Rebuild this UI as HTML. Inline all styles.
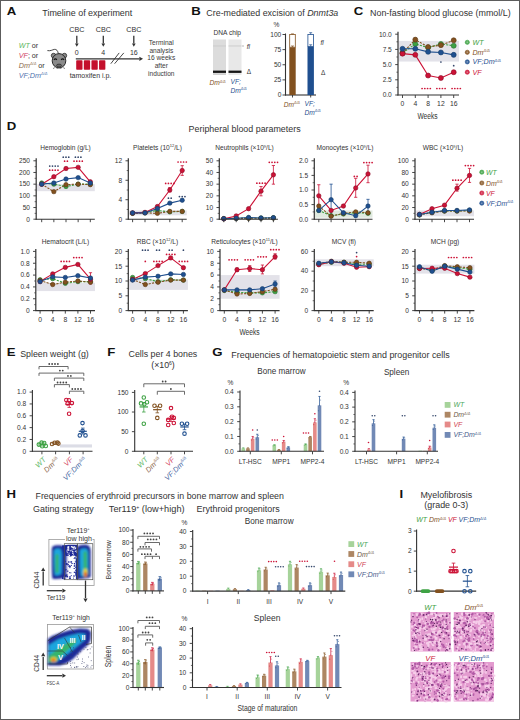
<!DOCTYPE html>
<html><head><meta charset="utf-8"><style>
html,body{margin:0;padding:0;background:#fff;width:520px;height:720px;overflow:hidden;}
svg{display:block;}
</style></head><body>
<svg width="520" height="720" viewBox="0 0 520 720" font-family='"Liberation Sans", sans-serif'>
<rect x="0" y="0" width="520" height="720" fill="#ffffff"/>
<text transform="translate(6.80 14.80) scale(1.2 1)" x="0" y="0" font-size="11" font-weight="bold" fill="#111">A</text>
<text x="42.30" y="15.60" font-size="8.9" fill="#333333" textLength="90" lengthAdjust="spacingAndGlyphs">Timeline of experiment</text>
<text x="18.70" y="48.20" font-size="7.2" fill="#333333"><tspan fill="#5cb660" font-style="italic">WT</tspan> or</text>
<text x="18.70" y="58.20" font-size="7.2" fill="#333333"><tspan fill="#cf3d62" font-style="italic">VF</tspan>; or</text>
<text x="18.70" y="68.20" font-size="7.2" fill="#333333"><tspan fill="#8d6b4a" font-style="italic">Dm<tspan font-size="4" dy="-2.8">Δ/Δ</tspan></tspan><tspan dy="2.8"> or</tspan></text>
<text x="18.70" y="77.80" font-size="7.2" fill="#333333"><tspan fill="#4e72ad" font-style="italic">VF;Dm<tspan font-size="4" dy="-2.8">Δ/Δ</tspan></tspan></text>
<path d="M58.3,53.5 C57.8,50.8 56.5,49.0 54.3,49.4 C52.3,49.8 50.5,51.2 47.4,50.6" fill="none" stroke="#333" stroke-width="0.9"/>
<circle cx="53.6" cy="55.6" r="2.3" fill="#8a8a8a" stroke="#2a2a2a" stroke-width="0.8"/>
<circle cx="64.4" cy="55.6" r="2.3" fill="#8a8a8a" stroke="#2a2a2a" stroke-width="0.8"/>
<ellipse cx="59" cy="60.8" rx="6.8" ry="7.2" fill="#8a8a8a" stroke="#2a2a2a" stroke-width="1.0"/>
<path d="M53.9,59.8 q1.5,-1.8 3.0,0" fill="none" stroke="#111" stroke-width="1.1"/>
<path d="M61.1,59.8 q1.5,-1.8 3.0,0" fill="none" stroke="#111" stroke-width="1.1"/>
<ellipse cx="59" cy="65.6" rx="2.6" ry="1.5" fill="#666" stroke="#222" stroke-width="0.7"/>
<path d="M54.8,67.6 l-1.8,1.0 M63.2,67.6 l1.8,1.0 M57.5,67.8 l-0.6,1.2 M60.5,67.8 l0.6,1.2" stroke="#333" stroke-width="0.6"/>
<text x="76.80" y="31.60" font-size="7.2" fill="#333" text-anchor="middle">CBC</text>
<line x1="76.80" y1="35.80" x2="76.80" y2="43.50" stroke="#333333" stroke-width="1.3"/>
<polygon points="74.96,43.58 78.64,43.58 76.8,46.8" fill="#333333"/>
<text x="76.80" y="55.00" font-size="7.0" fill="#333" text-anchor="middle">0</text>
<text x="103.30" y="31.60" font-size="7.2" fill="#333" text-anchor="middle">CBC</text>
<line x1="103.30" y1="35.80" x2="103.30" y2="43.50" stroke="#333333" stroke-width="1.3"/>
<polygon points="101.46,43.58 105.14,43.58 103.3,46.8" fill="#333333"/>
<text x="103.30" y="55.00" font-size="7.0" fill="#333" text-anchor="middle">4</text>
<text x="133.80" y="31.60" font-size="7.2" fill="#333" text-anchor="middle">CBC</text>
<line x1="133.80" y1="35.80" x2="133.80" y2="43.50" stroke="#333333" stroke-width="1.3"/>
<polygon points="131.96,43.58 135.64000000000001,43.58 133.8,46.8" fill="#333333"/>
<text x="133.80" y="55.00" font-size="7.0" fill="#333" text-anchor="middle">16</text>
<line x1="75.80" y1="58.80" x2="139.50" y2="58.80" stroke="#333333" stroke-width="1.3"/>
<polygon points="139.36,56.72 139.36,60.879999999999995 143.0,58.8" fill="#333333"/>
<line x1="110.80" y1="63.70" x2="119.20" y2="52.90" stroke="#333333" stroke-width="0.9"/>
<line x1="114.60" y1="63.70" x2="123.80" y2="52.90" stroke="#333333" stroke-width="0.9"/>
<rect x="76.20" y="60.2" width="6.3" height="9.6" rx="0.8" fill="#c4102c"/>
<rect x="83.82" y="60.2" width="6.3" height="9.6" rx="0.8" fill="#c4102c"/>
<rect x="91.44" y="60.2" width="6.3" height="9.6" rx="0.8" fill="#c4102c"/>
<rect x="99.06" y="60.2" width="6.3" height="9.6" rx="0.8" fill="#c4102c"/>
<text x="90.50" y="78.00" font-size="7.0" fill="#333333" text-anchor="middle">tamoxifen i.p.</text>
<text x="161.30" y="44.80" font-size="6.6" fill="#3a3a3a" text-anchor="middle">Terminal</text>
<text x="161.30" y="52.60" font-size="6.6" fill="#3a3a3a" text-anchor="middle">analysis</text>
<text x="161.30" y="60.40" font-size="6.6" fill="#3a3a3a" text-anchor="middle">16 weeks</text>
<text x="161.30" y="68.10" font-size="6.6" fill="#3a3a3a" text-anchor="middle">after</text>
<text x="161.30" y="75.90" font-size="6.6" fill="#3a3a3a" text-anchor="middle">induction</text>
<text transform="translate(191.20 14.70) scale(1.2 1)" x="0" y="0" font-size="11" font-weight="bold" fill="#111">B</text>
<text x="206.30" y="15.60" font-size="8.9" fill="#333333" textLength="132" lengthAdjust="spacingAndGlyphs">Cre-mediated excision of <tspan font-style="italic">Dnmt3a</tspan></text>
<text x="227.30" y="34.60" font-size="6.6" fill="#333333" text-anchor="middle">DNA chip</text>
<defs><linearGradient id="lane" x1="0" y1="0" x2="0" y2="1"><stop offset="0" stop-color="#e2e2e2"/><stop offset="1" stop-color="#dcdcdc"/></linearGradient></defs>
<rect x="213.00" y="39.50" width="13.00" height="35.50" fill="#dcdcdc"/>
<rect x="228.50" y="39.50" width="13.00" height="35.50" fill="#e8e8e8"/>
<rect x="213.00" y="45.30" width="13.00" height="1.30" fill="#cfcfcf"/>
<rect x="228.50" y="45.30" width="13.00" height="1.30" fill="#d3d3d3"/>
<rect x="213.00" y="70.60" width="13.00" height="2.30" fill="#151515"/>
<rect x="228.50" y="70.60" width="13.00" height="2.30" fill="#151515"/>
<rect x="213.00" y="73.50" width="13.00" height="1.50" fill="#d0d0d0"/>
<line x1="242.00" y1="46.00" x2="244.00" y2="46.00" stroke="#888" stroke-width="0.6"/>
<text x="246.80" y="48.50" font-size="6.5" fill="#333" font-style="italic">fl</text>
<text x="246.80" y="74.20" font-size="6.5" fill="#333">Δ</text>
<text x="209.50" y="85.30" font-size="6.6" fill="#82511f" font-style="italic">Dm<tspan font-size="3.6" dy="-2.5">Δ/Δ</tspan></text>
<text x="230.50" y="84.30" font-size="6.6" fill="#1f4f8f" font-style="italic">VF;</text>
<text x="230.50" y="92.50" font-size="6.6" fill="#1f4f8f" font-style="italic">Dm<tspan font-size="3.6" dy="-2.5">Δ/Δ</tspan></text>
<line x1="285.50" y1="33.50" x2="285.50" y2="95.50" stroke="#333333" stroke-width="1.1"/>
<line x1="285.00" y1="95.00" x2="316.00" y2="95.00" stroke="#333333" stroke-width="1.1"/>
<line x1="282.50" y1="95.00" x2="285.50" y2="95.00" stroke="#333333" stroke-width="0.9"/>
<text x="281.30" y="97.40" font-size="6.6" fill="#333333" text-anchor="end">0</text>
<line x1="282.50" y1="79.88" x2="285.50" y2="79.88" stroke="#333333" stroke-width="0.9"/>
<text x="281.30" y="82.28" font-size="6.6" fill="#333333" text-anchor="end">25</text>
<line x1="282.50" y1="64.75" x2="285.50" y2="64.75" stroke="#333333" stroke-width="0.9"/>
<text x="281.30" y="67.15" font-size="6.6" fill="#333333" text-anchor="end">50</text>
<line x1="282.50" y1="49.62" x2="285.50" y2="49.62" stroke="#333333" stroke-width="0.9"/>
<text x="281.30" y="52.02" font-size="6.6" fill="#333333" text-anchor="end">75</text>
<line x1="282.50" y1="34.50" x2="285.50" y2="34.50" stroke="#333333" stroke-width="0.9"/>
<text x="281.30" y="36.90" font-size="6.6" fill="#333333" text-anchor="end">100</text>
<text x="276.50" y="27.30" font-size="6.6" fill="#333333" text-anchor="middle">%</text>
<rect x="289.30" y="47.20" width="6.40" height="47.80" fill="#82511f"/>
<rect x="289.70" y="34.50" width="5.60" height="12.71" fill="white" stroke="#82511f" stroke-width="0.8"/>
<line x1="292.50" y1="47.20" x2="292.50" y2="46.00" stroke="#82511f" stroke-width="0.7"/>
<line x1="291.00" y1="46.00" x2="294.00" y2="46.00" stroke="#82511f" stroke-width="0.7"/>
<line x1="292.50" y1="34.50" x2="292.50" y2="33.90" stroke="#82511f" stroke-width="0.7"/>
<line x1="291.00" y1="33.90" x2="294.00" y2="33.90" stroke="#82511f" stroke-width="0.7"/>
<line x1="292.50" y1="95.00" x2="292.50" y2="97.50" stroke="#333333" stroke-width="0.9"/>
<rect x="307.50" y="46.60" width="6.40" height="48.40" fill="#1f4f8f"/>
<rect x="307.90" y="34.50" width="5.60" height="12.10" fill="white" stroke="#1f4f8f" stroke-width="0.8"/>
<line x1="310.70" y1="46.60" x2="310.70" y2="44.79" stroke="#1f4f8f" stroke-width="0.7"/>
<line x1="309.20" y1="44.79" x2="312.20" y2="44.79" stroke="#1f4f8f" stroke-width="0.7"/>
<line x1="310.70" y1="34.50" x2="310.70" y2="32.69" stroke="#1f4f8f" stroke-width="0.7"/>
<line x1="309.20" y1="32.69" x2="312.20" y2="32.69" stroke="#1f4f8f" stroke-width="0.7"/>
<line x1="310.70" y1="95.00" x2="310.70" y2="97.50" stroke="#333333" stroke-width="0.9"/>
<text x="320.50" y="44.80" font-size="6.5" fill="#333" font-style="italic">fl</text>
<text x="321.00" y="74.50" font-size="6.5" fill="#333">Δ</text>
<text x="283.80" y="106.80" font-size="6.6" fill="#82511f" font-style="italic">Dm<tspan font-size="3.6" dy="-2.5">Δ/Δ</tspan></text>
<text x="304.50" y="106.00" font-size="6.6" fill="#1f4f8f" font-style="italic">VF;</text>
<text x="304.50" y="114.50" font-size="6.6" fill="#1f4f8f" font-style="italic">Dm<tspan font-size="3.6" dy="-2.5">Δ/Δ</tspan></text>
<text transform="translate(353.80 14.90) scale(1.2 1)" x="0" y="0" font-size="11" font-weight="bold" fill="#111">C</text>
<text x="370.00" y="15.60" font-size="8.9" fill="#333333" textLength="140.7" lengthAdjust="spacingAndGlyphs">Non-fasting blood glucose (mmol/L)</text>
<rect x="398.50" y="40.89" width="60.50" height="20.67" fill="#e3e2e9"/>
<polyline points="402.50,53.05 415.30,43.93 428.10,47.58 440.90,43.93 453.70,45.75" fill="none" stroke="#3ea244" stroke-width="1.1" stroke-dasharray="2.2,1.2"/>
<polyline points="402.50,53.05 415.30,39.67 428.10,46.97 440.90,45.14 453.70,40.28" fill="none" stroke="#82511f" stroke-width="1.1" stroke-dasharray="2.2,1.2"/>
<polyline points="402.50,53.66 415.30,54.87 428.10,75.54 440.90,77.98 453.70,72.20" fill="none" stroke="#cc1236" stroke-width="1.1"/>
<polyline points="402.50,48.79 415.30,48.79 428.10,51.83 440.90,52.44 453.70,54.87" fill="none" stroke="#1f4f8f" stroke-width="1.1"/>
<line x1="453.70" y1="73.72" x2="453.70" y2="70.68" stroke="#cc1236" stroke-width="0.8"/>
<line x1="452.10" y1="73.72" x2="455.30" y2="73.72" stroke="#cc1236" stroke-width="0.8"/>
<line x1="452.10" y1="70.68" x2="455.30" y2="70.68" stroke="#cc1236" stroke-width="0.8"/>
<line x1="453.70" y1="56.70" x2="453.70" y2="53.05" stroke="#1f4f8f" stroke-width="0.8"/>
<line x1="452.10" y1="56.70" x2="455.30" y2="56.70" stroke="#1f4f8f" stroke-width="0.8"/>
<line x1="452.10" y1="53.05" x2="455.30" y2="53.05" stroke="#1f4f8f" stroke-width="0.8"/>
<line x1="415.30" y1="41.50" x2="415.30" y2="37.85" stroke="#82511f" stroke-width="0.8"/>
<line x1="413.70" y1="41.50" x2="416.90" y2="41.50" stroke="#82511f" stroke-width="0.8"/>
<line x1="413.70" y1="37.85" x2="416.90" y2="37.85" stroke="#82511f" stroke-width="0.8"/>
<circle cx="402.50" cy="53.05" r="2.5" fill="#3ea244" stroke="#2a6e30" stroke-width="0.6"/>
<circle cx="415.30" cy="43.93" r="2.5" fill="#3ea244" stroke="#2a6e30" stroke-width="0.6"/>
<circle cx="428.10" cy="47.58" r="2.5" fill="#3ea244" stroke="#2a6e30" stroke-width="0.6"/>
<circle cx="440.90" cy="43.93" r="2.5" fill="#3ea244" stroke="#2a6e30" stroke-width="0.6"/>
<circle cx="453.70" cy="45.75" r="2.5" fill="#3ea244" stroke="#2a6e30" stroke-width="0.6"/>
<circle cx="402.50" cy="53.05" r="2.5" fill="#82511f" stroke="#5a3814" stroke-width="0.6"/>
<circle cx="415.30" cy="39.67" r="2.5" fill="#82511f" stroke="#5a3814" stroke-width="0.6"/>
<circle cx="428.10" cy="46.97" r="2.5" fill="#82511f" stroke="#5a3814" stroke-width="0.6"/>
<circle cx="440.90" cy="45.14" r="2.5" fill="#82511f" stroke="#5a3814" stroke-width="0.6"/>
<circle cx="453.70" cy="40.28" r="2.5" fill="#82511f" stroke="#5a3814" stroke-width="0.6"/>
<circle cx="402.50" cy="53.66" r="2.5" fill="#cc1236" stroke="#8a0c26" stroke-width="0.6"/>
<circle cx="415.30" cy="54.87" r="2.5" fill="#cc1236" stroke="#8a0c26" stroke-width="0.6"/>
<circle cx="428.10" cy="75.54" r="2.5" fill="#cc1236" stroke="#8a0c26" stroke-width="0.6"/>
<circle cx="440.90" cy="77.98" r="2.5" fill="#cc1236" stroke="#8a0c26" stroke-width="0.6"/>
<circle cx="453.70" cy="72.20" r="2.5" fill="#cc1236" stroke="#8a0c26" stroke-width="0.6"/>
<circle cx="402.50" cy="48.79" r="2.5" fill="#1f4f8f" stroke="#173e6a" stroke-width="0.6"/>
<circle cx="415.30" cy="48.79" r="2.5" fill="#1f4f8f" stroke="#173e6a" stroke-width="0.6"/>
<circle cx="428.10" cy="51.83" r="2.5" fill="#1f4f8f" stroke="#173e6a" stroke-width="0.6"/>
<circle cx="440.90" cy="52.44" r="2.5" fill="#1f4f8f" stroke="#173e6a" stroke-width="0.6"/>
<circle cx="453.70" cy="54.87" r="2.5" fill="#1f4f8f" stroke="#173e6a" stroke-width="0.6"/>
<line x1="398.00" y1="31.70" x2="398.00" y2="95.50" stroke="#333333" stroke-width="1.2"/>
<line x1="397.50" y1="95.00" x2="459.00" y2="95.00" stroke="#333333" stroke-width="1.1"/>
<line x1="395.20" y1="95.00" x2="398.00" y2="95.00" stroke="#333333" stroke-width="0.9"/>
<text x="391.80" y="97.30" font-size="6.6" fill="#333333" text-anchor="end">0.0</text>
<line x1="395.20" y1="79.80" x2="398.00" y2="79.80" stroke="#333333" stroke-width="0.9"/>
<text x="391.80" y="82.10" font-size="6.6" fill="#333333" text-anchor="end">2.5</text>
<line x1="395.20" y1="64.60" x2="398.00" y2="64.60" stroke="#333333" stroke-width="0.9"/>
<text x="391.80" y="66.90" font-size="6.6" fill="#333333" text-anchor="end">5.0</text>
<line x1="395.20" y1="49.40" x2="398.00" y2="49.40" stroke="#333333" stroke-width="0.9"/>
<text x="391.80" y="51.70" font-size="6.6" fill="#333333" text-anchor="end">7.5</text>
<line x1="395.20" y1="34.20" x2="398.00" y2="34.20" stroke="#333333" stroke-width="0.9"/>
<text x="391.80" y="36.50" font-size="6.6" fill="#333333" text-anchor="end">10.0</text>
<line x1="396.40" y1="87.40" x2="398.00" y2="87.40" stroke="#333333" stroke-width="0.7"/>
<line x1="396.40" y1="72.20" x2="398.00" y2="72.20" stroke="#333333" stroke-width="0.7"/>
<line x1="396.40" y1="57.00" x2="398.00" y2="57.00" stroke="#333333" stroke-width="0.7"/>
<line x1="396.40" y1="41.80" x2="398.00" y2="41.80" stroke="#333333" stroke-width="0.7"/>
<line x1="402.50" y1="95.00" x2="402.50" y2="98.00" stroke="#333333" stroke-width="0.9"/>
<text x="402.50" y="106.20" font-size="6.8" fill="#333333" text-anchor="middle">0</text>
<line x1="415.30" y1="95.00" x2="415.30" y2="98.00" stroke="#333333" stroke-width="0.9"/>
<text x="415.30" y="106.20" font-size="6.8" fill="#333333" text-anchor="middle">4</text>
<line x1="428.10" y1="95.00" x2="428.10" y2="98.00" stroke="#333333" stroke-width="0.9"/>
<text x="428.10" y="106.20" font-size="6.8" fill="#333333" text-anchor="middle">8</text>
<line x1="440.90" y1="95.00" x2="440.90" y2="98.00" stroke="#333333" stroke-width="0.9"/>
<text x="440.90" y="106.20" font-size="6.8" fill="#333333" text-anchor="middle">12</text>
<line x1="453.70" y1="95.00" x2="453.70" y2="98.00" stroke="#333333" stroke-width="0.9"/>
<text x="453.70" y="106.20" font-size="6.8" fill="#333333" text-anchor="middle">16</text>
<circle cx="422.07" cy="88.50" r="0.87" fill="#cc1236"/><circle cx="424.82" cy="88.50" r="0.87" fill="#cc1236"/><circle cx="427.57" cy="88.50" r="0.87" fill="#cc1236"/><circle cx="430.32" cy="88.50" r="0.87" fill="#cc1236"/>
<circle cx="436.88" cy="88.50" r="0.87" fill="#cc1236"/><circle cx="439.62" cy="88.50" r="0.87" fill="#cc1236"/><circle cx="442.38" cy="88.50" r="0.87" fill="#cc1236"/><circle cx="445.12" cy="88.50" r="0.87" fill="#cc1236"/>
<circle cx="452.07" cy="88.50" r="0.87" fill="#cc1236"/><circle cx="454.82" cy="88.50" r="0.87" fill="#cc1236"/><circle cx="457.57" cy="88.50" r="0.87" fill="#cc1236"/><circle cx="460.32" cy="88.50" r="0.87" fill="#cc1236"/>
<circle cx="440.90" cy="62.00" r="0.87" fill="#34476b"/>
<circle cx="453.70" cy="65.70" r="0.87" fill="#34476b"/>
<text x="427.50" y="118.60" font-size="8.4" fill="#333333" text-anchor="middle" textLength="20.2" lengthAdjust="spacingAndGlyphs">Weeks</text>
<circle cx="467.30" cy="42.30" r="2.1" fill="#3ea244" stroke="#3ea244" stroke-width="0.6" fill-opacity="0.85"/>
<circle cx="467.30" cy="42.30" r="0.8" fill="white" stroke="none" stroke-width="0" fill-opacity="0.35"/>
<text x="472.50" y="44.80" font-size="7.1" fill="#3ea244" font-style="italic">WT</text>
<circle cx="467.30" cy="52.30" r="2.1" fill="#82511f" stroke="#82511f" stroke-width="0.6" fill-opacity="0.85"/>
<circle cx="467.30" cy="52.30" r="0.8" fill="white" stroke="none" stroke-width="0" fill-opacity="0.35"/>
<text x="472.50" y="54.80" font-size="7.1" fill="#82511f" font-style="italic">Dm<tspan font-size="3.9" dy="-2.7">Δ/Δ</tspan></text>
<circle cx="467.30" cy="61.90" r="2.1" fill="#1f4f8f" stroke="#1f4f8f" stroke-width="0.6" fill-opacity="0.85"/>
<circle cx="467.30" cy="61.90" r="0.8" fill="white" stroke="none" stroke-width="0" fill-opacity="0.35"/>
<text x="472.50" y="64.40" font-size="7.1" fill="#1f4f8f" font-style="italic">VF;Dm<tspan font-size="3.9" dy="-2.7">Δ/Δ</tspan></text>
<circle cx="467.30" cy="72.20" r="2.1" fill="#cc1236" stroke="#cc1236" stroke-width="0.6" fill-opacity="0.85"/>
<circle cx="467.30" cy="72.20" r="0.8" fill="white" stroke="none" stroke-width="0" fill-opacity="0.35"/>
<text x="472.50" y="74.70" font-size="7.1" fill="#cc1236" font-style="italic">VF</text>
<text transform="translate(6.80 129.80) scale(1.2 1)" x="0" y="0" font-size="11" font-weight="bold" fill="#111">D</text>
<text x="188.60" y="131.60" font-size="8.9" fill="#333333" textLength="112" lengthAdjust="spacingAndGlyphs">Peripheral blood parameters</text>
<text x="65.50" y="150.30" font-size="6.6" fill="#333333" text-anchor="middle">Hemoglobin (g/L)</text>
<rect x="36.70" y="184.16" width="58.10" height="7.01" fill="#e3e2e9"/>
<polyline points="41.70,182.99 53.85,184.16 66.00,186.50 78.15,184.16 90.30,184.16" fill="none" stroke="#3ea244" stroke-width="1.1" stroke-dasharray="2.2,1.2"/>
<polyline points="41.70,184.16 53.85,191.64 66.00,184.63 78.15,184.16 90.30,184.63" fill="none" stroke="#82511f" stroke-width="1.1" stroke-dasharray="2.2,1.2"/>
<polyline points="41.70,184.16 53.85,176.68 66.00,168.51 78.15,167.34 90.30,181.82" fill="none" stroke="#cc1236" stroke-width="1.1"/>
<polyline points="41.70,184.16 53.85,182.99 66.00,179.02 78.15,177.62 90.30,182.99" fill="none" stroke="#1f4f8f" stroke-width="1.1"/>
<circle cx="41.70" cy="182.99" r="2.2" fill="#3ea244" stroke="#2a6e30" stroke-width="0.6"/>
<circle cx="53.85" cy="184.16" r="2.2" fill="#3ea244" stroke="#2a6e30" stroke-width="0.6"/>
<circle cx="66.00" cy="186.50" r="2.2" fill="#3ea244" stroke="#2a6e30" stroke-width="0.6"/>
<circle cx="78.15" cy="184.16" r="2.2" fill="#3ea244" stroke="#2a6e30" stroke-width="0.6"/>
<circle cx="90.30" cy="184.16" r="2.2" fill="#3ea244" stroke="#2a6e30" stroke-width="0.6"/>
<circle cx="41.70" cy="184.16" r="2.2" fill="#82511f" stroke="#5a3814" stroke-width="0.6"/>
<circle cx="53.85" cy="191.64" r="2.2" fill="#82511f" stroke="#5a3814" stroke-width="0.6"/>
<circle cx="66.00" cy="184.63" r="2.2" fill="#82511f" stroke="#5a3814" stroke-width="0.6"/>
<circle cx="78.15" cy="184.16" r="2.2" fill="#82511f" stroke="#5a3814" stroke-width="0.6"/>
<circle cx="90.30" cy="184.63" r="2.2" fill="#82511f" stroke="#5a3814" stroke-width="0.6"/>
<circle cx="41.70" cy="184.16" r="2.2" fill="#cc1236" stroke="#8a0c26" stroke-width="0.6"/>
<circle cx="53.85" cy="176.68" r="2.2" fill="#cc1236" stroke="#8a0c26" stroke-width="0.6"/>
<circle cx="66.00" cy="168.51" r="2.2" fill="#cc1236" stroke="#8a0c26" stroke-width="0.6"/>
<circle cx="78.15" cy="167.34" r="2.2" fill="#cc1236" stroke="#8a0c26" stroke-width="0.6"/>
<circle cx="90.30" cy="181.82" r="2.2" fill="#cc1236" stroke="#8a0c26" stroke-width="0.6"/>
<circle cx="41.70" cy="184.16" r="2.2" fill="#1f4f8f" stroke="#173e6a" stroke-width="0.6"/>
<circle cx="53.85" cy="182.99" r="2.2" fill="#1f4f8f" stroke="#173e6a" stroke-width="0.6"/>
<circle cx="66.00" cy="179.02" r="2.2" fill="#1f4f8f" stroke="#173e6a" stroke-width="0.6"/>
<circle cx="78.15" cy="177.62" r="2.2" fill="#1f4f8f" stroke="#173e6a" stroke-width="0.6"/>
<circle cx="90.30" cy="182.99" r="2.2" fill="#1f4f8f" stroke="#173e6a" stroke-width="0.6"/>
<line x1="36.20" y1="158.30" x2="36.20" y2="219.70" stroke="#333333" stroke-width="1.2"/>
<line x1="35.70" y1="219.20" x2="94.80" y2="219.20" stroke="#333333" stroke-width="1.1"/>
<line x1="33.40" y1="219.20" x2="36.20" y2="219.20" stroke="#333333" stroke-width="0.9"/>
<text x="30.00" y="221.50" font-size="6.6" fill="#333333" text-anchor="end">0</text>
<line x1="33.40" y1="207.52" x2="36.20" y2="207.52" stroke="#333333" stroke-width="0.9"/>
<text x="30.00" y="209.82" font-size="6.6" fill="#333333" text-anchor="end">50</text>
<line x1="33.40" y1="195.84" x2="36.20" y2="195.84" stroke="#333333" stroke-width="0.9"/>
<text x="30.00" y="198.14" font-size="6.6" fill="#333333" text-anchor="end">100</text>
<line x1="33.40" y1="184.16" x2="36.20" y2="184.16" stroke="#333333" stroke-width="0.9"/>
<text x="30.00" y="186.46" font-size="6.6" fill="#333333" text-anchor="end">150</text>
<line x1="33.40" y1="172.48" x2="36.20" y2="172.48" stroke="#333333" stroke-width="0.9"/>
<text x="30.00" y="174.78" font-size="6.6" fill="#333333" text-anchor="end">200</text>
<line x1="33.40" y1="160.80" x2="36.20" y2="160.80" stroke="#333333" stroke-width="0.9"/>
<text x="30.00" y="163.10" font-size="6.6" fill="#333333" text-anchor="end">250</text>
<line x1="34.60" y1="213.36" x2="36.20" y2="213.36" stroke="#333333" stroke-width="0.7"/>
<line x1="34.60" y1="201.68" x2="36.20" y2="201.68" stroke="#333333" stroke-width="0.7"/>
<line x1="34.60" y1="190.00" x2="36.20" y2="190.00" stroke="#333333" stroke-width="0.7"/>
<line x1="34.60" y1="178.32" x2="36.20" y2="178.32" stroke="#333333" stroke-width="0.7"/>
<line x1="34.60" y1="166.64" x2="36.20" y2="166.64" stroke="#333333" stroke-width="0.7"/>
<line x1="41.70" y1="219.20" x2="41.70" y2="222.20" stroke="#333333" stroke-width="0.9"/>
<line x1="53.85" y1="219.20" x2="53.85" y2="222.20" stroke="#333333" stroke-width="0.9"/>
<line x1="66.00" y1="219.20" x2="66.00" y2="222.20" stroke="#333333" stroke-width="0.9"/>
<line x1="78.15" y1="219.20" x2="78.15" y2="222.20" stroke="#333333" stroke-width="0.9"/>
<line x1="90.30" y1="219.20" x2="90.30" y2="222.20" stroke="#333333" stroke-width="0.9"/>
<circle cx="49.73" cy="166.10" r="0.87" fill="#34476b"/><circle cx="52.48" cy="166.10" r="0.87" fill="#34476b"/><circle cx="55.23" cy="166.10" r="0.87" fill="#34476b"/><circle cx="57.98" cy="166.10" r="0.87" fill="#34476b"/>
<circle cx="49.73" cy="170.20" r="0.87" fill="#cc1236"/><circle cx="52.48" cy="170.20" r="0.87" fill="#cc1236"/><circle cx="55.23" cy="170.20" r="0.87" fill="#cc1236"/><circle cx="57.98" cy="170.20" r="0.87" fill="#cc1236"/>
<circle cx="63.25" cy="157.20" r="0.87" fill="#34476b"/><circle cx="66.00" cy="157.20" r="0.87" fill="#34476b"/><circle cx="68.75" cy="157.20" r="0.87" fill="#34476b"/>
<circle cx="64.62" cy="161.20" r="0.87" fill="#cc1236"/><circle cx="67.38" cy="161.20" r="0.87" fill="#cc1236"/>
<circle cx="75.40" cy="157.20" r="0.87" fill="#34476b"/><circle cx="78.15" cy="157.20" r="0.87" fill="#34476b"/><circle cx="80.90" cy="157.20" r="0.87" fill="#34476b"/>
<circle cx="74.03" cy="161.20" r="0.87" fill="#cc1236"/><circle cx="76.78" cy="161.20" r="0.87" fill="#cc1236"/><circle cx="79.53" cy="161.20" r="0.87" fill="#cc1236"/><circle cx="82.28" cy="161.20" r="0.87" fill="#cc1236"/>
<text x="157.50" y="150.00" font-size="6.6" fill="#333333" text-anchor="middle">Platelets (10<tspan font-size="4" dy="-2.6">12</tspan><tspan dy="2.6">/L)</tspan></text>
<rect x="128.80" y="210.44" width="57.90" height="4.87" fill="#e3e2e9"/>
<polyline points="132.60,213.36 145.00,212.87 157.40,210.44 169.80,211.90 182.20,211.41" fill="none" stroke="#3ea244" stroke-width="1.1" stroke-dasharray="2.2,1.2"/>
<polyline points="132.60,213.36 145.00,212.87 157.40,213.36 169.80,211.41 182.20,211.41" fill="none" stroke="#82511f" stroke-width="1.1" stroke-dasharray="2.2,1.2"/>
<polyline points="132.60,212.87 145.00,212.39 157.40,206.55 169.80,190.00 182.20,170.53" fill="none" stroke="#cc1236" stroke-width="1.1"/>
<polyline points="132.60,212.87 145.00,212.87 157.40,208.49 169.80,203.14 182.20,200.22" fill="none" stroke="#1f4f8f" stroke-width="1.1"/>
<line x1="169.80" y1="191.95" x2="169.80" y2="187.57" stroke="#cc1236" stroke-width="0.8"/>
<line x1="168.20" y1="191.95" x2="171.40" y2="191.95" stroke="#cc1236" stroke-width="0.8"/>
<line x1="168.20" y1="187.57" x2="171.40" y2="187.57" stroke="#cc1236" stroke-width="0.8"/>
<line x1="182.20" y1="175.40" x2="182.20" y2="165.67" stroke="#cc1236" stroke-width="0.8"/>
<line x1="180.60" y1="175.40" x2="183.80" y2="175.40" stroke="#cc1236" stroke-width="0.8"/>
<line x1="180.60" y1="165.67" x2="183.80" y2="165.67" stroke="#cc1236" stroke-width="0.8"/>
<circle cx="132.60" cy="213.36" r="2.2" fill="#3ea244" stroke="#2a6e30" stroke-width="0.6"/>
<circle cx="145.00" cy="212.87" r="2.2" fill="#3ea244" stroke="#2a6e30" stroke-width="0.6"/>
<circle cx="157.40" cy="210.44" r="2.2" fill="#3ea244" stroke="#2a6e30" stroke-width="0.6"/>
<circle cx="169.80" cy="211.90" r="2.2" fill="#3ea244" stroke="#2a6e30" stroke-width="0.6"/>
<circle cx="182.20" cy="211.41" r="2.2" fill="#3ea244" stroke="#2a6e30" stroke-width="0.6"/>
<circle cx="132.60" cy="213.36" r="2.2" fill="#82511f" stroke="#5a3814" stroke-width="0.6"/>
<circle cx="145.00" cy="212.87" r="2.2" fill="#82511f" stroke="#5a3814" stroke-width="0.6"/>
<circle cx="157.40" cy="213.36" r="2.2" fill="#82511f" stroke="#5a3814" stroke-width="0.6"/>
<circle cx="169.80" cy="211.41" r="2.2" fill="#82511f" stroke="#5a3814" stroke-width="0.6"/>
<circle cx="182.20" cy="211.41" r="2.2" fill="#82511f" stroke="#5a3814" stroke-width="0.6"/>
<circle cx="132.60" cy="212.87" r="2.2" fill="#cc1236" stroke="#8a0c26" stroke-width="0.6"/>
<circle cx="145.00" cy="212.39" r="2.2" fill="#cc1236" stroke="#8a0c26" stroke-width="0.6"/>
<circle cx="157.40" cy="206.55" r="2.2" fill="#cc1236" stroke="#8a0c26" stroke-width="0.6"/>
<circle cx="169.80" cy="190.00" r="2.2" fill="#cc1236" stroke="#8a0c26" stroke-width="0.6"/>
<circle cx="182.20" cy="170.53" r="2.2" fill="#cc1236" stroke="#8a0c26" stroke-width="0.6"/>
<circle cx="132.60" cy="212.87" r="2.2" fill="#1f4f8f" stroke="#173e6a" stroke-width="0.6"/>
<circle cx="145.00" cy="212.87" r="2.2" fill="#1f4f8f" stroke="#173e6a" stroke-width="0.6"/>
<circle cx="157.40" cy="208.49" r="2.2" fill="#1f4f8f" stroke="#173e6a" stroke-width="0.6"/>
<circle cx="169.80" cy="203.14" r="2.2" fill="#1f4f8f" stroke="#173e6a" stroke-width="0.6"/>
<circle cx="182.20" cy="200.22" r="2.2" fill="#1f4f8f" stroke="#173e6a" stroke-width="0.6"/>
<line x1="128.30" y1="158.30" x2="128.30" y2="219.70" stroke="#333333" stroke-width="1.2"/>
<line x1="127.80" y1="219.20" x2="186.70" y2="219.20" stroke="#333333" stroke-width="1.1"/>
<line x1="125.50" y1="219.20" x2="128.30" y2="219.20" stroke="#333333" stroke-width="0.9"/>
<text x="122.10" y="221.50" font-size="6.6" fill="#333333" text-anchor="end">0</text>
<line x1="125.50" y1="199.73" x2="128.30" y2="199.73" stroke="#333333" stroke-width="0.9"/>
<text x="122.10" y="202.03" font-size="6.6" fill="#333333" text-anchor="end">4</text>
<line x1="125.50" y1="180.27" x2="128.30" y2="180.27" stroke="#333333" stroke-width="0.9"/>
<text x="122.10" y="182.57" font-size="6.6" fill="#333333" text-anchor="end">8</text>
<line x1="125.50" y1="160.80" x2="128.30" y2="160.80" stroke="#333333" stroke-width="0.9"/>
<text x="122.10" y="163.10" font-size="6.6" fill="#333333" text-anchor="end">12</text>
<line x1="126.70" y1="209.47" x2="128.30" y2="209.47" stroke="#333333" stroke-width="0.7"/>
<line x1="126.70" y1="190.00" x2="128.30" y2="190.00" stroke="#333333" stroke-width="0.7"/>
<line x1="126.70" y1="170.53" x2="128.30" y2="170.53" stroke="#333333" stroke-width="0.7"/>
<line x1="132.60" y1="219.20" x2="132.60" y2="222.20" stroke="#333333" stroke-width="0.9"/>
<line x1="145.00" y1="219.20" x2="145.00" y2="222.20" stroke="#333333" stroke-width="0.9"/>
<line x1="157.40" y1="219.20" x2="157.40" y2="222.20" stroke="#333333" stroke-width="0.9"/>
<line x1="169.80" y1="219.20" x2="169.80" y2="222.20" stroke="#333333" stroke-width="0.9"/>
<line x1="182.20" y1="219.20" x2="182.20" y2="222.20" stroke="#333333" stroke-width="0.9"/>
<circle cx="165.68" cy="183.40" r="0.87" fill="#cc1236"/><circle cx="168.43" cy="183.40" r="0.87" fill="#cc1236"/><circle cx="171.18" cy="183.40" r="0.87" fill="#cc1236"/><circle cx="173.93" cy="183.40" r="0.87" fill="#cc1236"/>
<circle cx="178.08" cy="162.00" r="0.87" fill="#cc1236"/><circle cx="180.83" cy="162.00" r="0.87" fill="#cc1236"/><circle cx="183.58" cy="162.00" r="0.87" fill="#cc1236"/><circle cx="186.33" cy="162.00" r="0.87" fill="#cc1236"/>
<circle cx="168.43" cy="198.20" r="0.87" fill="#34476b"/><circle cx="171.18" cy="198.20" r="0.87" fill="#34476b"/>
<circle cx="179.45" cy="196.60" r="0.87" fill="#34476b"/><circle cx="182.20" cy="196.60" r="0.87" fill="#34476b"/><circle cx="184.95" cy="196.60" r="0.87" fill="#34476b"/>
<text x="244.50" y="150.30" font-size="6.6" fill="#333333" text-anchor="middle">Neutrophils (×10<tspan font-size="4" dy="-2.6">9</tspan><tspan dy="2.6">/L)</tspan></text>
<polyline points="223.80,218.62 236.20,218.27 248.60,218.03 261.00,218.03 273.40,217.80" fill="none" stroke="#3ea244" stroke-width="1.1" stroke-dasharray="2.2,1.2"/>
<polyline points="223.80,218.62 236.20,218.50 248.60,218.27 261.00,218.27 273.40,218.03" fill="none" stroke="#82511f" stroke-width="1.1" stroke-dasharray="2.2,1.2"/>
<polyline points="223.80,218.85 236.20,215.93 248.60,208.69 261.00,191.17 273.40,174.82" fill="none" stroke="#cc1236" stroke-width="1.1"/>
<polyline points="223.80,218.62 236.20,218.27 248.60,217.45 261.00,218.03 273.40,217.68" fill="none" stroke="#1f4f8f" stroke-width="1.1"/>
<line x1="261.00" y1="195.84" x2="261.00" y2="186.50" stroke="#cc1236" stroke-width="0.8"/>
<line x1="259.40" y1="195.84" x2="262.60" y2="195.84" stroke="#cc1236" stroke-width="0.8"/>
<line x1="259.40" y1="186.50" x2="262.60" y2="186.50" stroke="#cc1236" stroke-width="0.8"/>
<line x1="273.40" y1="184.16" x2="273.40" y2="165.47" stroke="#cc1236" stroke-width="0.8"/>
<line x1="271.80" y1="184.16" x2="275.00" y2="184.16" stroke="#cc1236" stroke-width="0.8"/>
<line x1="271.80" y1="165.47" x2="275.00" y2="165.47" stroke="#cc1236" stroke-width="0.8"/>
<circle cx="223.80" cy="218.62" r="2.2" fill="#3ea244" stroke="#2a6e30" stroke-width="0.6"/>
<circle cx="236.20" cy="218.27" r="2.2" fill="#3ea244" stroke="#2a6e30" stroke-width="0.6"/>
<circle cx="248.60" cy="218.03" r="2.2" fill="#3ea244" stroke="#2a6e30" stroke-width="0.6"/>
<circle cx="261.00" cy="218.03" r="2.2" fill="#3ea244" stroke="#2a6e30" stroke-width="0.6"/>
<circle cx="273.40" cy="217.80" r="2.2" fill="#3ea244" stroke="#2a6e30" stroke-width="0.6"/>
<circle cx="223.80" cy="218.62" r="2.2" fill="#82511f" stroke="#5a3814" stroke-width="0.6"/>
<circle cx="236.20" cy="218.50" r="2.2" fill="#82511f" stroke="#5a3814" stroke-width="0.6"/>
<circle cx="248.60" cy="218.27" r="2.2" fill="#82511f" stroke="#5a3814" stroke-width="0.6"/>
<circle cx="261.00" cy="218.27" r="2.2" fill="#82511f" stroke="#5a3814" stroke-width="0.6"/>
<circle cx="273.40" cy="218.03" r="2.2" fill="#82511f" stroke="#5a3814" stroke-width="0.6"/>
<circle cx="223.80" cy="218.85" r="2.2" fill="#cc1236" stroke="#8a0c26" stroke-width="0.6"/>
<circle cx="236.20" cy="215.93" r="2.2" fill="#cc1236" stroke="#8a0c26" stroke-width="0.6"/>
<circle cx="248.60" cy="208.69" r="2.2" fill="#cc1236" stroke="#8a0c26" stroke-width="0.6"/>
<circle cx="261.00" cy="191.17" r="2.2" fill="#cc1236" stroke="#8a0c26" stroke-width="0.6"/>
<circle cx="273.40" cy="174.82" r="2.2" fill="#cc1236" stroke="#8a0c26" stroke-width="0.6"/>
<circle cx="223.80" cy="218.62" r="2.2" fill="#1f4f8f" stroke="#173e6a" stroke-width="0.6"/>
<circle cx="236.20" cy="218.27" r="2.2" fill="#1f4f8f" stroke="#173e6a" stroke-width="0.6"/>
<circle cx="248.60" cy="217.45" r="2.2" fill="#1f4f8f" stroke="#173e6a" stroke-width="0.6"/>
<circle cx="261.00" cy="218.03" r="2.2" fill="#1f4f8f" stroke="#173e6a" stroke-width="0.6"/>
<circle cx="273.40" cy="217.68" r="2.2" fill="#1f4f8f" stroke="#173e6a" stroke-width="0.6"/>
<line x1="219.30" y1="158.30" x2="219.30" y2="219.70" stroke="#333333" stroke-width="1.2"/>
<line x1="218.80" y1="219.20" x2="277.90" y2="219.20" stroke="#333333" stroke-width="1.1"/>
<line x1="216.50" y1="219.20" x2="219.30" y2="219.20" stroke="#333333" stroke-width="0.9"/>
<text x="213.10" y="221.50" font-size="6.6" fill="#333333" text-anchor="end">0</text>
<line x1="216.50" y1="207.52" x2="219.30" y2="207.52" stroke="#333333" stroke-width="0.9"/>
<text x="213.10" y="209.82" font-size="6.6" fill="#333333" text-anchor="end">10</text>
<line x1="216.50" y1="195.84" x2="219.30" y2="195.84" stroke="#333333" stroke-width="0.9"/>
<text x="213.10" y="198.14" font-size="6.6" fill="#333333" text-anchor="end">20</text>
<line x1="216.50" y1="184.16" x2="219.30" y2="184.16" stroke="#333333" stroke-width="0.9"/>
<text x="213.10" y="186.46" font-size="6.6" fill="#333333" text-anchor="end">30</text>
<line x1="216.50" y1="172.48" x2="219.30" y2="172.48" stroke="#333333" stroke-width="0.9"/>
<text x="213.10" y="174.78" font-size="6.6" fill="#333333" text-anchor="end">40</text>
<line x1="216.50" y1="160.80" x2="219.30" y2="160.80" stroke="#333333" stroke-width="0.9"/>
<text x="213.10" y="163.10" font-size="6.6" fill="#333333" text-anchor="end">50</text>
<line x1="217.70" y1="213.36" x2="219.30" y2="213.36" stroke="#333333" stroke-width="0.7"/>
<line x1="217.70" y1="201.68" x2="219.30" y2="201.68" stroke="#333333" stroke-width="0.7"/>
<line x1="217.70" y1="190.00" x2="219.30" y2="190.00" stroke="#333333" stroke-width="0.7"/>
<line x1="217.70" y1="178.32" x2="219.30" y2="178.32" stroke="#333333" stroke-width="0.7"/>
<line x1="217.70" y1="166.64" x2="219.30" y2="166.64" stroke="#333333" stroke-width="0.7"/>
<line x1="223.80" y1="219.20" x2="223.80" y2="222.20" stroke="#333333" stroke-width="0.9"/>
<line x1="236.20" y1="219.20" x2="236.20" y2="222.20" stroke="#333333" stroke-width="0.9"/>
<line x1="248.60" y1="219.20" x2="248.60" y2="222.20" stroke="#333333" stroke-width="0.9"/>
<line x1="261.00" y1="219.20" x2="261.00" y2="222.20" stroke="#333333" stroke-width="0.9"/>
<line x1="273.40" y1="219.20" x2="273.40" y2="222.20" stroke="#333333" stroke-width="0.9"/>
<circle cx="256.88" cy="183.20" r="0.87" fill="#cc1236"/><circle cx="259.62" cy="183.20" r="0.87" fill="#cc1236"/><circle cx="262.38" cy="183.20" r="0.87" fill="#cc1236"/><circle cx="265.12" cy="183.20" r="0.87" fill="#cc1236"/>
<circle cx="269.28" cy="162.30" r="0.87" fill="#cc1236"/><circle cx="272.03" cy="162.30" r="0.87" fill="#cc1236"/><circle cx="274.78" cy="162.30" r="0.87" fill="#cc1236"/><circle cx="277.53" cy="162.30" r="0.87" fill="#cc1236"/>
<text x="345.00" y="150.30" font-size="6.6" fill="#333333" text-anchor="middle">Monocytes (×10<tspan font-size="4" dy="-2.6">9</tspan><tspan dy="2.6">/L)</tspan></text>
<rect x="314.80" y="210.44" width="57.70" height="7.30" fill="#e0eae0"/>
<polyline points="318.80,210.44 331.10,215.70 343.40,213.94 355.70,212.78 368.00,213.36" fill="none" stroke="#3ea244" stroke-width="1.1" stroke-dasharray="2.2,1.2"/>
<polyline points="318.80,206.06 331.10,216.28 343.40,213.36 355.70,211.90 368.00,212.78" fill="none" stroke="#82511f" stroke-width="1.1" stroke-dasharray="2.2,1.2"/>
<polyline points="318.80,195.84 331.10,210.44 343.40,206.06 355.70,187.96 368.00,173.94" fill="none" stroke="#cc1236" stroke-width="1.1"/>
<polyline points="318.80,210.44 331.10,199.64 343.40,212.78 355.70,215.70 368.00,206.06" fill="none" stroke="#1f4f8f" stroke-width="1.1"/>
<line x1="318.80" y1="206.06" x2="318.80" y2="184.74" stroke="#cc1236" stroke-width="0.8"/>
<line x1="317.20" y1="206.06" x2="320.40" y2="206.06" stroke="#cc1236" stroke-width="0.8"/>
<line x1="317.20" y1="184.74" x2="320.40" y2="184.74" stroke="#cc1236" stroke-width="0.8"/>
<line x1="331.10" y1="214.82" x2="331.10" y2="184.16" stroke="#1f4f8f" stroke-width="0.8"/>
<line x1="329.50" y1="214.82" x2="332.70" y2="214.82" stroke="#1f4f8f" stroke-width="0.8"/>
<line x1="329.50" y1="184.16" x2="332.70" y2="184.16" stroke="#1f4f8f" stroke-width="0.8"/>
<line x1="355.70" y1="197.30" x2="355.70" y2="178.32" stroke="#cc1236" stroke-width="0.8"/>
<line x1="354.10" y1="197.30" x2="357.30" y2="197.30" stroke="#cc1236" stroke-width="0.8"/>
<line x1="354.10" y1="178.32" x2="357.30" y2="178.32" stroke="#cc1236" stroke-width="0.8"/>
<line x1="368.00" y1="182.70" x2="368.00" y2="165.18" stroke="#cc1236" stroke-width="0.8"/>
<line x1="366.40" y1="182.70" x2="369.60" y2="182.70" stroke="#cc1236" stroke-width="0.8"/>
<line x1="366.40" y1="165.18" x2="369.60" y2="165.18" stroke="#cc1236" stroke-width="0.8"/>
<line x1="368.00" y1="211.90" x2="368.00" y2="199.34" stroke="#1f4f8f" stroke-width="0.8"/>
<line x1="366.40" y1="211.90" x2="369.60" y2="211.90" stroke="#1f4f8f" stroke-width="0.8"/>
<line x1="366.40" y1="199.34" x2="369.60" y2="199.34" stroke="#1f4f8f" stroke-width="0.8"/>
<circle cx="318.80" cy="210.44" r="2.2" fill="#3ea244" stroke="#2a6e30" stroke-width="0.6"/>
<circle cx="331.10" cy="215.70" r="2.2" fill="#3ea244" stroke="#2a6e30" stroke-width="0.6"/>
<circle cx="343.40" cy="213.94" r="2.2" fill="#3ea244" stroke="#2a6e30" stroke-width="0.6"/>
<circle cx="355.70" cy="212.78" r="2.2" fill="#3ea244" stroke="#2a6e30" stroke-width="0.6"/>
<circle cx="368.00" cy="213.36" r="2.2" fill="#3ea244" stroke="#2a6e30" stroke-width="0.6"/>
<circle cx="318.80" cy="206.06" r="2.2" fill="#82511f" stroke="#5a3814" stroke-width="0.6"/>
<circle cx="331.10" cy="216.28" r="2.2" fill="#82511f" stroke="#5a3814" stroke-width="0.6"/>
<circle cx="343.40" cy="213.36" r="2.2" fill="#82511f" stroke="#5a3814" stroke-width="0.6"/>
<circle cx="355.70" cy="211.90" r="2.2" fill="#82511f" stroke="#5a3814" stroke-width="0.6"/>
<circle cx="368.00" cy="212.78" r="2.2" fill="#82511f" stroke="#5a3814" stroke-width="0.6"/>
<circle cx="318.80" cy="195.84" r="2.2" fill="#cc1236" stroke="#8a0c26" stroke-width="0.6"/>
<circle cx="331.10" cy="210.44" r="2.2" fill="#cc1236" stroke="#8a0c26" stroke-width="0.6"/>
<circle cx="343.40" cy="206.06" r="2.2" fill="#cc1236" stroke="#8a0c26" stroke-width="0.6"/>
<circle cx="355.70" cy="187.96" r="2.2" fill="#cc1236" stroke="#8a0c26" stroke-width="0.6"/>
<circle cx="368.00" cy="173.94" r="2.2" fill="#cc1236" stroke="#8a0c26" stroke-width="0.6"/>
<circle cx="318.80" cy="210.44" r="2.2" fill="#1f4f8f" stroke="#173e6a" stroke-width="0.6"/>
<circle cx="331.10" cy="199.64" r="2.2" fill="#1f4f8f" stroke="#173e6a" stroke-width="0.6"/>
<circle cx="343.40" cy="212.78" r="2.2" fill="#1f4f8f" stroke="#173e6a" stroke-width="0.6"/>
<circle cx="355.70" cy="215.70" r="2.2" fill="#1f4f8f" stroke="#173e6a" stroke-width="0.6"/>
<circle cx="368.00" cy="206.06" r="2.2" fill="#1f4f8f" stroke="#173e6a" stroke-width="0.6"/>
<line x1="314.30" y1="158.30" x2="314.30" y2="219.70" stroke="#333333" stroke-width="1.2"/>
<line x1="313.80" y1="219.20" x2="372.50" y2="219.20" stroke="#333333" stroke-width="1.1"/>
<line x1="311.50" y1="219.20" x2="314.30" y2="219.20" stroke="#333333" stroke-width="0.9"/>
<text x="308.10" y="221.50" font-size="6.6" fill="#333333" text-anchor="end">0.0</text>
<line x1="311.50" y1="204.60" x2="314.30" y2="204.60" stroke="#333333" stroke-width="0.9"/>
<text x="308.10" y="206.90" font-size="6.6" fill="#333333" text-anchor="end">0.5</text>
<line x1="311.50" y1="190.00" x2="314.30" y2="190.00" stroke="#333333" stroke-width="0.9"/>
<text x="308.10" y="192.30" font-size="6.6" fill="#333333" text-anchor="end">1.0</text>
<line x1="311.50" y1="175.40" x2="314.30" y2="175.40" stroke="#333333" stroke-width="0.9"/>
<text x="308.10" y="177.70" font-size="6.6" fill="#333333" text-anchor="end">1.5</text>
<line x1="311.50" y1="160.80" x2="314.30" y2="160.80" stroke="#333333" stroke-width="0.9"/>
<text x="308.10" y="163.10" font-size="6.6" fill="#333333" text-anchor="end">2.0</text>
<line x1="312.70" y1="211.90" x2="314.30" y2="211.90" stroke="#333333" stroke-width="0.7"/>
<line x1="312.70" y1="197.30" x2="314.30" y2="197.30" stroke="#333333" stroke-width="0.7"/>
<line x1="312.70" y1="182.70" x2="314.30" y2="182.70" stroke="#333333" stroke-width="0.7"/>
<line x1="312.70" y1="168.10" x2="314.30" y2="168.10" stroke="#333333" stroke-width="0.7"/>
<line x1="318.80" y1="219.20" x2="318.80" y2="222.20" stroke="#333333" stroke-width="0.9"/>
<line x1="331.10" y1="219.20" x2="331.10" y2="222.20" stroke="#333333" stroke-width="0.9"/>
<line x1="343.40" y1="219.20" x2="343.40" y2="222.20" stroke="#333333" stroke-width="0.9"/>
<line x1="355.70" y1="219.20" x2="355.70" y2="222.20" stroke="#333333" stroke-width="0.9"/>
<line x1="368.00" y1="219.20" x2="368.00" y2="222.20" stroke="#333333" stroke-width="0.9"/>
<circle cx="354.33" cy="176.40" r="0.87" fill="#cc1236"/><circle cx="357.08" cy="176.40" r="0.87" fill="#cc1236"/>
<circle cx="363.88" cy="162.60" r="0.87" fill="#cc1236"/><circle cx="366.62" cy="162.60" r="0.87" fill="#cc1236"/><circle cx="369.38" cy="162.60" r="0.87" fill="#cc1236"/><circle cx="372.12" cy="162.60" r="0.87" fill="#cc1236"/>
<text x="443.00" y="150.30" font-size="6.6" fill="#333333" text-anchor="middle">WBC (×10<tspan font-size="4" dy="-2.6">9</tspan><tspan dy="2.6">/L)</tspan></text>
<rect x="415.50" y="210.44" width="58.50" height="5.84" fill="#e3e2e9"/>
<polyline points="419.50,215.11 432.00,212.19 444.50,211.02 457.00,211.02 469.50,210.44" fill="none" stroke="#3ea244" stroke-width="1.1" stroke-dasharray="2.2,1.2"/>
<polyline points="419.50,214.53 432.00,212.78 444.50,211.02 457.00,211.02 469.50,211.02" fill="none" stroke="#82511f" stroke-width="1.1" stroke-dasharray="2.2,1.2"/>
<polyline points="419.50,214.53 432.00,208.69 444.50,205.18 457.00,188.25 469.50,175.40" fill="none" stroke="#cc1236" stroke-width="1.1"/>
<polyline points="419.50,214.53 432.00,212.19 444.50,210.44 457.00,210.44 469.50,209.86" fill="none" stroke="#1f4f8f" stroke-width="1.1"/>
<line x1="457.00" y1="191.17" x2="457.00" y2="184.16" stroke="#cc1236" stroke-width="0.8"/>
<line x1="455.40" y1="191.17" x2="458.60" y2="191.17" stroke="#cc1236" stroke-width="0.8"/>
<line x1="455.40" y1="184.16" x2="458.60" y2="184.16" stroke="#cc1236" stroke-width="0.8"/>
<line x1="469.50" y1="182.41" x2="469.50" y2="168.39" stroke="#cc1236" stroke-width="0.8"/>
<line x1="467.90" y1="182.41" x2="471.10" y2="182.41" stroke="#cc1236" stroke-width="0.8"/>
<line x1="467.90" y1="168.39" x2="471.10" y2="168.39" stroke="#cc1236" stroke-width="0.8"/>
<circle cx="419.50" cy="215.11" r="2.2" fill="#3ea244" stroke="#2a6e30" stroke-width="0.6"/>
<circle cx="432.00" cy="212.19" r="2.2" fill="#3ea244" stroke="#2a6e30" stroke-width="0.6"/>
<circle cx="444.50" cy="211.02" r="2.2" fill="#3ea244" stroke="#2a6e30" stroke-width="0.6"/>
<circle cx="457.00" cy="211.02" r="2.2" fill="#3ea244" stroke="#2a6e30" stroke-width="0.6"/>
<circle cx="469.50" cy="210.44" r="2.2" fill="#3ea244" stroke="#2a6e30" stroke-width="0.6"/>
<circle cx="419.50" cy="214.53" r="2.2" fill="#82511f" stroke="#5a3814" stroke-width="0.6"/>
<circle cx="432.00" cy="212.78" r="2.2" fill="#82511f" stroke="#5a3814" stroke-width="0.6"/>
<circle cx="444.50" cy="211.02" r="2.2" fill="#82511f" stroke="#5a3814" stroke-width="0.6"/>
<circle cx="457.00" cy="211.02" r="2.2" fill="#82511f" stroke="#5a3814" stroke-width="0.6"/>
<circle cx="469.50" cy="211.02" r="2.2" fill="#82511f" stroke="#5a3814" stroke-width="0.6"/>
<circle cx="419.50" cy="214.53" r="2.2" fill="#cc1236" stroke="#8a0c26" stroke-width="0.6"/>
<circle cx="432.00" cy="208.69" r="2.2" fill="#cc1236" stroke="#8a0c26" stroke-width="0.6"/>
<circle cx="444.50" cy="205.18" r="2.2" fill="#cc1236" stroke="#8a0c26" stroke-width="0.6"/>
<circle cx="457.00" cy="188.25" r="2.2" fill="#cc1236" stroke="#8a0c26" stroke-width="0.6"/>
<circle cx="469.50" cy="175.40" r="2.2" fill="#cc1236" stroke="#8a0c26" stroke-width="0.6"/>
<circle cx="419.50" cy="214.53" r="2.2" fill="#1f4f8f" stroke="#173e6a" stroke-width="0.6"/>
<circle cx="432.00" cy="212.19" r="2.2" fill="#1f4f8f" stroke="#173e6a" stroke-width="0.6"/>
<circle cx="444.50" cy="210.44" r="2.2" fill="#1f4f8f" stroke="#173e6a" stroke-width="0.6"/>
<circle cx="457.00" cy="210.44" r="2.2" fill="#1f4f8f" stroke="#173e6a" stroke-width="0.6"/>
<circle cx="469.50" cy="209.86" r="2.2" fill="#1f4f8f" stroke="#173e6a" stroke-width="0.6"/>
<line x1="415.00" y1="158.30" x2="415.00" y2="219.70" stroke="#333333" stroke-width="1.2"/>
<line x1="414.50" y1="219.20" x2="474.00" y2="219.20" stroke="#333333" stroke-width="1.1"/>
<line x1="412.20" y1="219.20" x2="415.00" y2="219.20" stroke="#333333" stroke-width="0.9"/>
<text x="408.80" y="221.50" font-size="6.6" fill="#333333" text-anchor="end">0</text>
<line x1="412.20" y1="207.52" x2="415.00" y2="207.52" stroke="#333333" stroke-width="0.9"/>
<text x="408.80" y="209.82" font-size="6.6" fill="#333333" text-anchor="end">20</text>
<line x1="412.20" y1="195.84" x2="415.00" y2="195.84" stroke="#333333" stroke-width="0.9"/>
<text x="408.80" y="198.14" font-size="6.6" fill="#333333" text-anchor="end">40</text>
<line x1="412.20" y1="184.16" x2="415.00" y2="184.16" stroke="#333333" stroke-width="0.9"/>
<text x="408.80" y="186.46" font-size="6.6" fill="#333333" text-anchor="end">60</text>
<line x1="412.20" y1="172.48" x2="415.00" y2="172.48" stroke="#333333" stroke-width="0.9"/>
<text x="408.80" y="174.78" font-size="6.6" fill="#333333" text-anchor="end">80</text>
<line x1="412.20" y1="160.80" x2="415.00" y2="160.80" stroke="#333333" stroke-width="0.9"/>
<text x="408.80" y="163.10" font-size="6.6" fill="#333333" text-anchor="end">100</text>
<line x1="413.40" y1="213.36" x2="415.00" y2="213.36" stroke="#333333" stroke-width="0.7"/>
<line x1="413.40" y1="201.68" x2="415.00" y2="201.68" stroke="#333333" stroke-width="0.7"/>
<line x1="413.40" y1="190.00" x2="415.00" y2="190.00" stroke="#333333" stroke-width="0.7"/>
<line x1="413.40" y1="178.32" x2="415.00" y2="178.32" stroke="#333333" stroke-width="0.7"/>
<line x1="413.40" y1="166.64" x2="415.00" y2="166.64" stroke="#333333" stroke-width="0.7"/>
<line x1="419.50" y1="219.20" x2="419.50" y2="222.20" stroke="#333333" stroke-width="0.9"/>
<line x1="432.00" y1="219.20" x2="432.00" y2="222.20" stroke="#333333" stroke-width="0.9"/>
<line x1="444.50" y1="219.20" x2="444.50" y2="222.20" stroke="#333333" stroke-width="0.9"/>
<line x1="457.00" y1="219.20" x2="457.00" y2="222.20" stroke="#333333" stroke-width="0.9"/>
<line x1="469.50" y1="219.20" x2="469.50" y2="222.20" stroke="#333333" stroke-width="0.9"/>
<circle cx="452.88" cy="180.20" r="0.87" fill="#cc1236"/><circle cx="455.62" cy="180.20" r="0.87" fill="#cc1236"/><circle cx="458.38" cy="180.20" r="0.87" fill="#cc1236"/><circle cx="461.12" cy="180.20" r="0.87" fill="#cc1236"/>
<circle cx="465.38" cy="165.60" r="0.87" fill="#cc1236"/><circle cx="468.12" cy="165.60" r="0.87" fill="#cc1236"/><circle cx="470.88" cy="165.60" r="0.87" fill="#cc1236"/><circle cx="473.62" cy="165.60" r="0.87" fill="#cc1236"/>
<circle cx="481.80" cy="172.20" r="2.1" fill="#3ea244" stroke="#3ea244" stroke-width="0.6" fill-opacity="0.85"/>
<circle cx="481.80" cy="172.20" r="0.8" fill="white" stroke="none" stroke-width="0" fill-opacity="0.35"/>
<text x="486.00" y="174.70" font-size="6.8" fill="#3ea244" font-style="italic">WT</text>
<circle cx="481.80" cy="183.00" r="2.1" fill="#82511f" stroke="#82511f" stroke-width="0.6" fill-opacity="0.85"/>
<circle cx="481.80" cy="183.00" r="0.8" fill="white" stroke="none" stroke-width="0" fill-opacity="0.35"/>
<text x="486.00" y="185.50" font-size="6.8" fill="#82511f" font-style="italic">Dm<tspan font-size="3.7" dy="-2.6">Δ/Δ</tspan></text>
<circle cx="481.80" cy="193.00" r="2.1" fill="#cc1236" stroke="#cc1236" stroke-width="0.6" fill-opacity="0.85"/>
<circle cx="481.80" cy="193.00" r="0.8" fill="white" stroke="none" stroke-width="0" fill-opacity="0.35"/>
<text x="486.00" y="195.50" font-size="6.8" fill="#cc1236" font-style="italic">VF</text>
<circle cx="481.80" cy="203.20" r="2.1" fill="#1f4f8f" stroke="#1f4f8f" stroke-width="0.6" fill-opacity="0.85"/>
<circle cx="481.80" cy="203.20" r="0.8" fill="white" stroke="none" stroke-width="0" fill-opacity="0.35"/>
<text x="486.00" y="205.70" font-size="6.8" fill="#1f4f8f" font-style="italic">VF;Dm<tspan font-size="3.7" dy="-2.6">Δ/Δ</tspan></text>
<text x="65.50" y="243.60" font-size="6.6" fill="#333333" text-anchor="middle">Hematocrit (L/L)</text>
<rect x="36.30" y="282.78" width="58.70" height="8.29" fill="#e3e2e9"/>
<polyline points="40.10,279.82 52.70,278.63 65.30,283.37 77.90,281.59 90.50,281.59" fill="none" stroke="#3ea244" stroke-width="1.1" stroke-dasharray="2.2,1.2"/>
<polyline points="40.10,280.41 52.70,284.55 65.30,282.18 77.90,281.00 90.50,282.18" fill="none" stroke="#82511f" stroke-width="1.1" stroke-dasharray="2.2,1.2"/>
<polyline points="40.10,281.59 52.70,273.90 65.30,267.38 77.90,264.42 90.50,279.22" fill="none" stroke="#cc1236" stroke-width="1.1"/>
<polyline points="40.10,281.59 52.70,276.86 65.30,277.45 77.90,275.67 90.50,278.04" fill="none" stroke="#1f4f8f" stroke-width="1.1"/>
<line x1="90.50" y1="283.96" x2="90.50" y2="272.71" stroke="#cc1236" stroke-width="0.8"/>
<line x1="88.90" y1="283.96" x2="92.10" y2="283.96" stroke="#cc1236" stroke-width="0.8"/>
<line x1="88.90" y1="272.71" x2="92.10" y2="272.71" stroke="#cc1236" stroke-width="0.8"/>
<circle cx="40.10" cy="279.82" r="2.2" fill="#3ea244" stroke="#2a6e30" stroke-width="0.6"/>
<circle cx="52.70" cy="278.63" r="2.2" fill="#3ea244" stroke="#2a6e30" stroke-width="0.6"/>
<circle cx="65.30" cy="283.37" r="2.2" fill="#3ea244" stroke="#2a6e30" stroke-width="0.6"/>
<circle cx="77.90" cy="281.59" r="2.2" fill="#3ea244" stroke="#2a6e30" stroke-width="0.6"/>
<circle cx="90.50" cy="281.59" r="2.2" fill="#3ea244" stroke="#2a6e30" stroke-width="0.6"/>
<circle cx="40.10" cy="280.41" r="2.2" fill="#82511f" stroke="#5a3814" stroke-width="0.6"/>
<circle cx="52.70" cy="284.55" r="2.2" fill="#82511f" stroke="#5a3814" stroke-width="0.6"/>
<circle cx="65.30" cy="282.18" r="2.2" fill="#82511f" stroke="#5a3814" stroke-width="0.6"/>
<circle cx="77.90" cy="281.00" r="2.2" fill="#82511f" stroke="#5a3814" stroke-width="0.6"/>
<circle cx="90.50" cy="282.18" r="2.2" fill="#82511f" stroke="#5a3814" stroke-width="0.6"/>
<circle cx="40.10" cy="281.59" r="2.2" fill="#cc1236" stroke="#8a0c26" stroke-width="0.6"/>
<circle cx="52.70" cy="273.90" r="2.2" fill="#cc1236" stroke="#8a0c26" stroke-width="0.6"/>
<circle cx="65.30" cy="267.38" r="2.2" fill="#cc1236" stroke="#8a0c26" stroke-width="0.6"/>
<circle cx="77.90" cy="264.42" r="2.2" fill="#cc1236" stroke="#8a0c26" stroke-width="0.6"/>
<circle cx="90.50" cy="279.22" r="2.2" fill="#cc1236" stroke="#8a0c26" stroke-width="0.6"/>
<circle cx="40.10" cy="281.59" r="2.2" fill="#1f4f8f" stroke="#173e6a" stroke-width="0.6"/>
<circle cx="52.70" cy="276.86" r="2.2" fill="#1f4f8f" stroke="#173e6a" stroke-width="0.6"/>
<circle cx="65.30" cy="277.45" r="2.2" fill="#1f4f8f" stroke="#173e6a" stroke-width="0.6"/>
<circle cx="77.90" cy="275.67" r="2.2" fill="#1f4f8f" stroke="#173e6a" stroke-width="0.6"/>
<circle cx="90.50" cy="278.04" r="2.2" fill="#1f4f8f" stroke="#173e6a" stroke-width="0.6"/>
<line x1="35.80" y1="248.90" x2="35.80" y2="311.10" stroke="#333333" stroke-width="1.2"/>
<line x1="35.30" y1="310.60" x2="95.00" y2="310.60" stroke="#333333" stroke-width="1.1"/>
<line x1="33.00" y1="310.60" x2="35.80" y2="310.60" stroke="#333333" stroke-width="0.9"/>
<text x="29.60" y="312.90" font-size="6.6" fill="#333333" text-anchor="end">0</text>
<line x1="33.00" y1="298.76" x2="35.80" y2="298.76" stroke="#333333" stroke-width="0.9"/>
<text x="29.60" y="301.06" font-size="6.6" fill="#333333" text-anchor="end">0.2</text>
<line x1="33.00" y1="286.92" x2="35.80" y2="286.92" stroke="#333333" stroke-width="0.9"/>
<text x="29.60" y="289.22" font-size="6.6" fill="#333333" text-anchor="end">0.4</text>
<line x1="33.00" y1="275.08" x2="35.80" y2="275.08" stroke="#333333" stroke-width="0.9"/>
<text x="29.60" y="277.38" font-size="6.6" fill="#333333" text-anchor="end">0.6</text>
<line x1="33.00" y1="263.24" x2="35.80" y2="263.24" stroke="#333333" stroke-width="0.9"/>
<text x="29.60" y="265.54" font-size="6.6" fill="#333333" text-anchor="end">0.8</text>
<line x1="33.00" y1="251.40" x2="35.80" y2="251.40" stroke="#333333" stroke-width="0.9"/>
<text x="29.60" y="253.70" font-size="6.6" fill="#333333" text-anchor="end">1.0</text>
<line x1="34.20" y1="304.68" x2="35.80" y2="304.68" stroke="#333333" stroke-width="0.7"/>
<line x1="34.20" y1="292.84" x2="35.80" y2="292.84" stroke="#333333" stroke-width="0.7"/>
<line x1="34.20" y1="281.00" x2="35.80" y2="281.00" stroke="#333333" stroke-width="0.7"/>
<line x1="34.20" y1="269.16" x2="35.80" y2="269.16" stroke="#333333" stroke-width="0.7"/>
<line x1="34.20" y1="257.32" x2="35.80" y2="257.32" stroke="#333333" stroke-width="0.7"/>
<line x1="40.10" y1="310.60" x2="40.10" y2="313.60" stroke="#333333" stroke-width="0.9"/>
<text x="40.10" y="321.80" font-size="6.8" fill="#333333" text-anchor="middle">0</text>
<line x1="52.70" y1="310.60" x2="52.70" y2="313.60" stroke="#333333" stroke-width="0.9"/>
<text x="52.70" y="321.80" font-size="6.8" fill="#333333" text-anchor="middle">4</text>
<line x1="65.30" y1="310.60" x2="65.30" y2="313.60" stroke="#333333" stroke-width="0.9"/>
<text x="65.30" y="321.80" font-size="6.8" fill="#333333" text-anchor="middle">8</text>
<line x1="77.90" y1="310.60" x2="77.90" y2="313.60" stroke="#333333" stroke-width="0.9"/>
<text x="77.90" y="321.80" font-size="6.8" fill="#333333" text-anchor="middle">12</text>
<line x1="90.50" y1="310.60" x2="90.50" y2="313.60" stroke="#333333" stroke-width="0.9"/>
<text x="90.50" y="321.80" font-size="6.8" fill="#333333" text-anchor="middle">16</text>
<circle cx="61.17" cy="261.40" r="0.87" fill="#cc1236"/><circle cx="63.92" cy="261.40" r="0.87" fill="#cc1236"/><circle cx="66.67" cy="261.40" r="0.87" fill="#cc1236"/><circle cx="69.42" cy="261.40" r="0.87" fill="#cc1236"/>
<circle cx="73.77" cy="257.60" r="0.87" fill="#cc1236"/><circle cx="76.52" cy="257.60" r="0.87" fill="#cc1236"/><circle cx="79.27" cy="257.60" r="0.87" fill="#cc1236"/><circle cx="82.02" cy="257.60" r="0.87" fill="#cc1236"/>
<text x="157.50" y="243.60" font-size="6.6" fill="#333333" text-anchor="middle">RBC (×10<tspan font-size="4" dy="-2.6">12</tspan><tspan dy="2.6">/L)</tspan></text>
<rect x="128.80" y="279.52" width="59.10" height="10.36" fill="#e3e2e9"/>
<polyline points="132.60,277.45 145.30,278.63 158.00,281.59 170.70,279.82 183.40,280.11" fill="none" stroke="#3ea244" stroke-width="1.1" stroke-dasharray="2.2,1.2"/>
<polyline points="132.60,279.52 145.30,284.55 158.00,282.18 170.70,280.11 183.40,280.11" fill="none" stroke="#82511f" stroke-width="1.1" stroke-dasharray="2.2,1.2"/>
<polyline points="132.60,279.52 145.30,273.60 158.00,265.61 170.70,257.91 183.40,267.68" fill="none" stroke="#cc1236" stroke-width="1.1"/>
<polyline points="132.60,280.11 145.30,277.15 158.00,276.26 170.70,273.90 183.40,274.49" fill="none" stroke="#1f4f8f" stroke-width="1.1"/>
<circle cx="132.60" cy="277.45" r="2.2" fill="#3ea244" stroke="#2a6e30" stroke-width="0.6"/>
<circle cx="145.30" cy="278.63" r="2.2" fill="#3ea244" stroke="#2a6e30" stroke-width="0.6"/>
<circle cx="158.00" cy="281.59" r="2.2" fill="#3ea244" stroke="#2a6e30" stroke-width="0.6"/>
<circle cx="170.70" cy="279.82" r="2.2" fill="#3ea244" stroke="#2a6e30" stroke-width="0.6"/>
<circle cx="183.40" cy="280.11" r="2.2" fill="#3ea244" stroke="#2a6e30" stroke-width="0.6"/>
<circle cx="132.60" cy="279.52" r="2.2" fill="#82511f" stroke="#5a3814" stroke-width="0.6"/>
<circle cx="145.30" cy="284.55" r="2.2" fill="#82511f" stroke="#5a3814" stroke-width="0.6"/>
<circle cx="158.00" cy="282.18" r="2.2" fill="#82511f" stroke="#5a3814" stroke-width="0.6"/>
<circle cx="170.70" cy="280.11" r="2.2" fill="#82511f" stroke="#5a3814" stroke-width="0.6"/>
<circle cx="183.40" cy="280.11" r="2.2" fill="#82511f" stroke="#5a3814" stroke-width="0.6"/>
<circle cx="132.60" cy="279.52" r="2.2" fill="#cc1236" stroke="#8a0c26" stroke-width="0.6"/>
<circle cx="145.30" cy="273.60" r="2.2" fill="#cc1236" stroke="#8a0c26" stroke-width="0.6"/>
<circle cx="158.00" cy="265.61" r="2.2" fill="#cc1236" stroke="#8a0c26" stroke-width="0.6"/>
<circle cx="170.70" cy="257.91" r="2.2" fill="#cc1236" stroke="#8a0c26" stroke-width="0.6"/>
<circle cx="183.40" cy="267.68" r="2.2" fill="#cc1236" stroke="#8a0c26" stroke-width="0.6"/>
<circle cx="132.60" cy="280.11" r="2.2" fill="#1f4f8f" stroke="#173e6a" stroke-width="0.6"/>
<circle cx="145.30" cy="277.15" r="2.2" fill="#1f4f8f" stroke="#173e6a" stroke-width="0.6"/>
<circle cx="158.00" cy="276.26" r="2.2" fill="#1f4f8f" stroke="#173e6a" stroke-width="0.6"/>
<circle cx="170.70" cy="273.90" r="2.2" fill="#1f4f8f" stroke="#173e6a" stroke-width="0.6"/>
<circle cx="183.40" cy="274.49" r="2.2" fill="#1f4f8f" stroke="#173e6a" stroke-width="0.6"/>
<line x1="128.30" y1="248.90" x2="128.30" y2="311.10" stroke="#333333" stroke-width="1.2"/>
<line x1="127.80" y1="310.60" x2="187.90" y2="310.60" stroke="#333333" stroke-width="1.1"/>
<line x1="125.50" y1="310.60" x2="128.30" y2="310.60" stroke="#333333" stroke-width="0.9"/>
<text x="122.10" y="312.90" font-size="6.6" fill="#333333" text-anchor="end">0</text>
<line x1="125.50" y1="295.80" x2="128.30" y2="295.80" stroke="#333333" stroke-width="0.9"/>
<text x="122.10" y="298.10" font-size="6.6" fill="#333333" text-anchor="end">5</text>
<line x1="125.50" y1="281.00" x2="128.30" y2="281.00" stroke="#333333" stroke-width="0.9"/>
<text x="122.10" y="283.30" font-size="6.6" fill="#333333" text-anchor="end">10</text>
<line x1="125.50" y1="266.20" x2="128.30" y2="266.20" stroke="#333333" stroke-width="0.9"/>
<text x="122.10" y="268.50" font-size="6.6" fill="#333333" text-anchor="end">15</text>
<line x1="125.50" y1="251.40" x2="128.30" y2="251.40" stroke="#333333" stroke-width="0.9"/>
<text x="122.10" y="253.70" font-size="6.6" fill="#333333" text-anchor="end">20</text>
<line x1="126.70" y1="303.20" x2="128.30" y2="303.20" stroke="#333333" stroke-width="0.7"/>
<line x1="126.70" y1="288.40" x2="128.30" y2="288.40" stroke="#333333" stroke-width="0.7"/>
<line x1="126.70" y1="273.60" x2="128.30" y2="273.60" stroke="#333333" stroke-width="0.7"/>
<line x1="126.70" y1="258.80" x2="128.30" y2="258.80" stroke="#333333" stroke-width="0.7"/>
<line x1="132.60" y1="310.60" x2="132.60" y2="313.60" stroke="#333333" stroke-width="0.9"/>
<text x="132.60" y="321.80" font-size="6.8" fill="#333333" text-anchor="middle">0</text>
<line x1="145.30" y1="310.60" x2="145.30" y2="313.60" stroke="#333333" stroke-width="0.9"/>
<text x="145.30" y="321.80" font-size="6.8" fill="#333333" text-anchor="middle">4</text>
<line x1="158.00" y1="310.60" x2="158.00" y2="313.60" stroke="#333333" stroke-width="0.9"/>
<text x="158.00" y="321.80" font-size="6.8" fill="#333333" text-anchor="middle">8</text>
<line x1="170.70" y1="310.60" x2="170.70" y2="313.60" stroke="#333333" stroke-width="0.9"/>
<text x="170.70" y="321.80" font-size="6.8" fill="#333333" text-anchor="middle">12</text>
<line x1="183.40" y1="310.60" x2="183.40" y2="313.60" stroke="#333333" stroke-width="0.9"/>
<text x="183.40" y="321.80" font-size="6.8" fill="#333333" text-anchor="middle">16</text>
<circle cx="142.55" cy="250.20" r="0.87" fill="#34476b"/><circle cx="145.30" cy="250.20" r="0.87" fill="#34476b"/><circle cx="148.05" cy="250.20" r="0.87" fill="#34476b"/>
<circle cx="156.63" cy="250.20" r="0.87" fill="#34476b"/><circle cx="159.38" cy="250.20" r="0.87" fill="#34476b"/>
<circle cx="169.33" cy="250.20" r="0.87" fill="#34476b"/><circle cx="172.08" cy="250.20" r="0.87" fill="#34476b"/>
<circle cx="183.40" cy="250.20" r="0.87" fill="#34476b"/>
<circle cx="166.58" cy="254.40" r="0.87" fill="#cc1236"/><circle cx="169.33" cy="254.40" r="0.87" fill="#cc1236"/><circle cx="172.08" cy="254.40" r="0.87" fill="#cc1236"/><circle cx="174.83" cy="254.40" r="0.87" fill="#cc1236"/>
<circle cx="145.30" cy="261.40" r="0.87" fill="#cc1236"/>
<circle cx="153.88" cy="261.40" r="0.87" fill="#cc1236"/><circle cx="156.63" cy="261.40" r="0.87" fill="#cc1236"/><circle cx="159.38" cy="261.40" r="0.87" fill="#cc1236"/><circle cx="162.13" cy="261.40" r="0.87" fill="#cc1236"/>
<circle cx="179.28" cy="261.40" r="0.87" fill="#cc1236"/><circle cx="182.03" cy="261.40" r="0.87" fill="#cc1236"/><circle cx="184.78" cy="261.40" r="0.87" fill="#cc1236"/><circle cx="187.53" cy="261.40" r="0.87" fill="#cc1236"/>
<text x="244.50" y="243.60" font-size="6.6" fill="#333333" text-anchor="middle">Reticulocytes (×10<tspan font-size="4" dy="-2.6">11</tspan><tspan dy="2.6">/L)</tspan></text>
<rect x="220.50" y="275.08" width="59.10" height="23.68" fill="#e3e2e9"/>
<polyline points="224.30,290.47 237.00,292.25 249.70,292.84 262.40,292.84 275.10,291.66" fill="none" stroke="#3ea244" stroke-width="1.1" stroke-dasharray="2.2,1.2"/>
<polyline points="224.30,289.88 237.00,294.02 249.70,293.43 262.40,291.66 275.10,289.29" fill="none" stroke="#82511f" stroke-width="1.1" stroke-dasharray="2.2,1.2"/>
<polyline points="224.30,289.88 237.00,269.75 249.70,268.57 262.40,269.75 275.10,256.73" fill="none" stroke="#cc1236" stroke-width="1.1"/>
<polyline points="224.30,289.88 237.00,289.88 249.70,289.88 262.40,288.70 275.10,283.96" fill="none" stroke="#1f4f8f" stroke-width="1.1"/>
<line x1="237.00" y1="271.53" x2="237.00" y2="267.98" stroke="#cc1236" stroke-width="0.8"/>
<line x1="235.40" y1="271.53" x2="238.60" y2="271.53" stroke="#cc1236" stroke-width="0.8"/>
<line x1="235.40" y1="267.98" x2="238.60" y2="267.98" stroke="#cc1236" stroke-width="0.8"/>
<line x1="249.70" y1="271.53" x2="249.70" y2="265.61" stroke="#cc1236" stroke-width="0.8"/>
<line x1="248.10" y1="271.53" x2="251.30" y2="271.53" stroke="#cc1236" stroke-width="0.8"/>
<line x1="248.10" y1="265.61" x2="251.30" y2="265.61" stroke="#cc1236" stroke-width="0.8"/>
<line x1="262.40" y1="273.90" x2="262.40" y2="265.02" stroke="#cc1236" stroke-width="0.8"/>
<line x1="260.80" y1="273.90" x2="264.00" y2="273.90" stroke="#cc1236" stroke-width="0.8"/>
<line x1="260.80" y1="265.02" x2="264.00" y2="265.02" stroke="#cc1236" stroke-width="0.8"/>
<line x1="275.10" y1="286.92" x2="275.10" y2="281.00" stroke="#1f4f8f" stroke-width="0.8"/>
<line x1="273.50" y1="286.92" x2="276.70" y2="286.92" stroke="#1f4f8f" stroke-width="0.8"/>
<line x1="273.50" y1="281.00" x2="276.70" y2="281.00" stroke="#1f4f8f" stroke-width="0.8"/>
<line x1="275.10" y1="259.10" x2="275.10" y2="253.77" stroke="#cc1236" stroke-width="0.8"/>
<line x1="273.50" y1="259.10" x2="276.70" y2="259.10" stroke="#cc1236" stroke-width="0.8"/>
<line x1="273.50" y1="253.77" x2="276.70" y2="253.77" stroke="#cc1236" stroke-width="0.8"/>
<circle cx="224.30" cy="290.47" r="2.2" fill="#3ea244" stroke="#2a6e30" stroke-width="0.6"/>
<circle cx="237.00" cy="292.25" r="2.2" fill="#3ea244" stroke="#2a6e30" stroke-width="0.6"/>
<circle cx="249.70" cy="292.84" r="2.2" fill="#3ea244" stroke="#2a6e30" stroke-width="0.6"/>
<circle cx="262.40" cy="292.84" r="2.2" fill="#3ea244" stroke="#2a6e30" stroke-width="0.6"/>
<circle cx="275.10" cy="291.66" r="2.2" fill="#3ea244" stroke="#2a6e30" stroke-width="0.6"/>
<circle cx="224.30" cy="289.88" r="2.2" fill="#82511f" stroke="#5a3814" stroke-width="0.6"/>
<circle cx="237.00" cy="294.02" r="2.2" fill="#82511f" stroke="#5a3814" stroke-width="0.6"/>
<circle cx="249.70" cy="293.43" r="2.2" fill="#82511f" stroke="#5a3814" stroke-width="0.6"/>
<circle cx="262.40" cy="291.66" r="2.2" fill="#82511f" stroke="#5a3814" stroke-width="0.6"/>
<circle cx="275.10" cy="289.29" r="2.2" fill="#82511f" stroke="#5a3814" stroke-width="0.6"/>
<circle cx="224.30" cy="289.88" r="2.2" fill="#cc1236" stroke="#8a0c26" stroke-width="0.6"/>
<circle cx="237.00" cy="269.75" r="2.2" fill="#cc1236" stroke="#8a0c26" stroke-width="0.6"/>
<circle cx="249.70" cy="268.57" r="2.2" fill="#cc1236" stroke="#8a0c26" stroke-width="0.6"/>
<circle cx="262.40" cy="269.75" r="2.2" fill="#cc1236" stroke="#8a0c26" stroke-width="0.6"/>
<circle cx="275.10" cy="256.73" r="2.2" fill="#cc1236" stroke="#8a0c26" stroke-width="0.6"/>
<circle cx="224.30" cy="289.88" r="2.2" fill="#1f4f8f" stroke="#173e6a" stroke-width="0.6"/>
<circle cx="237.00" cy="289.88" r="2.2" fill="#1f4f8f" stroke="#173e6a" stroke-width="0.6"/>
<circle cx="249.70" cy="289.88" r="2.2" fill="#1f4f8f" stroke="#173e6a" stroke-width="0.6"/>
<circle cx="262.40" cy="288.70" r="2.2" fill="#1f4f8f" stroke="#173e6a" stroke-width="0.6"/>
<circle cx="275.10" cy="283.96" r="2.2" fill="#1f4f8f" stroke="#173e6a" stroke-width="0.6"/>
<line x1="220.00" y1="248.90" x2="220.00" y2="311.10" stroke="#333333" stroke-width="1.2"/>
<line x1="219.50" y1="310.60" x2="279.60" y2="310.60" stroke="#333333" stroke-width="1.1"/>
<line x1="217.20" y1="310.60" x2="220.00" y2="310.60" stroke="#333333" stroke-width="0.9"/>
<text x="213.80" y="312.90" font-size="6.6" fill="#333333" text-anchor="end">0</text>
<line x1="217.20" y1="298.76" x2="220.00" y2="298.76" stroke="#333333" stroke-width="0.9"/>
<text x="213.80" y="301.06" font-size="6.6" fill="#333333" text-anchor="end">2</text>
<line x1="217.20" y1="286.92" x2="220.00" y2="286.92" stroke="#333333" stroke-width="0.9"/>
<text x="213.80" y="289.22" font-size="6.6" fill="#333333" text-anchor="end">4</text>
<line x1="217.20" y1="275.08" x2="220.00" y2="275.08" stroke="#333333" stroke-width="0.9"/>
<text x="213.80" y="277.38" font-size="6.6" fill="#333333" text-anchor="end">6</text>
<line x1="217.20" y1="263.24" x2="220.00" y2="263.24" stroke="#333333" stroke-width="0.9"/>
<text x="213.80" y="265.54" font-size="6.6" fill="#333333" text-anchor="end">8</text>
<line x1="217.20" y1="251.40" x2="220.00" y2="251.40" stroke="#333333" stroke-width="0.9"/>
<text x="213.80" y="253.70" font-size="6.6" fill="#333333" text-anchor="end">10</text>
<line x1="218.40" y1="304.68" x2="220.00" y2="304.68" stroke="#333333" stroke-width="0.7"/>
<line x1="218.40" y1="292.84" x2="220.00" y2="292.84" stroke="#333333" stroke-width="0.7"/>
<line x1="218.40" y1="281.00" x2="220.00" y2="281.00" stroke="#333333" stroke-width="0.7"/>
<line x1="218.40" y1="269.16" x2="220.00" y2="269.16" stroke="#333333" stroke-width="0.7"/>
<line x1="218.40" y1="257.32" x2="220.00" y2="257.32" stroke="#333333" stroke-width="0.7"/>
<line x1="224.30" y1="310.60" x2="224.30" y2="313.60" stroke="#333333" stroke-width="0.9"/>
<text x="224.30" y="321.80" font-size="6.8" fill="#333333" text-anchor="middle">0</text>
<line x1="237.00" y1="310.60" x2="237.00" y2="313.60" stroke="#333333" stroke-width="0.9"/>
<text x="237.00" y="321.80" font-size="6.8" fill="#333333" text-anchor="middle">4</text>
<line x1="249.70" y1="310.60" x2="249.70" y2="313.60" stroke="#333333" stroke-width="0.9"/>
<text x="249.70" y="321.80" font-size="6.8" fill="#333333" text-anchor="middle">8</text>
<line x1="262.40" y1="310.60" x2="262.40" y2="313.60" stroke="#333333" stroke-width="0.9"/>
<text x="262.40" y="321.80" font-size="6.8" fill="#333333" text-anchor="middle">12</text>
<line x1="275.10" y1="310.60" x2="275.10" y2="313.60" stroke="#333333" stroke-width="0.9"/>
<text x="275.10" y="321.80" font-size="6.8" fill="#333333" text-anchor="middle">16</text>
<circle cx="229.07" cy="259.80" r="0.87" fill="#cc1236"/><circle cx="231.82" cy="259.80" r="0.87" fill="#cc1236"/><circle cx="234.57" cy="259.80" r="0.87" fill="#cc1236"/><circle cx="237.32" cy="259.80" r="0.87" fill="#cc1236"/>
<circle cx="245.18" cy="259.80" r="0.87" fill="#cc1236"/><circle cx="247.93" cy="259.80" r="0.87" fill="#cc1236"/><circle cx="250.68" cy="259.80" r="0.87" fill="#cc1236"/><circle cx="253.43" cy="259.80" r="0.87" fill="#cc1236"/>
<circle cx="257.98" cy="256.80" r="0.87" fill="#cc1236"/><circle cx="260.73" cy="256.80" r="0.87" fill="#cc1236"/><circle cx="263.48" cy="256.80" r="0.87" fill="#cc1236"/><circle cx="266.23" cy="256.80" r="0.87" fill="#cc1236"/>
<circle cx="270.77" cy="249.70" r="0.87" fill="#cc1236"/><circle cx="273.52" cy="249.70" r="0.87" fill="#cc1236"/><circle cx="276.27" cy="249.70" r="0.87" fill="#cc1236"/><circle cx="279.02" cy="249.70" r="0.87" fill="#cc1236"/>
<text x="249.50" y="334.50" font-size="8.4" fill="#333333" text-anchor="middle" textLength="20.2" lengthAdjust="spacingAndGlyphs">Weeks</text>
<text x="343.80" y="243.60" font-size="6.6" fill="#333333" text-anchor="middle">MCV (fl)</text>
<rect x="314.80" y="259.29" width="58.90" height="6.91" fill="#e3e2e9"/>
<polyline points="318.80,264.23 331.40,262.25 344.00,262.25 356.60,264.23 369.20,264.23" fill="none" stroke="#3ea244" stroke-width="1.1" stroke-dasharray="2.2,1.2"/>
<polyline points="318.80,263.73 331.40,261.27 344.00,262.25 356.60,262.25 369.20,263.24" fill="none" stroke="#82511f" stroke-width="1.1" stroke-dasharray="2.2,1.2"/>
<polyline points="318.80,264.72 331.40,261.76 344.00,263.24 356.60,267.19 369.20,266.69" fill="none" stroke="#cc1236" stroke-width="1.1"/>
<polyline points="318.80,263.24 331.40,261.76 344.00,262.75 356.60,265.21 369.20,266.20" fill="none" stroke="#1f4f8f" stroke-width="1.1"/>
<circle cx="318.80" cy="264.23" r="2.2" fill="#3ea244" stroke="#2a6e30" stroke-width="0.6"/>
<circle cx="331.40" cy="262.25" r="2.2" fill="#3ea244" stroke="#2a6e30" stroke-width="0.6"/>
<circle cx="344.00" cy="262.25" r="2.2" fill="#3ea244" stroke="#2a6e30" stroke-width="0.6"/>
<circle cx="356.60" cy="264.23" r="2.2" fill="#3ea244" stroke="#2a6e30" stroke-width="0.6"/>
<circle cx="369.20" cy="264.23" r="2.2" fill="#3ea244" stroke="#2a6e30" stroke-width="0.6"/>
<circle cx="318.80" cy="263.73" r="2.2" fill="#82511f" stroke="#5a3814" stroke-width="0.6"/>
<circle cx="331.40" cy="261.27" r="2.2" fill="#82511f" stroke="#5a3814" stroke-width="0.6"/>
<circle cx="344.00" cy="262.25" r="2.2" fill="#82511f" stroke="#5a3814" stroke-width="0.6"/>
<circle cx="356.60" cy="262.25" r="2.2" fill="#82511f" stroke="#5a3814" stroke-width="0.6"/>
<circle cx="369.20" cy="263.24" r="2.2" fill="#82511f" stroke="#5a3814" stroke-width="0.6"/>
<circle cx="318.80" cy="264.72" r="2.2" fill="#cc1236" stroke="#8a0c26" stroke-width="0.6"/>
<circle cx="331.40" cy="261.76" r="2.2" fill="#cc1236" stroke="#8a0c26" stroke-width="0.6"/>
<circle cx="344.00" cy="263.24" r="2.2" fill="#cc1236" stroke="#8a0c26" stroke-width="0.6"/>
<circle cx="356.60" cy="267.19" r="2.2" fill="#cc1236" stroke="#8a0c26" stroke-width="0.6"/>
<circle cx="369.20" cy="266.69" r="2.2" fill="#cc1236" stroke="#8a0c26" stroke-width="0.6"/>
<circle cx="318.80" cy="263.24" r="2.2" fill="#1f4f8f" stroke="#173e6a" stroke-width="0.6"/>
<circle cx="331.40" cy="261.76" r="2.2" fill="#1f4f8f" stroke="#173e6a" stroke-width="0.6"/>
<circle cx="344.00" cy="262.75" r="2.2" fill="#1f4f8f" stroke="#173e6a" stroke-width="0.6"/>
<circle cx="356.60" cy="265.21" r="2.2" fill="#1f4f8f" stroke="#173e6a" stroke-width="0.6"/>
<circle cx="369.20" cy="266.20" r="2.2" fill="#1f4f8f" stroke="#173e6a" stroke-width="0.6"/>
<line x1="314.30" y1="248.90" x2="314.30" y2="311.10" stroke="#333333" stroke-width="1.2"/>
<line x1="313.80" y1="310.60" x2="373.70" y2="310.60" stroke="#333333" stroke-width="1.1"/>
<line x1="311.50" y1="310.60" x2="314.30" y2="310.60" stroke="#333333" stroke-width="0.9"/>
<text x="308.10" y="312.90" font-size="6.6" fill="#333333" text-anchor="end">0</text>
<line x1="311.50" y1="290.87" x2="314.30" y2="290.87" stroke="#333333" stroke-width="0.9"/>
<text x="308.10" y="293.17" font-size="6.6" fill="#333333" text-anchor="end">20</text>
<line x1="311.50" y1="271.13" x2="314.30" y2="271.13" stroke="#333333" stroke-width="0.9"/>
<text x="308.10" y="273.43" font-size="6.6" fill="#333333" text-anchor="end">40</text>
<line x1="311.50" y1="251.40" x2="314.30" y2="251.40" stroke="#333333" stroke-width="0.9"/>
<text x="308.10" y="253.70" font-size="6.6" fill="#333333" text-anchor="end">60</text>
<line x1="312.70" y1="300.73" x2="314.30" y2="300.73" stroke="#333333" stroke-width="0.7"/>
<line x1="312.70" y1="281.00" x2="314.30" y2="281.00" stroke="#333333" stroke-width="0.7"/>
<line x1="312.70" y1="261.27" x2="314.30" y2="261.27" stroke="#333333" stroke-width="0.7"/>
<line x1="318.80" y1="310.60" x2="318.80" y2="313.60" stroke="#333333" stroke-width="0.9"/>
<text x="318.80" y="321.80" font-size="6.8" fill="#333333" text-anchor="middle">0</text>
<line x1="331.40" y1="310.60" x2="331.40" y2="313.60" stroke="#333333" stroke-width="0.9"/>
<text x="331.40" y="321.80" font-size="6.8" fill="#333333" text-anchor="middle">4</text>
<line x1="344.00" y1="310.60" x2="344.00" y2="313.60" stroke="#333333" stroke-width="0.9"/>
<text x="344.00" y="321.80" font-size="6.8" fill="#333333" text-anchor="middle">8</text>
<line x1="356.60" y1="310.60" x2="356.60" y2="313.60" stroke="#333333" stroke-width="0.9"/>
<text x="356.60" y="321.80" font-size="6.8" fill="#333333" text-anchor="middle">12</text>
<line x1="369.20" y1="310.60" x2="369.20" y2="313.60" stroke="#333333" stroke-width="0.9"/>
<text x="369.20" y="321.80" font-size="6.8" fill="#333333" text-anchor="middle">16</text>
<circle cx="356.60" cy="252.60" r="0.87" fill="#34476b"/>
<circle cx="356.60" cy="256.60" r="0.87" fill="#cc1236"/>
<text x="445.00" y="243.60" font-size="6.6" fill="#333333" text-anchor="middle">MCH (pg)</text>
<rect x="415.50" y="264.72" width="58.90" height="8.88" fill="#e3e2e9"/>
<polyline points="419.50,267.68 432.10,270.64 444.70,266.20 457.30,267.68 469.90,269.16" fill="none" stroke="#3ea244" stroke-width="1.1" stroke-dasharray="2.2,1.2"/>
<polyline points="419.50,268.27 432.10,269.75 444.70,265.61 457.30,266.79 469.90,267.68" fill="none" stroke="#82511f" stroke-width="1.1" stroke-dasharray="2.2,1.2"/>
<polyline points="419.50,268.57 432.10,268.27 444.70,268.27 457.30,273.60 469.90,277.15" fill="none" stroke="#cc1236" stroke-width="1.1"/>
<polyline points="419.50,266.79 432.10,271.23 444.70,266.20 457.30,269.16 469.90,272.12" fill="none" stroke="#1f4f8f" stroke-width="1.1"/>
<circle cx="419.50" cy="267.68" r="2.2" fill="#3ea244" stroke="#2a6e30" stroke-width="0.6"/>
<circle cx="432.10" cy="270.64" r="2.2" fill="#3ea244" stroke="#2a6e30" stroke-width="0.6"/>
<circle cx="444.70" cy="266.20" r="2.2" fill="#3ea244" stroke="#2a6e30" stroke-width="0.6"/>
<circle cx="457.30" cy="267.68" r="2.2" fill="#3ea244" stroke="#2a6e30" stroke-width="0.6"/>
<circle cx="469.90" cy="269.16" r="2.2" fill="#3ea244" stroke="#2a6e30" stroke-width="0.6"/>
<circle cx="419.50" cy="268.27" r="2.2" fill="#82511f" stroke="#5a3814" stroke-width="0.6"/>
<circle cx="432.10" cy="269.75" r="2.2" fill="#82511f" stroke="#5a3814" stroke-width="0.6"/>
<circle cx="444.70" cy="265.61" r="2.2" fill="#82511f" stroke="#5a3814" stroke-width="0.6"/>
<circle cx="457.30" cy="266.79" r="2.2" fill="#82511f" stroke="#5a3814" stroke-width="0.6"/>
<circle cx="469.90" cy="267.68" r="2.2" fill="#82511f" stroke="#5a3814" stroke-width="0.6"/>
<circle cx="419.50" cy="268.57" r="2.2" fill="#cc1236" stroke="#8a0c26" stroke-width="0.6"/>
<circle cx="432.10" cy="268.27" r="2.2" fill="#cc1236" stroke="#8a0c26" stroke-width="0.6"/>
<circle cx="444.70" cy="268.27" r="2.2" fill="#cc1236" stroke="#8a0c26" stroke-width="0.6"/>
<circle cx="457.30" cy="273.60" r="2.2" fill="#cc1236" stroke="#8a0c26" stroke-width="0.6"/>
<circle cx="469.90" cy="277.15" r="2.2" fill="#cc1236" stroke="#8a0c26" stroke-width="0.6"/>
<circle cx="419.50" cy="266.79" r="2.2" fill="#1f4f8f" stroke="#173e6a" stroke-width="0.6"/>
<circle cx="432.10" cy="271.23" r="2.2" fill="#1f4f8f" stroke="#173e6a" stroke-width="0.6"/>
<circle cx="444.70" cy="266.20" r="2.2" fill="#1f4f8f" stroke="#173e6a" stroke-width="0.6"/>
<circle cx="457.30" cy="269.16" r="2.2" fill="#1f4f8f" stroke="#173e6a" stroke-width="0.6"/>
<circle cx="469.90" cy="272.12" r="2.2" fill="#1f4f8f" stroke="#173e6a" stroke-width="0.6"/>
<line x1="415.00" y1="248.90" x2="415.00" y2="311.10" stroke="#333333" stroke-width="1.2"/>
<line x1="414.50" y1="310.60" x2="474.40" y2="310.60" stroke="#333333" stroke-width="1.1"/>
<line x1="412.20" y1="310.60" x2="415.00" y2="310.60" stroke="#333333" stroke-width="0.9"/>
<text x="408.80" y="312.90" font-size="6.6" fill="#333333" text-anchor="end">0</text>
<line x1="412.20" y1="295.80" x2="415.00" y2="295.80" stroke="#333333" stroke-width="0.9"/>
<text x="408.80" y="298.10" font-size="6.6" fill="#333333" text-anchor="end">5</text>
<line x1="412.20" y1="281.00" x2="415.00" y2="281.00" stroke="#333333" stroke-width="0.9"/>
<text x="408.80" y="283.30" font-size="6.6" fill="#333333" text-anchor="end">10</text>
<line x1="412.20" y1="266.20" x2="415.00" y2="266.20" stroke="#333333" stroke-width="0.9"/>
<text x="408.80" y="268.50" font-size="6.6" fill="#333333" text-anchor="end">15</text>
<line x1="412.20" y1="251.40" x2="415.00" y2="251.40" stroke="#333333" stroke-width="0.9"/>
<text x="408.80" y="253.70" font-size="6.6" fill="#333333" text-anchor="end">20</text>
<line x1="413.40" y1="303.20" x2="415.00" y2="303.20" stroke="#333333" stroke-width="0.7"/>
<line x1="413.40" y1="288.40" x2="415.00" y2="288.40" stroke="#333333" stroke-width="0.7"/>
<line x1="413.40" y1="273.60" x2="415.00" y2="273.60" stroke="#333333" stroke-width="0.7"/>
<line x1="413.40" y1="258.80" x2="415.00" y2="258.80" stroke="#333333" stroke-width="0.7"/>
<line x1="419.50" y1="310.60" x2="419.50" y2="313.60" stroke="#333333" stroke-width="0.9"/>
<text x="419.50" y="321.80" font-size="6.8" fill="#333333" text-anchor="middle">0</text>
<line x1="432.10" y1="310.60" x2="432.10" y2="313.60" stroke="#333333" stroke-width="0.9"/>
<text x="432.10" y="321.80" font-size="6.8" fill="#333333" text-anchor="middle">4</text>
<line x1="444.70" y1="310.60" x2="444.70" y2="313.60" stroke="#333333" stroke-width="0.9"/>
<text x="444.70" y="321.80" font-size="6.8" fill="#333333" text-anchor="middle">8</text>
<line x1="457.30" y1="310.60" x2="457.30" y2="313.60" stroke="#333333" stroke-width="0.9"/>
<text x="457.30" y="321.80" font-size="6.8" fill="#333333" text-anchor="middle">12</text>
<line x1="469.90" y1="310.60" x2="469.90" y2="313.60" stroke="#333333" stroke-width="0.9"/>
<text x="469.90" y="321.80" font-size="6.8" fill="#333333" text-anchor="middle">16</text>
<circle cx="448.57" cy="257.50" r="0.87" fill="#cc1236"/><circle cx="451.32" cy="257.50" r="0.87" fill="#cc1236"/><circle cx="454.07" cy="257.50" r="0.87" fill="#cc1236"/><circle cx="456.82" cy="257.50" r="0.87" fill="#cc1236"/>
<circle cx="463.38" cy="257.50" r="0.87" fill="#cc1236"/><circle cx="466.12" cy="257.50" r="0.87" fill="#cc1236"/><circle cx="468.88" cy="257.50" r="0.87" fill="#cc1236"/><circle cx="471.62" cy="257.50" r="0.87" fill="#cc1236"/>
<text transform="translate(6.80 355.70) scale(1.2 1)" x="0" y="0" font-size="11" font-weight="bold" fill="#111">E</text>
<text x="20.20" y="357.40" font-size="8.8" fill="#333333" textLength="68.6" lengthAdjust="spacingAndGlyphs">Spleen weight (g)</text>
<rect x="60.00" y="444.40" width="32.00" height="3.10" fill="#dcdde6"/>
<line x1="32.40" y1="390.00" x2="32.40" y2="451.80" stroke="#333333" stroke-width="1.1"/>
<line x1="29.60" y1="451.30" x2="32.40" y2="451.30" stroke="#333333" stroke-width="0.9"/>
<text x="26.20" y="453.60" font-size="6.6" fill="#333333" text-anchor="end">0</text>
<line x1="29.60" y1="439.46" x2="32.40" y2="439.46" stroke="#333333" stroke-width="0.9"/>
<text x="26.20" y="441.76" font-size="6.6" fill="#333333" text-anchor="end">0.2</text>
<line x1="29.60" y1="427.62" x2="32.40" y2="427.62" stroke="#333333" stroke-width="0.9"/>
<text x="26.20" y="429.92" font-size="6.6" fill="#333333" text-anchor="end">0.4</text>
<line x1="29.60" y1="415.78" x2="32.40" y2="415.78" stroke="#333333" stroke-width="0.9"/>
<text x="26.20" y="418.08" font-size="6.6" fill="#333333" text-anchor="end">0.6</text>
<line x1="29.60" y1="403.94" x2="32.40" y2="403.94" stroke="#333333" stroke-width="0.9"/>
<text x="26.20" y="406.24" font-size="6.6" fill="#333333" text-anchor="end">0.8</text>
<line x1="29.60" y1="392.10" x2="32.40" y2="392.10" stroke="#333333" stroke-width="0.9"/>
<text x="26.20" y="394.40" font-size="6.6" fill="#333333" text-anchor="end">1.0</text>
<line x1="31.90" y1="451.30" x2="92.50" y2="451.30" stroke="#333333" stroke-width="1.1"/>
<line x1="41.90" y1="451.30" x2="41.90" y2="454.30" stroke="#333333" stroke-width="0.9"/>
<line x1="55.60" y1="451.30" x2="55.60" y2="454.30" stroke="#333333" stroke-width="0.9"/>
<line x1="69.40" y1="451.30" x2="69.40" y2="454.30" stroke="#333333" stroke-width="0.9"/>
<line x1="83.10" y1="451.30" x2="83.10" y2="454.30" stroke="#333333" stroke-width="0.9"/>
<polyline points="39.00,369.30 39.00,366.50 68.10,366.50 68.10,369.30" fill="none" stroke="#5a5a5a" stroke-width="0.9"/>
<circle cx="49.23" cy="364.00" r="0.91" fill="#444"/><circle cx="52.11" cy="364.00" r="0.91" fill="#444"/><circle cx="54.99" cy="364.00" r="0.91" fill="#444"/><circle cx="57.87" cy="364.00" r="0.91" fill="#444"/>
<polyline points="39.00,375.90 39.00,373.10 83.80,373.10 83.80,375.90" fill="none" stroke="#5a5a5a" stroke-width="0.9"/>
<circle cx="59.86" cy="370.60" r="0.91" fill="#444"/><circle cx="62.74" cy="370.60" r="0.91" fill="#444"/>
<polyline points="54.40,380.90 54.40,378.10 83.80,378.10 83.80,380.90" fill="none" stroke="#5a5a5a" stroke-width="0.9"/>
<circle cx="67.96" cy="375.90" r="0.91" fill="#444"/><circle cx="70.84" cy="375.90" r="0.91" fill="#444"/>
<polyline points="54.40,387.40 54.40,384.60 69.40,384.60 69.40,387.40" fill="none" stroke="#5a5a5a" stroke-width="0.9"/>
<circle cx="57.58" cy="382.50" r="0.91" fill="#444"/><circle cx="60.46" cy="382.50" r="0.91" fill="#444"/><circle cx="63.34" cy="382.50" r="0.91" fill="#444"/><circle cx="66.22" cy="382.50" r="0.91" fill="#444"/>
<polyline points="69.40,394.00 69.40,391.20 83.80,391.20 83.80,394.00" fill="none" stroke="#5a5a5a" stroke-width="0.9"/>
<circle cx="72.28" cy="389.00" r="0.91" fill="#444"/><circle cx="75.16" cy="389.00" r="0.91" fill="#444"/><circle cx="78.04" cy="389.00" r="0.91" fill="#444"/><circle cx="80.92" cy="389.00" r="0.91" fill="#444"/>
<ellipse cx="42.2" cy="444.4" rx="4.2" ry="2.4" fill="#3ea244" fill-opacity="0.55"/>
<ellipse cx="55.2" cy="443.3" rx="3.8" ry="1.8" fill="#82511f" fill-opacity="0.55"/>
<circle cx="38.80" cy="444.60" r="1.75" fill="none" stroke="#3ea244" stroke-width="1.1"/>
<circle cx="41.60" cy="442.60" r="1.75" fill="none" stroke="#3ea244" stroke-width="1.1"/>
<circle cx="44.20" cy="443.00" r="1.75" fill="none" stroke="#3ea244" stroke-width="1.1"/>
<circle cx="45.80" cy="446.00" r="1.75" fill="none" stroke="#3ea244" stroke-width="1.1"/>
<circle cx="42.20" cy="446.30" r="1.75" fill="none" stroke="#3ea244" stroke-width="1.1"/>
<circle cx="52.00" cy="444.00" r="1.75" fill="none" stroke="#82511f" stroke-width="1.1"/>
<circle cx="54.60" cy="442.80" r="1.75" fill="none" stroke="#82511f" stroke-width="1.1"/>
<circle cx="57.40" cy="442.60" r="1.75" fill="none" stroke="#82511f" stroke-width="1.1"/>
<circle cx="58.40" cy="443.60" r="1.75" fill="none" stroke="#82511f" stroke-width="1.1"/>
<circle cx="66.30" cy="400.00" r="1.75" fill="none" stroke="#cc1236" stroke-width="1.1"/>
<circle cx="68.90" cy="400.20" r="1.75" fill="none" stroke="#cc1236" stroke-width="1.1"/>
<circle cx="71.90" cy="403.10" r="1.75" fill="none" stroke="#cc1236" stroke-width="1.1"/>
<circle cx="67.60" cy="403.40" r="1.75" fill="none" stroke="#cc1236" stroke-width="1.1"/>
<circle cx="69.10" cy="413.80" r="1.75" fill="none" stroke="#cc1236" stroke-width="1.1"/>
<line x1="65.50" y1="404.40" x2="73.10" y2="404.40" stroke="#cc1236" stroke-width="1.2"/>
<line x1="69.30" y1="401.60" x2="69.30" y2="407.40" stroke="#cc1236" stroke-width="0.8"/>
<line x1="67.50" y1="401.60" x2="71.10" y2="401.60" stroke="#cc1236" stroke-width="0.8"/>
<line x1="67.50" y1="407.40" x2="71.10" y2="407.40" stroke="#cc1236" stroke-width="0.8"/>
<circle cx="82.50" cy="423.10" r="1.75" fill="none" stroke="#1f4f8f" stroke-width="1.1"/>
<circle cx="79.80" cy="435.40" r="1.75" fill="none" stroke="#1f4f8f" stroke-width="1.1"/>
<circle cx="85.50" cy="435.40" r="1.75" fill="none" stroke="#1f4f8f" stroke-width="1.1"/>
<circle cx="82.60" cy="431.00" r="1.75" fill="none" stroke="#1f4f8f" stroke-width="1.1"/>
<line x1="78.80" y1="431.30" x2="86.80" y2="431.30" stroke="#1f4f8f" stroke-width="1.2"/>
<line x1="82.80" y1="428.10" x2="82.80" y2="434.00" stroke="#1f4f8f" stroke-width="0.8"/>
<line x1="81.00" y1="428.10" x2="84.60" y2="428.10" stroke="#1f4f8f" stroke-width="0.8"/>
<line x1="81.00" y1="434.00" x2="84.60" y2="434.00" stroke="#1f4f8f" stroke-width="0.8"/>
<text x="46.50" y="460.00" font-size="7.4" fill="#62b865" text-anchor="end" font-style="italic" transform="rotate(-45 46.5 460.0)">WT</text>
<text x="59.80" y="460.00" font-size="7.4" fill="#8a6446" text-anchor="end" font-style="italic" transform="rotate(-45 59.8 460.0)">Dm<tspan font-size="4.2" dy="-2.8">Δ/Δ</tspan></text>
<text x="73.50" y="460.00" font-size="7.4" fill="#d2455e" text-anchor="end" font-style="italic" transform="rotate(-45 73.5 460.0)">VF</text>
<text x="87.00" y="460.00" font-size="7.4" fill="#3f63a0" text-anchor="end" font-style="italic" transform="rotate(-45 87.0 460.0)">VF;Dm<tspan font-size="4.2" dy="-2.8">Δ/Δ</tspan></text>
<text transform="translate(107.20 355.70) scale(1.2 1)" x="0" y="0" font-size="11" font-weight="bold" fill="#111">F</text>
<text x="128.50" y="357.40" font-size="8.8" fill="#333333" textLength="68.8" lengthAdjust="spacingAndGlyphs">Cells per 4 bones</text>
<text x="163.00" y="367.60" font-size="8.8" fill="#333333" text-anchor="middle">(×10<tspan font-size="5" dy="-3">6</tspan><tspan dy="3">)</tspan></text>
<line x1="134.70" y1="390.00" x2="134.70" y2="451.80" stroke="#333333" stroke-width="1.1"/>
<line x1="131.90" y1="451.30" x2="134.70" y2="451.30" stroke="#333333" stroke-width="0.9"/>
<text x="128.50" y="453.60" font-size="6.6" fill="#333333" text-anchor="end">0</text>
<line x1="131.90" y1="431.67" x2="134.70" y2="431.67" stroke="#333333" stroke-width="0.9"/>
<text x="128.50" y="433.97" font-size="6.6" fill="#333333" text-anchor="end">50</text>
<line x1="131.90" y1="412.03" x2="134.70" y2="412.03" stroke="#333333" stroke-width="0.9"/>
<text x="128.50" y="414.33" font-size="6.6" fill="#333333" text-anchor="end">100</text>
<line x1="131.90" y1="392.40" x2="134.70" y2="392.40" stroke="#333333" stroke-width="0.9"/>
<text x="128.50" y="394.70" font-size="6.6" fill="#333333" text-anchor="end">150</text>
<line x1="134.20" y1="451.30" x2="193.00" y2="451.30" stroke="#333333" stroke-width="1.1"/>
<line x1="143.80" y1="451.30" x2="143.80" y2="454.30" stroke="#333333" stroke-width="0.9"/>
<line x1="157.30" y1="451.30" x2="157.30" y2="454.30" stroke="#333333" stroke-width="0.9"/>
<line x1="171.00" y1="451.30" x2="171.00" y2="454.30" stroke="#333333" stroke-width="0.9"/>
<line x1="184.50" y1="451.30" x2="184.50" y2="454.30" stroke="#333333" stroke-width="0.9"/>
<polyline points="143.80,387.20 143.80,383.80 184.50,383.80 184.50,387.20" fill="none" stroke="#5a5a5a" stroke-width="0.9"/>
<circle cx="162.71" cy="381.50" r="0.91" fill="#444"/><circle cx="165.59" cy="381.50" r="0.91" fill="#444"/>
<polyline points="157.30,394.70 157.30,391.30 184.50,391.30 184.50,394.70" fill="none" stroke="#5a5a5a" stroke-width="0.9"/>
<circle cx="170.90" cy="389.00" r="0.91" fill="#444"/>
<circle cx="143.80" cy="397.50" r="1.75" fill="none" stroke="#3ea244" stroke-width="1.1"/>
<circle cx="141.00" cy="403.39" r="1.75" fill="none" stroke="#3ea244" stroke-width="1.1"/>
<circle cx="147.00" cy="402.22" r="1.75" fill="none" stroke="#3ea244" stroke-width="1.1"/>
<circle cx="144.30" cy="404.18" r="1.75" fill="none" stroke="#3ea244" stroke-width="1.1"/>
<circle cx="143.80" cy="423.81" r="1.75" fill="none" stroke="#3ea244" stroke-width="1.1"/>
<line x1="139.60" y1="406.93" x2="148.00" y2="406.93" stroke="#3ea244" stroke-width="1.2"/>
<line x1="143.80" y1="412.03" x2="143.80" y2="402.61" stroke="#3ea244" stroke-width="0.8"/>
<line x1="142.00" y1="412.03" x2="145.60" y2="412.03" stroke="#3ea244" stroke-width="0.8"/>
<line x1="142.00" y1="402.61" x2="145.60" y2="402.61" stroke="#3ea244" stroke-width="0.8"/>
<circle cx="154.50" cy="405.75" r="1.75" fill="none" stroke="#82511f" stroke-width="1.1"/>
<circle cx="160.10" cy="405.75" r="1.75" fill="none" stroke="#82511f" stroke-width="1.1"/>
<circle cx="157.30" cy="417.92" r="1.75" fill="none" stroke="#82511f" stroke-width="1.1"/>
<line x1="153.10" y1="409.68" x2="161.50" y2="409.68" stroke="#82511f" stroke-width="1.2"/>
<line x1="157.30" y1="412.82" x2="157.30" y2="406.54" stroke="#82511f" stroke-width="0.8"/>
<line x1="155.50" y1="412.82" x2="159.10" y2="412.82" stroke="#82511f" stroke-width="0.8"/>
<line x1="155.50" y1="406.54" x2="159.10" y2="406.54" stroke="#82511f" stroke-width="0.8"/>
<circle cx="171.00" cy="408.11" r="1.75" fill="none" stroke="#cc1236" stroke-width="1.1"/>
<circle cx="168.20" cy="419.89" r="1.75" fill="none" stroke="#cc1236" stroke-width="1.1"/>
<circle cx="173.80" cy="417.92" r="1.75" fill="none" stroke="#cc1236" stroke-width="1.1"/>
<circle cx="168.20" cy="424.99" r="1.75" fill="none" stroke="#cc1236" stroke-width="1.1"/>
<circle cx="173.80" cy="423.03" r="1.75" fill="none" stroke="#cc1236" stroke-width="1.1"/>
<circle cx="172.00" cy="416.75" r="1.75" fill="none" stroke="#cc1236" stroke-width="1.1"/>
<line x1="166.80" y1="419.10" x2="175.20" y2="419.10" stroke="#cc1236" stroke-width="1.2"/>
<line x1="171.00" y1="421.46" x2="171.00" y2="416.75" stroke="#cc1236" stroke-width="0.8"/>
<line x1="169.20" y1="421.46" x2="172.80" y2="421.46" stroke="#cc1236" stroke-width="0.8"/>
<line x1="169.20" y1="416.75" x2="172.80" y2="416.75" stroke="#cc1236" stroke-width="0.8"/>
<circle cx="181.90" cy="423.81" r="1.75" fill="none" stroke="#1f4f8f" stroke-width="1.1"/>
<circle cx="187.10" cy="423.81" r="1.75" fill="none" stroke="#1f4f8f" stroke-width="1.1"/>
<circle cx="184.50" cy="433.63" r="1.75" fill="none" stroke="#1f4f8f" stroke-width="1.1"/>
<line x1="180.30" y1="426.95" x2="188.70" y2="426.95" stroke="#1f4f8f" stroke-width="1.2"/>
<line x1="184.50" y1="429.70" x2="184.50" y2="424.21" stroke="#1f4f8f" stroke-width="0.8"/>
<line x1="182.70" y1="429.70" x2="186.30" y2="429.70" stroke="#1f4f8f" stroke-width="0.8"/>
<line x1="182.70" y1="424.21" x2="186.30" y2="424.21" stroke="#1f4f8f" stroke-width="0.8"/>
<text x="148.40" y="460.00" font-size="7.4" fill="#62b865" text-anchor="end" font-style="italic" transform="rotate(-45 148.4 460.0)">WT</text>
<text x="161.50" y="460.00" font-size="7.4" fill="#8a6446" text-anchor="end" font-style="italic" transform="rotate(-45 161.5 460.0)">Dm<tspan font-size="4.2" dy="-2.8">Δ/Δ</tspan></text>
<text x="175.20" y="460.00" font-size="7.4" fill="#d2455e" text-anchor="end" font-style="italic" transform="rotate(-45 175.2 460.0)">VF</text>
<text x="188.60" y="460.00" font-size="7.4" fill="#3f63a0" text-anchor="end" font-style="italic" transform="rotate(-45 188.6 460.0)">VF;Dm<tspan font-size="4.2" dy="-2.8">Δ/Δ</tspan></text>
<text transform="translate(212.30 355.70) scale(1.2 1)" x="0" y="0" font-size="11" font-weight="bold" fill="#111">G</text>
<text x="231.30" y="357.60" font-size="8.9" fill="#333333" textLength="218.4" lengthAdjust="spacingAndGlyphs">Frequencies of hematopoietic stem and progenitor cells</text>
<text x="281.50" y="374.40" font-size="8.3" fill="#333333" text-anchor="middle" textLength="48.4" lengthAdjust="spacingAndGlyphs">Bone marrow</text>
<text x="396.60" y="374.50" font-size="8.3" fill="#333333" text-anchor="middle" textLength="25.4" lengthAdjust="spacingAndGlyphs">Spleen</text>
<line x1="240.00" y1="390.50" x2="240.00" y2="451.80" stroke="#333333" stroke-width="1.1"/>
<line x1="237.20" y1="451.30" x2="240.00" y2="451.30" stroke="#333333" stroke-width="0.9"/>
<text x="233.80" y="453.60" font-size="6.6" fill="#333333" text-anchor="end">0.0</text>
<line x1="237.20" y1="436.48" x2="240.00" y2="436.48" stroke="#333333" stroke-width="0.9"/>
<text x="233.80" y="438.78" font-size="6.6" fill="#333333" text-anchor="end">0.1</text>
<line x1="237.20" y1="421.65" x2="240.00" y2="421.65" stroke="#333333" stroke-width="0.9"/>
<text x="233.80" y="423.95" font-size="6.6" fill="#333333" text-anchor="end">0.2</text>
<line x1="237.20" y1="406.82" x2="240.00" y2="406.82" stroke="#333333" stroke-width="0.9"/>
<text x="233.80" y="409.12" font-size="6.6" fill="#333333" text-anchor="end">0.3</text>
<line x1="237.20" y1="392.00" x2="240.00" y2="392.00" stroke="#333333" stroke-width="0.9"/>
<text x="233.80" y="394.30" font-size="6.6" fill="#333333" text-anchor="end">0.4</text>
<line x1="238.40" y1="443.89" x2="240.00" y2="443.89" stroke="#333333" stroke-width="0.7"/>
<line x1="238.40" y1="429.06" x2="240.00" y2="429.06" stroke="#333333" stroke-width="0.7"/>
<line x1="238.40" y1="414.24" x2="240.00" y2="414.24" stroke="#333333" stroke-width="0.7"/>
<line x1="238.40" y1="399.41" x2="240.00" y2="399.41" stroke="#333333" stroke-width="0.7"/>
<rect x="241.50" y="448.34" width="3.60" height="2.97" fill="#a6d39a"/>
<line x1="243.30" y1="448.34" x2="243.30" y2="447.89" stroke="#3ea244" stroke-width="0.7"/>
<line x1="242.20" y1="447.89" x2="244.40" y2="447.89" stroke="#3ea244" stroke-width="0.7"/>
<rect x="246.15" y="448.34" width="3.60" height="2.97" fill="#ad8663"/>
<line x1="247.95" y1="448.34" x2="247.95" y2="447.89" stroke="#82511f" stroke-width="0.7"/>
<line x1="246.85" y1="447.89" x2="249.05" y2="447.89" stroke="#82511f" stroke-width="0.7"/>
<rect x="250.85" y="438.70" width="3.60" height="12.60" fill="#e58a88"/>
<line x1="252.65" y1="438.70" x2="252.65" y2="436.48" stroke="#cc1236" stroke-width="0.7"/>
<line x1="251.55" y1="436.48" x2="253.75" y2="436.48" stroke="#cc1236" stroke-width="0.7"/>
<circle cx="251.55" cy="440.03" r="0.55" fill="#cc1236" stroke="none" stroke-width="0" fill-opacity="0.6"/>
<circle cx="252.65" cy="438.70" r="0.55" fill="#cc1236" stroke="none" stroke-width="0" fill-opacity="0.6"/>
<circle cx="253.75" cy="437.36" r="0.55" fill="#cc1236" stroke="none" stroke-width="0" fill-opacity="0.6"/>
<rect x="255.50" y="437.22" width="3.60" height="14.08" fill="#7189b5"/>
<line x1="257.30" y1="437.22" x2="257.30" y2="434.25" stroke="#1f4f8f" stroke-width="0.7"/>
<line x1="256.20" y1="434.25" x2="258.40" y2="434.25" stroke="#1f4f8f" stroke-width="0.7"/>
<circle cx="256.20" cy="439.00" r="0.55" fill="#1f4f8f" stroke="none" stroke-width="0" fill-opacity="0.6"/>
<circle cx="257.30" cy="437.22" r="0.55" fill="#1f4f8f" stroke="none" stroke-width="0" fill-opacity="0.6"/>
<circle cx="258.40" cy="435.44" r="0.55" fill="#1f4f8f" stroke="none" stroke-width="0" fill-opacity="0.6"/>
<rect x="272.50" y="445.37" width="3.60" height="5.93" fill="#a6d39a"/>
<line x1="274.30" y1="445.37" x2="274.30" y2="444.78" stroke="#3ea244" stroke-width="0.7"/>
<line x1="273.20" y1="444.78" x2="275.40" y2="444.78" stroke="#3ea244" stroke-width="0.7"/>
<circle cx="273.20" cy="445.73" r="0.55" fill="#3ea244" stroke="none" stroke-width="0" fill-opacity="0.6"/>
<circle cx="274.30" cy="445.37" r="0.55" fill="#3ea244" stroke="none" stroke-width="0" fill-opacity="0.6"/>
<circle cx="275.40" cy="445.01" r="0.55" fill="#3ea244" stroke="none" stroke-width="0" fill-opacity="0.6"/>
<rect x="277.15" y="449.82" width="3.60" height="1.48" fill="#ad8663"/>
<line x1="278.95" y1="449.82" x2="278.95" y2="449.52" stroke="#82511f" stroke-width="0.7"/>
<line x1="277.85" y1="449.52" x2="280.05" y2="449.52" stroke="#82511f" stroke-width="0.7"/>
<rect x="281.85" y="441.96" width="3.60" height="9.34" fill="#e58a88"/>
<line x1="283.65" y1="441.96" x2="283.65" y2="440.48" stroke="#cc1236" stroke-width="0.7"/>
<line x1="282.55" y1="440.48" x2="284.75" y2="440.48" stroke="#cc1236" stroke-width="0.7"/>
<circle cx="282.55" cy="442.85" r="0.55" fill="#cc1236" stroke="none" stroke-width="0" fill-opacity="0.6"/>
<circle cx="283.65" cy="441.96" r="0.55" fill="#cc1236" stroke="none" stroke-width="0" fill-opacity="0.6"/>
<circle cx="284.75" cy="441.07" r="0.55" fill="#cc1236" stroke="none" stroke-width="0" fill-opacity="0.6"/>
<rect x="286.50" y="447.59" width="3.60" height="3.71" fill="#7189b5"/>
<line x1="288.30" y1="447.59" x2="288.30" y2="446.70" stroke="#1f4f8f" stroke-width="0.7"/>
<line x1="287.20" y1="446.70" x2="289.40" y2="446.70" stroke="#1f4f8f" stroke-width="0.7"/>
<circle cx="287.20" cy="448.13" r="0.55" fill="#1f4f8f" stroke="none" stroke-width="0" fill-opacity="0.6"/>
<circle cx="288.30" cy="447.59" r="0.55" fill="#1f4f8f" stroke="none" stroke-width="0" fill-opacity="0.6"/>
<circle cx="289.40" cy="447.06" r="0.55" fill="#1f4f8f" stroke="none" stroke-width="0" fill-opacity="0.6"/>
<rect x="303.70" y="444.63" width="3.60" height="6.67" fill="#a6d39a"/>
<line x1="305.50" y1="444.63" x2="305.50" y2="443.89" stroke="#3ea244" stroke-width="0.7"/>
<line x1="304.40" y1="443.89" x2="306.60" y2="443.89" stroke="#3ea244" stroke-width="0.7"/>
<circle cx="304.40" cy="445.07" r="0.55" fill="#3ea244" stroke="none" stroke-width="0" fill-opacity="0.6"/>
<circle cx="305.50" cy="444.63" r="0.55" fill="#3ea244" stroke="none" stroke-width="0" fill-opacity="0.6"/>
<circle cx="306.60" cy="444.18" r="0.55" fill="#3ea244" stroke="none" stroke-width="0" fill-opacity="0.6"/>
<rect x="308.35" y="437.22" width="3.60" height="14.08" fill="#ad8663"/>
<line x1="310.15" y1="437.22" x2="310.15" y2="436.48" stroke="#82511f" stroke-width="0.7"/>
<line x1="309.05" y1="436.48" x2="311.25" y2="436.48" stroke="#82511f" stroke-width="0.7"/>
<circle cx="309.05" cy="437.66" r="0.55" fill="#82511f" stroke="none" stroke-width="0" fill-opacity="0.6"/>
<circle cx="310.15" cy="437.22" r="0.55" fill="#82511f" stroke="none" stroke-width="0" fill-opacity="0.6"/>
<circle cx="311.25" cy="436.77" r="0.55" fill="#82511f" stroke="none" stroke-width="0" fill-opacity="0.6"/>
<rect x="313.05" y="422.39" width="3.60" height="28.91" fill="#e58a88"/>
<line x1="314.85" y1="422.39" x2="314.85" y2="418.69" stroke="#cc1236" stroke-width="0.7"/>
<line x1="313.75" y1="418.69" x2="315.95" y2="418.69" stroke="#cc1236" stroke-width="0.7"/>
<circle cx="313.75" cy="424.62" r="0.55" fill="#cc1236" stroke="none" stroke-width="0" fill-opacity="0.6"/>
<circle cx="314.85" cy="422.39" r="0.55" fill="#cc1236" stroke="none" stroke-width="0" fill-opacity="0.6"/>
<circle cx="315.95" cy="420.17" r="0.55" fill="#cc1236" stroke="none" stroke-width="0" fill-opacity="0.6"/>
<rect x="317.70" y="405.34" width="3.60" height="45.96" fill="#7189b5"/>
<line x1="319.50" y1="405.34" x2="319.50" y2="396.45" stroke="#1f4f8f" stroke-width="0.7"/>
<line x1="318.40" y1="396.45" x2="320.60" y2="396.45" stroke="#1f4f8f" stroke-width="0.7"/>
<circle cx="318.40" cy="410.68" r="0.55" fill="#1f4f8f" stroke="none" stroke-width="0" fill-opacity="0.6"/>
<circle cx="319.50" cy="405.34" r="0.55" fill="#1f4f8f" stroke="none" stroke-width="0" fill-opacity="0.6"/>
<circle cx="320.60" cy="400.01" r="0.55" fill="#1f4f8f" stroke="none" stroke-width="0" fill-opacity="0.6"/>
<line x1="239.50" y1="451.30" x2="324.00" y2="451.30" stroke="#333333" stroke-width="1.1"/>
<line x1="250.30" y1="451.30" x2="250.30" y2="454.30" stroke="#333333" stroke-width="0.9"/>
<line x1="281.30" y1="451.30" x2="281.30" y2="454.30" stroke="#333333" stroke-width="0.9"/>
<line x1="312.50" y1="451.30" x2="312.50" y2="454.30" stroke="#333333" stroke-width="0.9"/>
<text x="230.50" y="385.00" font-size="6.6" fill="#333333" text-anchor="middle">%</text>
<text x="250.30" y="463.80" font-size="6.6" fill="#333333" text-anchor="middle">LT-HSC</text>
<text x="281.30" y="463.80" font-size="6.6" fill="#333333" text-anchor="middle">MPP1</text>
<text x="312.50" y="463.80" font-size="6.6" fill="#333333" text-anchor="middle">MPP2-4</text>
<circle cx="252.65" cy="430.00" r="0.80" fill="#cc1236"/>
<circle cx="257.30" cy="430.00" r="0.80" fill="#34476b"/>
<circle cx="272.26" cy="440.00" r="0.80" fill="#cc1236"/><circle cx="274.80" cy="440.00" r="0.80" fill="#cc1236"/><circle cx="277.34" cy="440.00" r="0.80" fill="#cc1236"/>
<circle cx="283.65" cy="436.50" r="0.80" fill="#cc1236"/>
<circle cx="303.46" cy="433.00" r="0.80" fill="#cc1236"/><circle cx="306.00" cy="433.00" r="0.80" fill="#cc1236"/><circle cx="308.54" cy="433.00" r="0.80" fill="#cc1236"/>
<circle cx="314.85" cy="413.80" r="0.80" fill="#cc1236"/>
<circle cx="319.50" cy="391.30" r="0.80" fill="#34476b"/>
<line x1="355.00" y1="390.50" x2="355.00" y2="451.80" stroke="#333333" stroke-width="1.1"/>
<line x1="352.20" y1="451.30" x2="355.00" y2="451.30" stroke="#333333" stroke-width="0.9"/>
<text x="348.80" y="453.60" font-size="6.6" fill="#333333" text-anchor="end">0.0</text>
<line x1="352.20" y1="436.57" x2="355.00" y2="436.57" stroke="#333333" stroke-width="0.9"/>
<text x="348.80" y="438.88" font-size="6.6" fill="#333333" text-anchor="end">0.1</text>
<line x1="352.20" y1="421.85" x2="355.00" y2="421.85" stroke="#333333" stroke-width="0.9"/>
<text x="348.80" y="424.15" font-size="6.6" fill="#333333" text-anchor="end">0.2</text>
<line x1="352.20" y1="407.12" x2="355.00" y2="407.12" stroke="#333333" stroke-width="0.9"/>
<text x="348.80" y="409.43" font-size="6.6" fill="#333333" text-anchor="end">0.3</text>
<line x1="352.20" y1="392.40" x2="355.00" y2="392.40" stroke="#333333" stroke-width="0.9"/>
<text x="348.80" y="394.70" font-size="6.6" fill="#333333" text-anchor="end">0.4</text>
<line x1="353.40" y1="443.94" x2="355.00" y2="443.94" stroke="#333333" stroke-width="0.7"/>
<line x1="353.40" y1="429.21" x2="355.00" y2="429.21" stroke="#333333" stroke-width="0.7"/>
<line x1="353.40" y1="414.49" x2="355.00" y2="414.49" stroke="#333333" stroke-width="0.7"/>
<line x1="353.40" y1="399.76" x2="355.00" y2="399.76" stroke="#333333" stroke-width="0.7"/>
<rect x="357.70" y="451.01" width="3.60" height="0.29" fill="#a6d39a"/>
<rect x="362.35" y="451.01" width="3.60" height="0.29" fill="#ad8663"/>
<rect x="367.05" y="449.53" width="3.60" height="1.77" fill="#e58a88"/>
<line x1="368.85" y1="449.53" x2="368.85" y2="448.65" stroke="#cc1236" stroke-width="0.7"/>
<line x1="367.75" y1="448.65" x2="369.95" y2="448.65" stroke="#cc1236" stroke-width="0.7"/>
<rect x="371.70" y="423.32" width="3.60" height="27.98" fill="#7189b5"/>
<line x1="373.50" y1="423.32" x2="373.50" y2="419.64" stroke="#1f4f8f" stroke-width="0.7"/>
<line x1="372.40" y1="419.64" x2="374.60" y2="419.64" stroke="#1f4f8f" stroke-width="0.7"/>
<circle cx="372.40" cy="425.53" r="0.55" fill="#1f4f8f" stroke="none" stroke-width="0" fill-opacity="0.6"/>
<circle cx="373.50" cy="423.32" r="0.55" fill="#1f4f8f" stroke="none" stroke-width="0" fill-opacity="0.6"/>
<circle cx="374.60" cy="421.11" r="0.55" fill="#1f4f8f" stroke="none" stroke-width="0" fill-opacity="0.6"/>
<rect x="387.80" y="451.15" width="3.60" height="0.15" fill="#a6d39a"/>
<rect x="392.45" y="451.15" width="3.60" height="0.15" fill="#ad8663"/>
<rect x="397.15" y="450.86" width="3.60" height="0.44" fill="#e58a88"/>
<rect x="401.80" y="438.78" width="3.60" height="12.52" fill="#7189b5"/>
<line x1="403.60" y1="438.78" x2="403.60" y2="437.02" stroke="#1f4f8f" stroke-width="0.7"/>
<line x1="402.50" y1="437.02" x2="404.70" y2="437.02" stroke="#1f4f8f" stroke-width="0.7"/>
<circle cx="402.50" cy="439.84" r="0.55" fill="#1f4f8f" stroke="none" stroke-width="0" fill-opacity="0.6"/>
<circle cx="403.60" cy="438.78" r="0.55" fill="#1f4f8f" stroke="none" stroke-width="0" fill-opacity="0.6"/>
<circle cx="404.70" cy="437.72" r="0.55" fill="#1f4f8f" stroke="none" stroke-width="0" fill-opacity="0.6"/>
<rect x="418.50" y="450.71" width="3.60" height="0.59" fill="#a6d39a"/>
<rect x="423.15" y="450.86" width="3.60" height="0.44" fill="#ad8663"/>
<rect x="427.85" y="447.62" width="3.60" height="3.68" fill="#e58a88"/>
<line x1="429.65" y1="447.62" x2="429.65" y2="446.15" stroke="#cc1236" stroke-width="0.7"/>
<line x1="428.55" y1="446.15" x2="430.75" y2="446.15" stroke="#cc1236" stroke-width="0.7"/>
<circle cx="428.55" cy="448.50" r="0.55" fill="#cc1236" stroke="none" stroke-width="0" fill-opacity="0.6"/>
<circle cx="429.65" cy="447.62" r="0.55" fill="#cc1236" stroke="none" stroke-width="0" fill-opacity="0.6"/>
<circle cx="430.75" cy="446.74" r="0.55" fill="#cc1236" stroke="none" stroke-width="0" fill-opacity="0.6"/>
<rect x="432.50" y="427.74" width="3.60" height="23.56" fill="#7189b5"/>
<line x1="434.30" y1="427.74" x2="434.30" y2="424.80" stroke="#1f4f8f" stroke-width="0.7"/>
<line x1="433.20" y1="424.80" x2="435.40" y2="424.80" stroke="#1f4f8f" stroke-width="0.7"/>
<circle cx="433.20" cy="429.51" r="0.55" fill="#1f4f8f" stroke="none" stroke-width="0" fill-opacity="0.6"/>
<circle cx="434.30" cy="427.74" r="0.55" fill="#1f4f8f" stroke="none" stroke-width="0" fill-opacity="0.6"/>
<circle cx="435.40" cy="425.97" r="0.55" fill="#1f4f8f" stroke="none" stroke-width="0" fill-opacity="0.6"/>
<line x1="354.50" y1="451.30" x2="438.00" y2="451.30" stroke="#333333" stroke-width="1.1"/>
<line x1="366.50" y1="451.30" x2="366.50" y2="454.30" stroke="#333333" stroke-width="0.9"/>
<line x1="396.60" y1="451.30" x2="396.60" y2="454.30" stroke="#333333" stroke-width="0.9"/>
<line x1="427.30" y1="451.30" x2="427.30" y2="454.30" stroke="#333333" stroke-width="0.9"/>
<text x="346.30" y="385.00" font-size="6.6" fill="#333333" text-anchor="middle">%</text>
<text x="366.50" y="463.80" font-size="6.6" fill="#333333" text-anchor="middle">LT-HSC</text>
<text x="396.60" y="463.80" font-size="6.6" fill="#333333" text-anchor="middle">MPP1</text>
<text x="427.30" y="463.80" font-size="6.6" fill="#333333" text-anchor="middle">MPP2-4</text>
<circle cx="368.50" cy="442.50" r="0.80" fill="#cc1236"/>
<circle cx="372.23" cy="415.80" r="0.80" fill="#34476b"/><circle cx="374.77" cy="415.80" r="0.80" fill="#34476b"/>
<circle cx="402.33" cy="415.80" r="0.80" fill="#34476b"/><circle cx="404.87" cy="415.80" r="0.80" fill="#34476b"/>
<circle cx="429.65" cy="440.50" r="0.80" fill="#cc1236"/>
<circle cx="433.03" cy="415.80" r="0.80" fill="#34476b"/><circle cx="435.57" cy="415.80" r="0.80" fill="#34476b"/>
<rect x="444.70" y="402.00" width="5.80" height="5.80" fill="#a6d39a"/>
<text x="453.40" y="407.40" font-size="6.9" fill="#4aa85a" font-style="italic">WT</text>
<rect x="444.70" y="411.80" width="5.80" height="5.80" fill="#ad8663"/>
<text x="453.40" y="417.20" font-size="6.9" fill="#6e5a48" font-style="italic">Dm<tspan font-size="3.8" dy="-2.6">Δ/Δ</tspan></text>
<rect x="444.70" y="421.60" width="5.80" height="5.80" fill="#e58a88"/>
<text x="453.40" y="427.00" font-size="6.9" fill="#d0404f" font-style="italic">VF</text>
<rect x="444.70" y="432.00" width="5.80" height="5.80" fill="#7189b5"/>
<text x="453.40" y="437.40" font-size="6.9" fill="#46598a" font-style="italic">VF;Dm<tspan font-size="3.8" dy="-2.6">Δ/Δ</tspan></text>
<text transform="translate(6.60 498.10) scale(1.2 1)" x="0" y="0" font-size="11" font-weight="bold" fill="#111">H</text>
<text x="35.50" y="499.40" font-size="8.9" fill="#333333" textLength="248.4" lengthAdjust="spacingAndGlyphs">Frequencies of erythroid precursors in bone marrow and spleen</text>
<text x="33.00" y="511.80" font-size="8.9" fill="#333333" textLength="60.8" lengthAdjust="spacingAndGlyphs">Gating strategy</text>
<text x="108.80" y="511.80" font-size="8.9" fill="#333333" textLength="75.8" lengthAdjust="spacingAndGlyphs">Ter119<tspan font-size="5" dy="-3.2">+</tspan><tspan dy="3.2"> (low+high)</tspan></text>
<text x="196.60" y="511.90" font-size="8.9" fill="#333333" textLength="83.2" lengthAdjust="spacingAndGlyphs">Erythroid progenitors</text>
<rect x="48.9" y="539.4" width="45.2" height="46.1" fill="white" stroke="#9a9a9a" stroke-width="0.8"/>
<defs><filter id="fb" x="-10%" y="-10%" width="120%" height="120%"><feGaussianBlur stdDeviation="0.8"/></filter></defs>
<path d="M62,545.5 C66,544.5 73,544.5 78,545 L78.5,579 C73,580 67,580 62,579 Z" fill="#1f2a98"/>
<path d="M63.2,558 C64,556 67,555.5 70,556.5 C72,557 73,555 75,556 C76.5,558 75.5,562 76,566 C76.5,570 75,574 76,577 L76,580 L63.5,580 C63,575 62.5,566 63.2,558 Z" fill="white"/>
<rect x="66.7" y="552.0" width="1.1" height="1.2" fill="white"/>
<rect x="71.9" y="546.7" width="0.7" height="1.5" fill="white"/>
<rect x="67.0" y="548.6" width="1.8" height="1.1" fill="white"/>
<rect x="74.8" y="551.2" width="1.4" height="0.8" fill="white"/>
<rect x="72.1" y="555.5" width="1.3" height="1.4" fill="white"/>
<rect x="72.6" y="546.7" width="1.5" height="1.2" fill="white"/>
<rect x="67.6" y="546.3" width="1.7" height="1.1" fill="white"/>
<rect x="73.2" y="555.7" width="1.5" height="1.5" fill="white"/>
<rect x="68.8" y="554.8" width="1.2" height="1.5" fill="white"/>
<rect x="75.4" y="547.1" width="0.8" height="0.9" fill="white"/>
<rect x="76.5" y="550.8" width="1.4" height="1.0" fill="white"/>
<rect x="70.3" y="550.2" width="1.1" height="1.2" fill="white"/>
<rect x="71.4" y="555.9" width="1.5" height="1.5" fill="white"/>
<rect x="75.1" y="556.9" width="1.4" height="0.8" fill="white"/>
<rect x="75.1" y="556.6" width="1.7" height="1.2" fill="white"/>
<rect x="73.1" y="548.3" width="1.6" height="1.2" fill="white"/>
<rect x="67.3" y="546.7" width="1.6" height="1.6" fill="white"/>
<rect x="64.7" y="554.8" width="1.2" height="0.8" fill="white"/>
<rect x="67.5" y="554.5" width="1.7" height="0.7" fill="white"/>
<rect x="71.8" y="546.5" width="1.5" height="1.0" fill="white"/>
<rect x="75.4" y="556.8" width="1.3" height="1.6" fill="white"/>
<rect x="67.7" y="546.8" width="1.4" height="0.7" fill="white"/>
<rect x="66.2" y="550.5" width="1.4" height="0.8" fill="white"/>
<rect x="64.1" y="555.5" width="1.0" height="1.6" fill="white"/>
<rect x="75.6" y="550.2" width="1.2" height="1.2" fill="white"/>
<rect x="72.2" y="552.6" width="1.3" height="1.3" fill="white"/>
<rect x="76.2" y="551.6" width="1.2" height="1.3" fill="white"/>
<rect x="66.7" y="549.3" width="1.8" height="1.2" fill="white"/>
<rect x="70.9" y="546.1" width="1.2" height="1.2" fill="white"/>
<rect x="63.8" y="552.8" width="1.4" height="0.8" fill="white"/>
<rect x="72.0" y="551.1" width="1.4" height="1.0" fill="white"/>
<rect x="73.0" y="554.1" width="0.7" height="0.8" fill="white"/>
<rect x="72.6" y="556.6" width="1.0" height="1.1" fill="white"/>
<rect x="71.5" y="549.5" width="1.1" height="1.0" fill="white"/>
<rect x="68.5" y="552.6" width="1.0" height="1.0" fill="white"/>
<rect x="73.9" y="546.3" width="1.3" height="1.4" fill="white"/>
<rect x="67.7" y="548.4" width="1.6" height="0.9" fill="white"/>
<rect x="66.0" y="550.8" width="1.5" height="0.8" fill="white"/>
<rect x="67.8" y="549.7" width="1.6" height="1.1" fill="white"/>
<rect x="75.0" y="547.9" width="1.1" height="1.3" fill="white"/>
<rect x="75.0" y="566.9" width="1.0" height="0.8" fill="#1f2a98"/>
<rect x="70.4" y="561.2" width="1.7" height="1.5" fill="#1f2a98"/>
<rect x="65.9" y="563.1" width="1.7" height="1.3" fill="#1f2a98"/>
<rect x="74.0" y="564.6" width="0.9" height="1.0" fill="#1f2a98"/>
<rect x="73.8" y="563.0" width="1.2" height="1.1" fill="#1f2a98"/>
<rect x="69.0" y="566.0" width="1.9" height="0.8" fill="#1f2a98"/>
<rect x="63.6" y="577.8" width="1.8" height="1.6" fill="#1f2a98"/>
<rect x="69.1" y="577.9" width="1.9" height="0.9" fill="#1f2a98"/>
<rect x="73.2" y="575.4" width="1.6" height="1.2" fill="#1f2a98"/>
<rect x="67.3" y="564.5" width="1.0" height="0.8" fill="#1f2a98"/>
<rect x="71.2" y="563.3" width="1.8" height="0.7" fill="#1f2a98"/>
<rect x="75.2" y="572.3" width="1.9" height="1.5" fill="#1f2a98"/>
<rect x="75.2" y="569.7" width="0.7" height="1.4" fill="#1f2a98"/>
<rect x="65.7" y="563.6" width="1.6" height="1.2" fill="#1f2a98"/>
<rect x="68.9" y="577.7" width="1.5" height="1.0" fill="#1f2a98"/>
<rect x="66.8" y="576.0" width="1.3" height="1.4" fill="#1f2a98"/>
<rect x="68.1" y="561.3" width="1.4" height="1.4" fill="#1f2a98"/>
<rect x="65.7" y="574.4" width="1.9" height="1.4" fill="#1f2a98"/>
<rect x="74.2" y="557.2" width="1.5" height="1.5" fill="#1f2a98"/>
<rect x="64.1" y="563.0" width="1.0" height="1.2" fill="#1f2a98"/>
<rect x="69.0" y="567.4" width="1.7" height="0.7" fill="#1f2a98"/>
<rect x="64.2" y="559.8" width="0.9" height="0.8" fill="#1f2a98"/>
<rect x="76.2" y="575.8" width="0.8" height="1.2" fill="#1f2a98"/>
<rect x="67.6" y="563.9" width="1.2" height="1.3" fill="#1f2a98"/>
<rect x="71.1" y="564.9" width="0.9" height="1.0" fill="#1f2a98"/>
<rect x="65.1" y="569.2" width="1.6" height="1.0" fill="#1f2a98"/>
<rect x="64.5" y="560.9" width="1.2" height="1.2" fill="#1f2a98"/>
<rect x="73.7" y="565.4" width="1.7" height="1.3" fill="#1f2a98"/>
<rect x="69.1" y="565.2" width="1.3" height="1.3" fill="#1f2a98"/>
<rect x="69.0" y="572.3" width="1.3" height="0.9" fill="#1f2a98"/>
<rect x="70.5" y="572.3" width="0.8" height="1.1" fill="#1f2a98"/>
<rect x="69.0" y="576.4" width="1.9" height="1.0" fill="#1f2a98"/>
<rect x="75.2" y="574.4" width="1.0" height="1.1" fill="#1f2a98"/>
<rect x="65.1" y="574.9" width="1.6" height="1.5" fill="#1f2a98"/>
<rect x="73.8" y="571.7" width="1.7" height="1.2" fill="#1f2a98"/>
<rect x="64.8" y="569.9" width="0.7" height="0.8" fill="#1f2a98"/>
<rect x="73.6" y="558.0" width="0.8" height="0.8" fill="#1f2a98"/>
<rect x="74.9" y="560.9" width="0.7" height="1.5" fill="#1f2a98"/>
<rect x="65.1" y="575.6" width="1.6" height="1.5" fill="#1f2a98"/>
<rect x="75.9" y="569.7" width="1.7" height="0.7" fill="#1f2a98"/>
<rect x="73.5" y="568.2" width="1.6" height="0.8" fill="#1f2a98"/>
<rect x="73.2" y="577.6" width="0.8" height="1.0" fill="#1f2a98"/>
<rect x="70.8" y="575.2" width="1.0" height="0.9" fill="#1f2a98"/>
<rect x="66.7" y="570.6" width="1.7" height="1.1" fill="#1f2a98"/>
<rect x="68.3" y="565.7" width="1.2" height="1.1" fill="#1f2a98"/>
<g filter="url(#fb)">
<path d="M51.8,549 C51.8,545.5 55,545 59,545.3 C63,545.6 66,546 66.7,548 L66.5,577 C63,579 57,579.2 52.5,578.8 C51.6,575 51.8,560 51.8,549 Z" fill="#1f2a98"/>
<path d="M54.0,551 C54.2,548.8 57,548.3 59.5,548.7 C61,549 61.8,551 61.8,556 L61.6,573 C60.5,575.5 56.5,575.8 54.8,575.2 C54,570 54,560 54.0,551 Z" fill="#1ea6de"/>
<path d="M55.5,556 C55.8,553 58.2,553 58.6,556 L58.6,571 C58.2,574 55.8,574 55.5,571 Z" fill="#34b46c"/>
<path d="M76.8,548 C77.5,545 82,544.6 86,544.8 C89,545 90.6,547 90.7,551 L90.7,577 C87,579 81,579.2 77,578.8 C76.6,570 76.6,560 76.8,548 Z" fill="#1f2a98"/>
<path d="M79.8,551 C80.3,548.5 83,548.2 85.8,548.5 C87.6,549 88.2,551 88.2,555 L88.2,574.5 C86.5,576.5 82.5,576.7 80.8,576.2 C79.8,570 79.8,560 79.8,551 Z" fill="#1ea6de"/>
<path d="M83.4,553 C83.8,550.5 86.4,550.5 86.8,553 L87.2,575 C86.5,577 84,577 83.6,575 Z" fill="#34b46c"/>
<ellipse cx="85.4" cy="572.8" rx="2.1" ry="4.2" fill="#e8d22a"/>
<ellipse cx="85.4" cy="574.2" rx="1.5" ry="2.2" fill="#e8581e"/>
</g>
<rect x="64.3" y="543.7" width="12.95" height="36.0" fill="none" stroke="#505050" stroke-width="0.7"/>
<rect x="77.25" y="543.7" width="15.55" height="36.0" fill="none" stroke="#505050" stroke-width="0.7"/>
<text x="78.20" y="533.00" font-size="6.9" fill="#333333" text-anchor="middle">Ter119<tspan font-size="4.2" dy="-2.6">+</tspan></text>
<rect x="65" y="536.5" width="27.5" height="5.2" fill="white"/>
<text x="78.90" y="541.30" font-size="6.9" fill="#333333" text-anchor="middle" textLength="26.0" lengthAdjust="spacingAndGlyphs">low high</text>
<line x1="43.20" y1="585.50" x2="43.20" y2="571.50" stroke="#333333" stroke-width="1.3"/>
<polygon points="41.120000000000005,571.04 45.28,571.04 43.2,567.4" fill="#333333"/>
<text x="38.80" y="580.00" font-size="6.6" fill="#333333" text-anchor="middle" transform="rotate(-90 38.8 580.0)">CD44</text>
<line x1="46.80" y1="590.70" x2="62.00" y2="590.70" stroke="#333333" stroke-width="1.3"/>
<polygon points="62.36,588.62 62.36,592.7800000000001 66.0,590.7" fill="#333333"/>
<text x="46.80" y="600.00" font-size="6.6" fill="#333333" textLength="18.5" lengthAdjust="spacingAndGlyphs">Ter119</text>
<line x1="85.50" y1="580.50" x2="85.50" y2="598.00" stroke="#333333" stroke-width="1.3"/>
<polygon points="83.42,598.5600000000001 87.58,598.5600000000001 85.5,602.2" fill="#333333"/>
<rect x="47.5" y="624.5" width="46.0" height="44.5" fill="white" stroke="#9a9a9a" stroke-width="0.8"/>
<g filter="url(#fb)">
<path d="M47.8,639 L52,636 L60,633 L70,630 L80,628.6 L88,629 L91,632 L90.5,640 L88,645 L83,649 L78,654 L73,659 L67,663 L60,665.5 L47.8,665.5 Z" fill="#1f2a98"/>
<path d="M49,645 L58,639.5 L68,636 L79,633.5 L85,634 L85,639.5 L78,645.5 L70,652 L62,658 L55,662.5 L49,662.5 Z" fill="#1ea6de"/>
<path d="M48.5,656 L56,650 L64,645 L73,639.5 L77,639.5 L75,644 L68,650 L61,656.5 L55,662 L48.5,662.5 Z" fill="#34b46c"/>
<ellipse cx="53.6" cy="659.6" rx="3.3" ry="2.6" fill="#e8d22a"/>
<ellipse cx="53.4" cy="660.0" rx="2.0" ry="1.5" fill="#e8581e"/>
</g>
<rect x="83.7" y="662.3" width="0.8" height="0.8" fill="#3a3f6a"/>
<rect x="87.5" y="666.7" width="0.8" height="0.8" fill="#3a3f6a"/>
<rect x="86.3" y="666.3" width="0.8" height="0.8" fill="#3a3f6a"/>
<rect x="70.6" y="656.2" width="0.8" height="0.8" fill="#3a3f6a"/>
<rect x="90.8" y="660.3" width="0.8" height="0.8" fill="#3a3f6a"/>
<rect x="89.8" y="648.5" width="0.8" height="0.8" fill="#3a3f6a"/>
<rect x="80.3" y="651.4" width="0.8" height="0.8" fill="#3a3f6a"/>
<rect x="82.0" y="658.6" width="0.8" height="0.8" fill="#3a3f6a"/>
<rect x="70.3" y="650.8" width="0.8" height="0.8" fill="#3a3f6a"/>
<rect x="76.1" y="666.2" width="0.8" height="0.8" fill="#3a3f6a"/>
<rect x="86.8" y="649.5" width="0.8" height="0.8" fill="#3a3f6a"/>
<rect x="87.5" y="649.1" width="0.8" height="0.8" fill="#3a3f6a"/>
<rect x="83.6" y="648.8" width="0.8" height="0.8" fill="#3a3f6a"/>
<rect x="70.0" y="665.2" width="0.8" height="0.8" fill="#3a3f6a"/>
<rect x="74.6" y="650.7" width="0.8" height="0.8" fill="#3a3f6a"/>
<rect x="91.6" y="665.2" width="0.8" height="0.8" fill="#3a3f6a"/>
<rect x="76.4" y="667.2" width="0.8" height="0.8" fill="#3a3f6a"/>
<rect x="81.9" y="660.9" width="0.8" height="0.8" fill="#3a3f6a"/>
<rect x="74.5" y="666.7" width="0.8" height="0.8" fill="#3a3f6a"/>
<rect x="85.2" y="667.3" width="0.8" height="0.8" fill="#3a3f6a"/>
<rect x="89.7" y="652.6" width="0.8" height="0.8" fill="#3a3f6a"/>
<rect x="77.9" y="649.7" width="0.8" height="0.8" fill="#3a3f6a"/>
<rect x="73.2" y="647.4" width="0.8" height="0.8" fill="#3a3f6a"/>
<rect x="76.6" y="659.3" width="0.8" height="0.8" fill="#3a3f6a"/>
<rect x="70.1" y="660.9" width="0.8" height="0.8" fill="#3a3f6a"/>
<rect x="77.4" y="652.8" width="0.8" height="0.8" fill="#3a3f6a"/>
<rect x="88.0" y="656.6" width="0.8" height="0.8" fill="#3a3f6a"/>
<rect x="76.9" y="656.6" width="0.8" height="0.8" fill="#3a3f6a"/>
<rect x="85.5" y="647.3" width="0.8" height="0.8" fill="#3a3f6a"/>
<rect x="91.5" y="646.5" width="0.8" height="0.8" fill="#3a3f6a"/>
<rect x="86.5" y="664.6" width="0.8" height="0.8" fill="#3a3f6a"/>
<rect x="70.4" y="663.3" width="0.8" height="0.8" fill="#3a3f6a"/>
<rect x="78.1" y="658.7" width="0.8" height="0.8" fill="#3a3f6a"/>
<rect x="70.2" y="647.0" width="0.8" height="0.8" fill="#3a3f6a"/>
<rect x="74.0" y="667.0" width="0.8" height="0.8" fill="#3a3f6a"/>
<rect x="74.3" y="662.6" width="0.8" height="0.8" fill="#3a3f6a"/>
<rect x="90.5" y="666.7" width="0.8" height="0.8" fill="#3a3f6a"/>
<rect x="77.6" y="653.8" width="0.8" height="0.8" fill="#3a3f6a"/>
<rect x="81.5" y="663.1" width="0.8" height="0.8" fill="#3a3f6a"/>
<rect x="72.4" y="662.5" width="0.8" height="0.8" fill="#3a3f6a"/>
<rect x="87.5" y="664.9" width="0.8" height="0.8" fill="#3a3f6a"/>
<rect x="70.8" y="666.8" width="0.8" height="0.8" fill="#3a3f6a"/>
<rect x="72.0" y="653.5" width="0.8" height="0.8" fill="#3a3f6a"/>
<rect x="83.4" y="666.2" width="0.8" height="0.8" fill="#3a3f6a"/>
<rect x="77.5" y="666.3" width="0.8" height="0.8" fill="#3a3f6a"/>
<path d="M47.8,640.8 L69.5,627.0 L91.5,627.0 L91.5,643.5 L86,644.5" fill="none" stroke="#333" stroke-width="0.7"/>
<path d="M69.5,627 L74.5,632.5 M78.5,635 L81,642 M64.5,638 L72.5,652 M47.6,651 L62.5,651 L67.5,655.5 M47.6,664 L67.5,664 L67.5,662" fill="none" stroke="#333" stroke-width="0.6"/>
<text x="83.50" y="640.20" font-size="7.2" fill="white" text-anchor="middle" font-weight="bold">II</text>
<text x="72.50" y="642.70" font-size="7.2" fill="white" text-anchor="middle" font-weight="bold">III</text>
<text x="60.50" y="649.20" font-size="7.2" fill="white" text-anchor="middle" font-weight="bold">IV</text>
<text x="60.70" y="660.20" font-size="7.2" fill="white" text-anchor="middle" font-weight="bold">V</text>
<text x="71.00" y="620.00" font-size="6.9" fill="#333333" text-anchor="middle" textLength="37.5" lengthAdjust="spacingAndGlyphs">Ter119<tspan font-size="4.2" dy="-2.6">+</tspan><tspan dy="2.6"> high</tspan></text>
<line x1="43.20" y1="670.00" x2="43.20" y2="657.00" stroke="#333333" stroke-width="1.3"/>
<polygon points="41.120000000000005,656.24 45.28,656.24 43.2,652.6" fill="#333333"/>
<text x="38.80" y="663.20" font-size="6.6" fill="#333333" text-anchor="middle" transform="rotate(-90 38.8 663.2)">CD44</text>
<line x1="46.80" y1="675.70" x2="62.00" y2="675.70" stroke="#333333" stroke-width="1.3"/>
<polygon points="62.36,673.62 62.36,677.7800000000001 66.0,675.7" fill="#333333"/>
<text x="46.80" y="685.00" font-size="6.2" fill="#333333" textLength="12.5" lengthAdjust="spacingAndGlyphs">FSC-A</text>
<line x1="133.00" y1="529.00" x2="133.00" y2="591.40" stroke="#333333" stroke-width="1.1"/>
<line x1="130.20" y1="590.90" x2="133.00" y2="590.90" stroke="#333333" stroke-width="0.9"/>
<text x="129.40" y="593.20" font-size="6.6" fill="#333333" text-anchor="end">0</text>
<line x1="130.20" y1="578.74" x2="133.00" y2="578.74" stroke="#333333" stroke-width="0.9"/>
<text x="129.40" y="581.04" font-size="6.6" fill="#333333" text-anchor="end">20</text>
<line x1="130.20" y1="566.58" x2="133.00" y2="566.58" stroke="#333333" stroke-width="0.9"/>
<text x="129.40" y="568.88" font-size="6.6" fill="#333333" text-anchor="end">40</text>
<line x1="130.20" y1="554.42" x2="133.00" y2="554.42" stroke="#333333" stroke-width="0.9"/>
<text x="129.40" y="556.72" font-size="6.6" fill="#333333" text-anchor="end">60</text>
<line x1="130.20" y1="542.26" x2="133.00" y2="542.26" stroke="#333333" stroke-width="0.9"/>
<text x="129.40" y="544.56" font-size="6.6" fill="#333333" text-anchor="end">80</text>
<line x1="130.20" y1="530.10" x2="133.00" y2="530.10" stroke="#333333" stroke-width="0.9"/>
<text x="129.40" y="532.40" font-size="6.6" fill="#333333" text-anchor="end">100</text>
<line x1="131.40" y1="584.82" x2="133.00" y2="584.82" stroke="#333333" stroke-width="0.7"/>
<line x1="131.40" y1="572.66" x2="133.00" y2="572.66" stroke="#333333" stroke-width="0.7"/>
<line x1="131.40" y1="560.50" x2="133.00" y2="560.50" stroke="#333333" stroke-width="0.7"/>
<line x1="131.40" y1="548.34" x2="133.00" y2="548.34" stroke="#333333" stroke-width="0.7"/>
<line x1="131.40" y1="536.18" x2="133.00" y2="536.18" stroke="#333333" stroke-width="0.7"/>
<rect x="136.15" y="562.93" width="4.30" height="27.97" fill="#a6d39a"/>
<line x1="138.30" y1="564.45" x2="138.30" y2="561.41" stroke="#3ea244" stroke-width="0.7"/>
<line x1="137.00" y1="561.41" x2="139.60" y2="561.41" stroke="#3ea244" stroke-width="0.7"/>
<circle cx="137.10" cy="563.69" r="0.6" fill="#3ea244" stroke="none" stroke-width="0" fill-opacity="0.7"/>
<circle cx="138.30" cy="562.93" r="0.6" fill="#3ea244" stroke="none" stroke-width="0" fill-opacity="0.7"/>
<circle cx="139.50" cy="562.17" r="0.6" fill="#3ea244" stroke="none" stroke-width="0" fill-opacity="0.7"/>
<rect x="143.15" y="563.54" width="4.30" height="27.36" fill="#ad8663"/>
<line x1="145.30" y1="565.06" x2="145.30" y2="562.02" stroke="#82511f" stroke-width="0.7"/>
<line x1="144.00" y1="562.02" x2="146.60" y2="562.02" stroke="#82511f" stroke-width="0.7"/>
<circle cx="144.10" cy="564.30" r="0.6" fill="#82511f" stroke="none" stroke-width="0" fill-opacity="0.7"/>
<circle cx="145.30" cy="563.54" r="0.6" fill="#82511f" stroke="none" stroke-width="0" fill-opacity="0.7"/>
<circle cx="146.50" cy="562.78" r="0.6" fill="#82511f" stroke="none" stroke-width="0" fill-opacity="0.7"/>
<rect x="150.15" y="583.91" width="4.30" height="6.99" fill="#e58a88"/>
<line x1="152.30" y1="585.43" x2="152.30" y2="582.39" stroke="#cc1236" stroke-width="0.7"/>
<line x1="151.00" y1="582.39" x2="153.60" y2="582.39" stroke="#cc1236" stroke-width="0.7"/>
<circle cx="151.10" cy="584.67" r="0.6" fill="#cc1236" stroke="none" stroke-width="0" fill-opacity="0.7"/>
<circle cx="152.30" cy="583.91" r="0.6" fill="#cc1236" stroke="none" stroke-width="0" fill-opacity="0.7"/>
<circle cx="153.50" cy="583.15" r="0.6" fill="#cc1236" stroke="none" stroke-width="0" fill-opacity="0.7"/>
<rect x="157.65" y="578.74" width="4.30" height="12.16" fill="#7189b5"/>
<line x1="159.80" y1="580.87" x2="159.80" y2="576.61" stroke="#1f4f8f" stroke-width="0.7"/>
<line x1="158.50" y1="576.61" x2="161.10" y2="576.61" stroke="#1f4f8f" stroke-width="0.7"/>
<circle cx="158.60" cy="579.80" r="0.6" fill="#1f4f8f" stroke="none" stroke-width="0" fill-opacity="0.7"/>
<circle cx="159.80" cy="578.74" r="0.6" fill="#1f4f8f" stroke="none" stroke-width="0" fill-opacity="0.7"/>
<circle cx="161.00" cy="577.68" r="0.6" fill="#1f4f8f" stroke="none" stroke-width="0" fill-opacity="0.7"/>
<line x1="132.50" y1="590.90" x2="164.00" y2="590.90" stroke="#333333" stroke-width="1.1"/>
<line x1="138.30" y1="590.90" x2="138.30" y2="593.90" stroke="#333333" stroke-width="0.9"/>
<line x1="145.30" y1="590.90" x2="145.30" y2="593.90" stroke="#333333" stroke-width="0.9"/>
<line x1="152.30" y1="590.90" x2="152.30" y2="593.90" stroke="#333333" stroke-width="0.9"/>
<line x1="159.80" y1="590.90" x2="159.80" y2="593.90" stroke="#333333" stroke-width="0.9"/>
<polyline points="137.90,539.10 137.90,536.30 159.50,536.30 159.50,539.10" fill="none" stroke="#5a5a5a" stroke-width="0.9"/>
<circle cx="144.38" cy="533.40" r="0.91" fill="#444"/><circle cx="147.26" cy="533.40" r="0.91" fill="#444"/><circle cx="150.14" cy="533.40" r="0.91" fill="#444"/><circle cx="153.02" cy="533.40" r="0.91" fill="#444"/>
<polyline points="145.00,545.30 145.00,542.50 159.50,542.50 159.50,545.30" fill="none" stroke="#5a5a5a" stroke-width="0.9"/>
<circle cx="147.78" cy="539.40" r="0.91" fill="#444"/><circle cx="150.66" cy="539.40" r="0.91" fill="#444"/><circle cx="153.54" cy="539.40" r="0.91" fill="#444"/><circle cx="156.42" cy="539.40" r="0.91" fill="#444"/>
<polyline points="137.90,551.70 137.90,548.90 151.50,548.90 151.50,551.70" fill="none" stroke="#5a5a5a" stroke-width="0.9"/>
<circle cx="140.38" cy="546.80" r="0.91" fill="#444"/><circle cx="143.26" cy="546.80" r="0.91" fill="#444"/><circle cx="146.14" cy="546.80" r="0.91" fill="#444"/><circle cx="149.02" cy="546.80" r="0.91" fill="#444"/>
<polyline points="145.00,559.10 145.00,556.30 159.50,556.30 159.50,559.10" fill="none" stroke="#5a5a5a" stroke-width="0.9"/>
<circle cx="141.88" cy="554.20" r="0.91" fill="#444"/><circle cx="144.76" cy="554.20" r="0.91" fill="#444"/><circle cx="147.64" cy="554.20" r="0.91" fill="#444"/><circle cx="150.52" cy="554.20" r="0.91" fill="#444"/>
<text x="110.80" y="559.70" font-size="8.0" fill="#333333" text-anchor="middle" transform="rotate(-90 110.8 559.7)" textLength="39" lengthAdjust="spacingAndGlyphs">Bone marrow</text>
<circle cx="156.10" cy="554.20" r="0.91" fill="#444"/>
<line x1="152.40" y1="556.30" x2="152.40" y2="559.10" stroke="#5a5a5a" stroke-width="0.9"/>
<line x1="133.00" y1="627.00" x2="133.00" y2="688.00" stroke="#333333" stroke-width="1.1"/>
<line x1="130.20" y1="687.50" x2="133.00" y2="687.50" stroke="#333333" stroke-width="0.9"/>
<text x="129.40" y="689.80" font-size="6.6" fill="#333333" text-anchor="end">0</text>
<line x1="130.20" y1="675.64" x2="133.00" y2="675.64" stroke="#333333" stroke-width="0.9"/>
<text x="129.40" y="677.94" font-size="6.6" fill="#333333" text-anchor="end">20</text>
<line x1="130.20" y1="663.78" x2="133.00" y2="663.78" stroke="#333333" stroke-width="0.9"/>
<text x="129.40" y="666.08" font-size="6.6" fill="#333333" text-anchor="end">40</text>
<line x1="130.20" y1="651.92" x2="133.00" y2="651.92" stroke="#333333" stroke-width="0.9"/>
<text x="129.40" y="654.22" font-size="6.6" fill="#333333" text-anchor="end">60</text>
<line x1="130.20" y1="640.06" x2="133.00" y2="640.06" stroke="#333333" stroke-width="0.9"/>
<text x="129.40" y="642.36" font-size="6.6" fill="#333333" text-anchor="end">80</text>
<line x1="130.20" y1="628.20" x2="133.00" y2="628.20" stroke="#333333" stroke-width="0.9"/>
<text x="129.40" y="630.50" font-size="6.6" fill="#333333" text-anchor="end">100</text>
<line x1="131.40" y1="681.57" x2="133.00" y2="681.57" stroke="#333333" stroke-width="0.7"/>
<line x1="131.40" y1="669.71" x2="133.00" y2="669.71" stroke="#333333" stroke-width="0.7"/>
<line x1="131.40" y1="657.85" x2="133.00" y2="657.85" stroke="#333333" stroke-width="0.7"/>
<line x1="131.40" y1="645.99" x2="133.00" y2="645.99" stroke="#333333" stroke-width="0.7"/>
<line x1="131.40" y1="634.13" x2="133.00" y2="634.13" stroke="#333333" stroke-width="0.7"/>
<rect x="136.15" y="662.59" width="4.30" height="24.91" fill="#a6d39a"/>
<line x1="138.30" y1="664.97" x2="138.30" y2="660.22" stroke="#3ea244" stroke-width="0.7"/>
<line x1="137.00" y1="660.22" x2="139.60" y2="660.22" stroke="#3ea244" stroke-width="0.7"/>
<circle cx="137.10" cy="663.78" r="0.6" fill="#3ea244" stroke="none" stroke-width="0" fill-opacity="0.7"/>
<circle cx="138.30" cy="662.59" r="0.6" fill="#3ea244" stroke="none" stroke-width="0" fill-opacity="0.7"/>
<circle cx="139.50" cy="661.41" r="0.6" fill="#3ea244" stroke="none" stroke-width="0" fill-opacity="0.7"/>
<rect x="143.15" y="662.00" width="4.30" height="25.50" fill="#ad8663"/>
<line x1="145.30" y1="664.37" x2="145.30" y2="659.63" stroke="#82511f" stroke-width="0.7"/>
<line x1="144.00" y1="659.63" x2="146.60" y2="659.63" stroke="#82511f" stroke-width="0.7"/>
<circle cx="144.10" cy="663.19" r="0.6" fill="#82511f" stroke="none" stroke-width="0" fill-opacity="0.7"/>
<circle cx="145.30" cy="662.00" r="0.6" fill="#82511f" stroke="none" stroke-width="0" fill-opacity="0.7"/>
<circle cx="146.50" cy="660.82" r="0.6" fill="#82511f" stroke="none" stroke-width="0" fill-opacity="0.7"/>
<rect x="150.15" y="649.55" width="4.30" height="37.95" fill="#e58a88"/>
<line x1="152.30" y1="651.33" x2="152.30" y2="647.77" stroke="#cc1236" stroke-width="0.7"/>
<line x1="151.00" y1="647.77" x2="153.60" y2="647.77" stroke="#cc1236" stroke-width="0.7"/>
<circle cx="151.10" cy="650.44" r="0.6" fill="#cc1236" stroke="none" stroke-width="0" fill-opacity="0.7"/>
<circle cx="152.30" cy="649.55" r="0.6" fill="#cc1236" stroke="none" stroke-width="0" fill-opacity="0.7"/>
<circle cx="153.50" cy="648.66" r="0.6" fill="#cc1236" stroke="none" stroke-width="0" fill-opacity="0.7"/>
<rect x="157.65" y="647.77" width="4.30" height="39.73" fill="#7189b5"/>
<line x1="159.80" y1="648.66" x2="159.80" y2="646.88" stroke="#1f4f8f" stroke-width="0.7"/>
<line x1="158.50" y1="646.88" x2="161.10" y2="646.88" stroke="#1f4f8f" stroke-width="0.7"/>
<circle cx="158.60" cy="648.21" r="0.6" fill="#1f4f8f" stroke="none" stroke-width="0" fill-opacity="0.7"/>
<circle cx="159.80" cy="647.77" r="0.6" fill="#1f4f8f" stroke="none" stroke-width="0" fill-opacity="0.7"/>
<circle cx="161.00" cy="647.32" r="0.6" fill="#1f4f8f" stroke="none" stroke-width="0" fill-opacity="0.7"/>
<line x1="132.50" y1="687.50" x2="164.00" y2="687.50" stroke="#333333" stroke-width="1.1"/>
<line x1="138.30" y1="687.50" x2="138.30" y2="690.50" stroke="#333333" stroke-width="0.9"/>
<line x1="145.30" y1="687.50" x2="145.30" y2="690.50" stroke="#333333" stroke-width="0.9"/>
<line x1="152.30" y1="687.50" x2="152.30" y2="690.50" stroke="#333333" stroke-width="0.9"/>
<line x1="159.80" y1="687.50" x2="159.80" y2="690.50" stroke="#333333" stroke-width="0.9"/>
<polyline points="137.90,623.30 137.90,620.50 159.50,620.50 159.50,623.30" fill="none" stroke="#5a5a5a" stroke-width="0.9"/>
<circle cx="146.72" cy="617.40" r="0.91" fill="#444"/><circle cx="149.60" cy="617.40" r="0.91" fill="#444"/><circle cx="152.48" cy="617.40" r="0.91" fill="#444"/>
<polyline points="145.30,629.10 145.30,626.30 159.50,626.30 159.50,629.10" fill="none" stroke="#5a5a5a" stroke-width="0.9"/>
<circle cx="149.52" cy="623.20" r="0.91" fill="#444"/><circle cx="152.40" cy="623.20" r="0.91" fill="#444"/><circle cx="155.28" cy="623.20" r="0.91" fill="#444"/>
<polyline points="137.90,637.70 137.90,634.90 152.70,634.90 152.70,637.70" fill="none" stroke="#5a5a5a" stroke-width="0.9"/>
<circle cx="142.72" cy="632.50" r="0.91" fill="#444"/><circle cx="145.60" cy="632.50" r="0.91" fill="#444"/><circle cx="148.48" cy="632.50" r="0.91" fill="#444"/>
<polyline points="145.60,645.70 145.60,642.90 152.70,642.90 152.70,645.70" fill="none" stroke="#5a5a5a" stroke-width="0.9"/>
<circle cx="147.26" cy="639.80" r="0.91" fill="#444"/><circle cx="150.14" cy="639.80" r="0.91" fill="#444"/>
<text x="111.20" y="656.50" font-size="8.8" fill="#333333" text-anchor="middle" transform="rotate(-90 111.2 656.5)" textLength="21.5" lengthAdjust="spacingAndGlyphs">Spleen</text>
<line x1="192.70" y1="530.00" x2="192.70" y2="591.60" stroke="#333333" stroke-width="1.1"/>
<line x1="189.90" y1="591.10" x2="192.70" y2="591.10" stroke="#333333" stroke-width="0.9"/>
<text x="186.50" y="593.40" font-size="6.6" fill="#333333" text-anchor="end">0</text>
<line x1="189.90" y1="576.20" x2="192.70" y2="576.20" stroke="#333333" stroke-width="0.9"/>
<text x="186.50" y="578.50" font-size="6.6" fill="#333333" text-anchor="end">10</text>
<line x1="189.90" y1="561.30" x2="192.70" y2="561.30" stroke="#333333" stroke-width="0.9"/>
<text x="186.50" y="563.60" font-size="6.6" fill="#333333" text-anchor="end">20</text>
<line x1="189.90" y1="546.40" x2="192.70" y2="546.40" stroke="#333333" stroke-width="0.9"/>
<text x="186.50" y="548.70" font-size="6.6" fill="#333333" text-anchor="end">30</text>
<line x1="189.90" y1="531.50" x2="192.70" y2="531.50" stroke="#333333" stroke-width="0.9"/>
<text x="186.50" y="533.80" font-size="6.6" fill="#333333" text-anchor="end">40</text>
<line x1="191.10" y1="583.65" x2="192.70" y2="583.65" stroke="#333333" stroke-width="0.7"/>
<line x1="191.10" y1="568.75" x2="192.70" y2="568.75" stroke="#333333" stroke-width="0.7"/>
<line x1="191.10" y1="553.85" x2="192.70" y2="553.85" stroke="#333333" stroke-width="0.7"/>
<line x1="191.10" y1="538.95" x2="192.70" y2="538.95" stroke="#333333" stroke-width="0.7"/>
<rect x="195.50" y="590.65" width="4.20" height="0.45" fill="#a6d39a"/>
<rect x="202.15" y="590.65" width="4.20" height="0.45" fill="#ad8663"/>
<rect x="208.85" y="590.80" width="4.20" height="0.30" fill="#e58a88"/>
<rect x="215.50" y="590.65" width="4.20" height="0.45" fill="#7189b5"/>
<rect x="226.20" y="588.87" width="4.20" height="2.24" fill="#a6d39a"/>
<line x1="228.30" y1="588.87" x2="228.30" y2="588.12" stroke="#3ea244" stroke-width="0.7"/>
<line x1="227.20" y1="588.12" x2="229.40" y2="588.12" stroke="#3ea244" stroke-width="0.7"/>
<rect x="232.85" y="589.16" width="4.20" height="1.94" fill="#ad8663"/>
<line x1="234.95" y1="589.16" x2="234.95" y2="588.57" stroke="#82511f" stroke-width="0.7"/>
<line x1="233.85" y1="588.57" x2="236.05" y2="588.57" stroke="#82511f" stroke-width="0.7"/>
<rect x="239.55" y="590.80" width="4.20" height="0.30" fill="#e58a88"/>
<rect x="246.20" y="590.06" width="4.20" height="1.04" fill="#7189b5"/>
<line x1="248.30" y1="590.06" x2="248.30" y2="589.61" stroke="#1f4f8f" stroke-width="0.7"/>
<line x1="247.20" y1="589.61" x2="249.40" y2="589.61" stroke="#1f4f8f" stroke-width="0.7"/>
<rect x="256.90" y="570.24" width="4.20" height="20.86" fill="#a6d39a"/>
<line x1="259.00" y1="570.24" x2="259.00" y2="568.00" stroke="#3ea244" stroke-width="0.7"/>
<line x1="257.90" y1="568.00" x2="260.10" y2="568.00" stroke="#3ea244" stroke-width="0.7"/>
<circle cx="257.90" cy="571.58" r="0.55" fill="#3ea244" stroke="none" stroke-width="0" fill-opacity="0.6"/>
<circle cx="259.00" cy="570.24" r="0.55" fill="#3ea244" stroke="none" stroke-width="0" fill-opacity="0.6"/>
<circle cx="260.10" cy="568.90" r="0.55" fill="#3ea244" stroke="none" stroke-width="0" fill-opacity="0.6"/>
<rect x="263.55" y="569.50" width="4.20" height="21.61" fill="#ad8663"/>
<line x1="265.65" y1="569.50" x2="265.65" y2="567.26" stroke="#82511f" stroke-width="0.7"/>
<line x1="264.55" y1="567.26" x2="266.75" y2="567.26" stroke="#82511f" stroke-width="0.7"/>
<circle cx="264.55" cy="570.84" r="0.55" fill="#82511f" stroke="none" stroke-width="0" fill-opacity="0.6"/>
<circle cx="265.65" cy="569.50" r="0.55" fill="#82511f" stroke="none" stroke-width="0" fill-opacity="0.6"/>
<circle cx="266.75" cy="568.15" r="0.55" fill="#82511f" stroke="none" stroke-width="0" fill-opacity="0.6"/>
<rect x="270.25" y="590.36" width="4.20" height="0.75" fill="#e58a88"/>
<rect x="276.90" y="585.14" width="4.20" height="5.96" fill="#7189b5"/>
<line x1="279.00" y1="585.14" x2="279.00" y2="582.90" stroke="#1f4f8f" stroke-width="0.7"/>
<line x1="277.90" y1="582.90" x2="280.10" y2="582.90" stroke="#1f4f8f" stroke-width="0.7"/>
<circle cx="277.90" cy="586.48" r="0.55" fill="#1f4f8f" stroke="none" stroke-width="0" fill-opacity="0.6"/>
<circle cx="279.00" cy="585.14" r="0.55" fill="#1f4f8f" stroke="none" stroke-width="0" fill-opacity="0.6"/>
<circle cx="280.10" cy="583.80" r="0.55" fill="#1f4f8f" stroke="none" stroke-width="0" fill-opacity="0.6"/>
<rect x="287.90" y="564.28" width="4.20" height="26.82" fill="#a6d39a"/>
<line x1="290.00" y1="564.28" x2="290.00" y2="561.30" stroke="#3ea244" stroke-width="0.7"/>
<line x1="288.90" y1="561.30" x2="291.10" y2="561.30" stroke="#3ea244" stroke-width="0.7"/>
<circle cx="288.90" cy="566.07" r="0.55" fill="#3ea244" stroke="none" stroke-width="0" fill-opacity="0.6"/>
<circle cx="290.00" cy="564.28" r="0.55" fill="#3ea244" stroke="none" stroke-width="0" fill-opacity="0.6"/>
<circle cx="291.10" cy="562.49" r="0.55" fill="#3ea244" stroke="none" stroke-width="0" fill-opacity="0.6"/>
<rect x="294.55" y="567.56" width="4.20" height="23.54" fill="#ad8663"/>
<line x1="296.65" y1="567.56" x2="296.65" y2="564.58" stroke="#82511f" stroke-width="0.7"/>
<line x1="295.55" y1="564.58" x2="297.75" y2="564.58" stroke="#82511f" stroke-width="0.7"/>
<circle cx="295.55" cy="569.35" r="0.55" fill="#82511f" stroke="none" stroke-width="0" fill-opacity="0.6"/>
<circle cx="296.65" cy="567.56" r="0.55" fill="#82511f" stroke="none" stroke-width="0" fill-opacity="0.6"/>
<circle cx="297.75" cy="565.77" r="0.55" fill="#82511f" stroke="none" stroke-width="0" fill-opacity="0.6"/>
<rect x="301.25" y="588.72" width="4.20" height="2.38" fill="#e58a88"/>
<line x1="303.35" y1="588.72" x2="303.35" y2="587.97" stroke="#cc1236" stroke-width="0.7"/>
<line x1="302.25" y1="587.97" x2="304.45" y2="587.97" stroke="#cc1236" stroke-width="0.7"/>
<rect x="307.90" y="585.14" width="4.20" height="5.96" fill="#7189b5"/>
<line x1="310.00" y1="585.14" x2="310.00" y2="582.90" stroke="#1f4f8f" stroke-width="0.7"/>
<line x1="308.90" y1="582.90" x2="311.10" y2="582.90" stroke="#1f4f8f" stroke-width="0.7"/>
<circle cx="308.90" cy="586.48" r="0.55" fill="#1f4f8f" stroke="none" stroke-width="0" fill-opacity="0.6"/>
<circle cx="310.00" cy="585.14" r="0.55" fill="#1f4f8f" stroke="none" stroke-width="0" fill-opacity="0.6"/>
<circle cx="311.10" cy="583.80" r="0.55" fill="#1f4f8f" stroke="none" stroke-width="0" fill-opacity="0.6"/>
<rect x="318.90" y="571.73" width="4.20" height="19.37" fill="#a6d39a"/>
<line x1="321.00" y1="571.73" x2="321.00" y2="568.75" stroke="#3ea244" stroke-width="0.7"/>
<line x1="319.90" y1="568.75" x2="322.10" y2="568.75" stroke="#3ea244" stroke-width="0.7"/>
<circle cx="319.90" cy="573.52" r="0.55" fill="#3ea244" stroke="none" stroke-width="0" fill-opacity="0.6"/>
<circle cx="321.00" cy="571.73" r="0.55" fill="#3ea244" stroke="none" stroke-width="0" fill-opacity="0.6"/>
<circle cx="322.10" cy="569.94" r="0.55" fill="#3ea244" stroke="none" stroke-width="0" fill-opacity="0.6"/>
<rect x="325.55" y="575.31" width="4.20" height="15.79" fill="#ad8663"/>
<line x1="327.65" y1="575.31" x2="327.65" y2="573.07" stroke="#82511f" stroke-width="0.7"/>
<line x1="326.55" y1="573.07" x2="328.75" y2="573.07" stroke="#82511f" stroke-width="0.7"/>
<circle cx="326.55" cy="576.65" r="0.55" fill="#82511f" stroke="none" stroke-width="0" fill-opacity="0.6"/>
<circle cx="327.65" cy="575.31" r="0.55" fill="#82511f" stroke="none" stroke-width="0" fill-opacity="0.6"/>
<circle cx="328.75" cy="573.97" r="0.55" fill="#82511f" stroke="none" stroke-width="0" fill-opacity="0.6"/>
<rect x="332.25" y="576.95" width="4.20" height="14.16" fill="#e58a88"/>
<line x1="334.35" y1="576.95" x2="334.35" y2="573.22" stroke="#cc1236" stroke-width="0.7"/>
<line x1="333.25" y1="573.22" x2="335.45" y2="573.22" stroke="#cc1236" stroke-width="0.7"/>
<circle cx="333.25" cy="579.18" r="0.55" fill="#cc1236" stroke="none" stroke-width="0" fill-opacity="0.6"/>
<circle cx="334.35" cy="576.95" r="0.55" fill="#cc1236" stroke="none" stroke-width="0" fill-opacity="0.6"/>
<circle cx="335.45" cy="574.71" r="0.55" fill="#cc1236" stroke="none" stroke-width="0" fill-opacity="0.6"/>
<rect x="338.90" y="575.01" width="4.20" height="16.09" fill="#7189b5"/>
<line x1="341.00" y1="575.01" x2="341.00" y2="572.03" stroke="#1f4f8f" stroke-width="0.7"/>
<line x1="339.90" y1="572.03" x2="342.10" y2="572.03" stroke="#1f4f8f" stroke-width="0.7"/>
<circle cx="339.90" cy="576.80" r="0.55" fill="#1f4f8f" stroke="none" stroke-width="0" fill-opacity="0.6"/>
<circle cx="341.00" cy="575.01" r="0.55" fill="#1f4f8f" stroke="none" stroke-width="0" fill-opacity="0.6"/>
<circle cx="342.10" cy="573.22" r="0.55" fill="#1f4f8f" stroke="none" stroke-width="0" fill-opacity="0.6"/>
<line x1="192.20" y1="591.10" x2="345.30" y2="591.10" stroke="#333333" stroke-width="1.1"/>
<line x1="207.60" y1="591.10" x2="207.60" y2="594.10" stroke="#333333" stroke-width="0.9"/>
<line x1="238.30" y1="591.10" x2="238.30" y2="594.10" stroke="#333333" stroke-width="0.9"/>
<line x1="269.00" y1="591.10" x2="269.00" y2="594.10" stroke="#333333" stroke-width="0.9"/>
<line x1="300.00" y1="591.10" x2="300.00" y2="594.10" stroke="#333333" stroke-width="0.9"/>
<line x1="331.00" y1="591.10" x2="331.00" y2="594.10" stroke="#333333" stroke-width="0.9"/>
<text x="184.50" y="525.00" font-size="6.6" fill="#333333" text-anchor="middle">%</text>
<text x="269.20" y="524.10" font-size="8.3" fill="#333333" text-anchor="middle" textLength="48.8" lengthAdjust="spacingAndGlyphs">Bone marrow</text>
<text x="207.60" y="604.00" font-size="6.6" fill="#333333" text-anchor="middle">I</text>
<text x="238.30" y="604.00" font-size="6.6" fill="#333333" text-anchor="middle">II</text>
<text x="269.00" y="604.00" font-size="6.6" fill="#333333" text-anchor="middle">III</text>
<text x="300.00" y="604.00" font-size="6.6" fill="#333333" text-anchor="middle">IV</text>
<text x="331.00" y="604.00" font-size="6.6" fill="#333333" text-anchor="middle">V</text>
<circle cx="268.69" cy="561.60" r="0.80" fill="#cc1236"/><circle cx="271.23" cy="561.60" r="0.80" fill="#cc1236"/><circle cx="273.77" cy="561.60" r="0.80" fill="#cc1236"/><circle cx="276.31" cy="561.60" r="0.80" fill="#cc1236"/>
<circle cx="275.59" cy="566.80" r="0.80" fill="#34476b"/><circle cx="278.13" cy="566.80" r="0.80" fill="#34476b"/><circle cx="280.67" cy="566.80" r="0.80" fill="#34476b"/><circle cx="283.21" cy="566.80" r="0.80" fill="#34476b"/>
<circle cx="299.69" cy="561.30" r="0.80" fill="#cc1236"/><circle cx="302.23" cy="561.30" r="0.80" fill="#cc1236"/><circle cx="304.77" cy="561.30" r="0.80" fill="#cc1236"/><circle cx="307.31" cy="561.30" r="0.80" fill="#cc1236"/>
<circle cx="306.49" cy="566.60" r="0.80" fill="#34476b"/><circle cx="309.03" cy="566.60" r="0.80" fill="#34476b"/><circle cx="311.57" cy="566.60" r="0.80" fill="#34476b"/><circle cx="314.11" cy="566.60" r="0.80" fill="#34476b"/>
<circle cx="334.50" cy="561.30" r="0.80" fill="#cc1236"/>
<rect x="348.40" y="541.20" width="5.80" height="5.80" fill="#a6d39a"/>
<text x="357.10" y="546.60" font-size="6.9" fill="#4aa85a" font-style="italic">WT</text>
<rect x="348.40" y="551.10" width="5.80" height="5.80" fill="#ad8663"/>
<text x="357.10" y="556.50" font-size="6.9" fill="#6e5a48" font-style="italic">Dm<tspan font-size="3.8" dy="-2.6">Δ/Δ</tspan></text>
<rect x="348.40" y="561.30" width="5.80" height="5.80" fill="#e58a88"/>
<text x="357.10" y="566.70" font-size="6.9" fill="#d0404f" font-style="italic">VF</text>
<rect x="348.40" y="571.40" width="5.80" height="5.80" fill="#7189b5"/>
<text x="357.10" y="576.80" font-size="6.9" fill="#46598a" font-style="italic">VF;Dm<tspan font-size="3.8" dy="-2.6">Δ/Δ</tspan></text>
<line x1="192.50" y1="627.00" x2="192.50" y2="688.00" stroke="#333333" stroke-width="1.1"/>
<line x1="189.70" y1="687.50" x2="192.50" y2="687.50" stroke="#333333" stroke-width="0.9"/>
<text x="186.30" y="689.80" font-size="6.6" fill="#333333" text-anchor="end">0</text>
<line x1="189.70" y1="672.80" x2="192.50" y2="672.80" stroke="#333333" stroke-width="0.9"/>
<text x="186.30" y="675.10" font-size="6.6" fill="#333333" text-anchor="end">10</text>
<line x1="189.70" y1="658.10" x2="192.50" y2="658.10" stroke="#333333" stroke-width="0.9"/>
<text x="186.30" y="660.40" font-size="6.6" fill="#333333" text-anchor="end">20</text>
<line x1="189.70" y1="643.40" x2="192.50" y2="643.40" stroke="#333333" stroke-width="0.9"/>
<text x="186.30" y="645.70" font-size="6.6" fill="#333333" text-anchor="end">30</text>
<line x1="189.70" y1="628.70" x2="192.50" y2="628.70" stroke="#333333" stroke-width="0.9"/>
<text x="186.30" y="631.00" font-size="6.6" fill="#333333" text-anchor="end">40</text>
<line x1="190.90" y1="680.15" x2="192.50" y2="680.15" stroke="#333333" stroke-width="0.7"/>
<line x1="190.90" y1="665.45" x2="192.50" y2="665.45" stroke="#333333" stroke-width="0.7"/>
<line x1="190.90" y1="650.75" x2="192.50" y2="650.75" stroke="#333333" stroke-width="0.7"/>
<line x1="190.90" y1="636.05" x2="192.50" y2="636.05" stroke="#333333" stroke-width="0.7"/>
<rect x="195.20" y="687.21" width="4.20" height="0.29" fill="#a6d39a"/>
<rect x="201.70" y="687.21" width="4.20" height="0.29" fill="#ad8663"/>
<rect x="208.10" y="685.29" width="4.20" height="2.20" fill="#e58a88"/>
<line x1="210.20" y1="685.29" x2="210.20" y2="684.56" stroke="#cc1236" stroke-width="0.7"/>
<line x1="209.10" y1="684.56" x2="211.30" y2="684.56" stroke="#cc1236" stroke-width="0.7"/>
<rect x="214.60" y="686.76" width="4.20" height="0.73" fill="#7189b5"/>
<line x1="216.70" y1="686.76" x2="216.70" y2="686.47" stroke="#1f4f8f" stroke-width="0.7"/>
<line x1="215.60" y1="686.47" x2="217.80" y2="686.47" stroke="#1f4f8f" stroke-width="0.7"/>
<rect x="225.40" y="686.76" width="4.20" height="0.73" fill="#a6d39a"/>
<line x1="227.50" y1="686.76" x2="227.50" y2="686.32" stroke="#3ea244" stroke-width="0.7"/>
<line x1="226.40" y1="686.32" x2="228.60" y2="686.32" stroke="#3ea244" stroke-width="0.7"/>
<rect x="231.90" y="686.03" width="4.20" height="1.47" fill="#ad8663"/>
<line x1="234.00" y1="686.03" x2="234.00" y2="685.59" stroke="#82511f" stroke-width="0.7"/>
<line x1="232.90" y1="685.59" x2="235.10" y2="685.59" stroke="#82511f" stroke-width="0.7"/>
<rect x="238.30" y="684.56" width="4.20" height="2.94" fill="#e58a88"/>
<line x1="240.40" y1="684.56" x2="240.40" y2="683.83" stroke="#cc1236" stroke-width="0.7"/>
<line x1="239.30" y1="683.83" x2="241.50" y2="683.83" stroke="#cc1236" stroke-width="0.7"/>
<rect x="244.80" y="683.09" width="4.20" height="4.41" fill="#7189b5"/>
<line x1="246.90" y1="683.09" x2="246.90" y2="682.36" stroke="#1f4f8f" stroke-width="0.7"/>
<line x1="245.80" y1="682.36" x2="248.00" y2="682.36" stroke="#1f4f8f" stroke-width="0.7"/>
<circle cx="245.80" cy="683.53" r="0.55" fill="#1f4f8f" stroke="none" stroke-width="0" fill-opacity="0.6"/>
<circle cx="246.90" cy="683.09" r="0.55" fill="#1f4f8f" stroke="none" stroke-width="0" fill-opacity="0.6"/>
<circle cx="248.00" cy="682.65" r="0.55" fill="#1f4f8f" stroke="none" stroke-width="0" fill-opacity="0.6"/>
<rect x="255.50" y="677.21" width="4.20" height="10.29" fill="#a6d39a"/>
<line x1="257.60" y1="677.21" x2="257.60" y2="675.00" stroke="#3ea244" stroke-width="0.7"/>
<line x1="256.50" y1="675.00" x2="258.70" y2="675.00" stroke="#3ea244" stroke-width="0.7"/>
<circle cx="256.50" cy="678.53" r="0.55" fill="#3ea244" stroke="none" stroke-width="0" fill-opacity="0.6"/>
<circle cx="257.60" cy="677.21" r="0.55" fill="#3ea244" stroke="none" stroke-width="0" fill-opacity="0.6"/>
<circle cx="258.70" cy="675.89" r="0.55" fill="#3ea244" stroke="none" stroke-width="0" fill-opacity="0.6"/>
<rect x="262.00" y="675.74" width="4.20" height="11.76" fill="#ad8663"/>
<line x1="264.10" y1="675.74" x2="264.10" y2="674.27" stroke="#82511f" stroke-width="0.7"/>
<line x1="263.00" y1="674.27" x2="265.20" y2="674.27" stroke="#82511f" stroke-width="0.7"/>
<circle cx="263.00" cy="676.62" r="0.55" fill="#82511f" stroke="none" stroke-width="0" fill-opacity="0.6"/>
<circle cx="264.10" cy="675.74" r="0.55" fill="#82511f" stroke="none" stroke-width="0" fill-opacity="0.6"/>
<circle cx="265.20" cy="674.86" r="0.55" fill="#82511f" stroke="none" stroke-width="0" fill-opacity="0.6"/>
<rect x="268.40" y="662.51" width="4.20" height="24.99" fill="#e58a88"/>
<line x1="270.50" y1="662.51" x2="270.50" y2="656.63" stroke="#cc1236" stroke-width="0.7"/>
<line x1="269.40" y1="656.63" x2="271.60" y2="656.63" stroke="#cc1236" stroke-width="0.7"/>
<circle cx="269.40" cy="666.04" r="0.55" fill="#cc1236" stroke="none" stroke-width="0" fill-opacity="0.6"/>
<circle cx="270.50" cy="662.51" r="0.55" fill="#cc1236" stroke="none" stroke-width="0" fill-opacity="0.6"/>
<circle cx="271.60" cy="658.98" r="0.55" fill="#cc1236" stroke="none" stroke-width="0" fill-opacity="0.6"/>
<rect x="274.90" y="665.45" width="4.20" height="22.05" fill="#7189b5"/>
<line x1="277.00" y1="665.45" x2="277.00" y2="661.77" stroke="#1f4f8f" stroke-width="0.7"/>
<line x1="275.90" y1="661.77" x2="278.10" y2="661.77" stroke="#1f4f8f" stroke-width="0.7"/>
<circle cx="275.90" cy="667.65" r="0.55" fill="#1f4f8f" stroke="none" stroke-width="0" fill-opacity="0.6"/>
<circle cx="277.00" cy="665.45" r="0.55" fill="#1f4f8f" stroke="none" stroke-width="0" fill-opacity="0.6"/>
<circle cx="278.10" cy="663.25" r="0.55" fill="#1f4f8f" stroke="none" stroke-width="0" fill-opacity="0.6"/>
<rect x="285.70" y="669.12" width="4.20" height="18.37" fill="#a6d39a"/>
<line x1="287.80" y1="669.12" x2="287.80" y2="666.92" stroke="#3ea244" stroke-width="0.7"/>
<line x1="286.70" y1="666.92" x2="288.90" y2="666.92" stroke="#3ea244" stroke-width="0.7"/>
<circle cx="286.70" cy="670.45" r="0.55" fill="#3ea244" stroke="none" stroke-width="0" fill-opacity="0.6"/>
<circle cx="287.80" cy="669.12" r="0.55" fill="#3ea244" stroke="none" stroke-width="0" fill-opacity="0.6"/>
<circle cx="288.90" cy="667.80" r="0.55" fill="#3ea244" stroke="none" stroke-width="0" fill-opacity="0.6"/>
<rect x="292.20" y="671.33" width="4.20" height="16.17" fill="#ad8663"/>
<line x1="294.30" y1="671.33" x2="294.30" y2="669.12" stroke="#82511f" stroke-width="0.7"/>
<line x1="293.20" y1="669.12" x2="295.40" y2="669.12" stroke="#82511f" stroke-width="0.7"/>
<circle cx="293.20" cy="672.65" r="0.55" fill="#82511f" stroke="none" stroke-width="0" fill-opacity="0.6"/>
<circle cx="294.30" cy="671.33" r="0.55" fill="#82511f" stroke="none" stroke-width="0" fill-opacity="0.6"/>
<circle cx="295.40" cy="670.01" r="0.55" fill="#82511f" stroke="none" stroke-width="0" fill-opacity="0.6"/>
<rect x="298.60" y="661.77" width="4.20" height="25.72" fill="#e58a88"/>
<line x1="300.70" y1="661.77" x2="300.70" y2="658.84" stroke="#cc1236" stroke-width="0.7"/>
<line x1="299.60" y1="658.84" x2="301.80" y2="658.84" stroke="#cc1236" stroke-width="0.7"/>
<circle cx="299.60" cy="663.54" r="0.55" fill="#cc1236" stroke="none" stroke-width="0" fill-opacity="0.6"/>
<circle cx="300.70" cy="661.77" r="0.55" fill="#cc1236" stroke="none" stroke-width="0" fill-opacity="0.6"/>
<circle cx="301.80" cy="660.01" r="0.55" fill="#cc1236" stroke="none" stroke-width="0" fill-opacity="0.6"/>
<rect x="305.10" y="661.04" width="4.20" height="26.46" fill="#7189b5"/>
<line x1="307.20" y1="661.04" x2="307.20" y2="660.31" stroke="#1f4f8f" stroke-width="0.7"/>
<line x1="306.10" y1="660.31" x2="308.30" y2="660.31" stroke="#1f4f8f" stroke-width="0.7"/>
<circle cx="306.10" cy="661.48" r="0.55" fill="#1f4f8f" stroke="none" stroke-width="0" fill-opacity="0.6"/>
<circle cx="307.20" cy="661.04" r="0.55" fill="#1f4f8f" stroke="none" stroke-width="0" fill-opacity="0.6"/>
<circle cx="308.30" cy="660.60" r="0.55" fill="#1f4f8f" stroke="none" stroke-width="0" fill-opacity="0.6"/>
<rect x="315.80" y="658.10" width="4.20" height="29.40" fill="#a6d39a"/>
<line x1="317.90" y1="658.10" x2="317.90" y2="656.63" stroke="#3ea244" stroke-width="0.7"/>
<line x1="316.80" y1="656.63" x2="319.00" y2="656.63" stroke="#3ea244" stroke-width="0.7"/>
<circle cx="316.80" cy="658.98" r="0.55" fill="#3ea244" stroke="none" stroke-width="0" fill-opacity="0.6"/>
<circle cx="317.90" cy="658.10" r="0.55" fill="#3ea244" stroke="none" stroke-width="0" fill-opacity="0.6"/>
<circle cx="319.00" cy="657.22" r="0.55" fill="#3ea244" stroke="none" stroke-width="0" fill-opacity="0.6"/>
<rect x="322.30" y="656.63" width="4.20" height="30.87" fill="#ad8663"/>
<line x1="324.40" y1="656.63" x2="324.40" y2="652.96" stroke="#82511f" stroke-width="0.7"/>
<line x1="323.30" y1="652.96" x2="325.50" y2="652.96" stroke="#82511f" stroke-width="0.7"/>
<circle cx="323.30" cy="658.84" r="0.55" fill="#82511f" stroke="none" stroke-width="0" fill-opacity="0.6"/>
<circle cx="324.40" cy="656.63" r="0.55" fill="#82511f" stroke="none" stroke-width="0" fill-opacity="0.6"/>
<circle cx="325.50" cy="654.43" r="0.55" fill="#82511f" stroke="none" stroke-width="0" fill-opacity="0.6"/>
<rect x="328.70" y="655.16" width="4.20" height="32.34" fill="#e58a88"/>
<line x1="330.80" y1="655.16" x2="330.80" y2="648.55" stroke="#cc1236" stroke-width="0.7"/>
<line x1="329.70" y1="648.55" x2="331.90" y2="648.55" stroke="#cc1236" stroke-width="0.7"/>
<circle cx="329.70" cy="659.13" r="0.55" fill="#cc1236" stroke="none" stroke-width="0" fill-opacity="0.6"/>
<circle cx="330.80" cy="655.16" r="0.55" fill="#cc1236" stroke="none" stroke-width="0" fill-opacity="0.6"/>
<circle cx="331.90" cy="651.19" r="0.55" fill="#cc1236" stroke="none" stroke-width="0" fill-opacity="0.6"/>
<rect x="335.20" y="644.13" width="4.20" height="43.36" fill="#7189b5"/>
<line x1="337.30" y1="644.13" x2="337.30" y2="639.73" stroke="#1f4f8f" stroke-width="0.7"/>
<line x1="336.20" y1="639.73" x2="338.40" y2="639.73" stroke="#1f4f8f" stroke-width="0.7"/>
<circle cx="336.20" cy="646.78" r="0.55" fill="#1f4f8f" stroke="none" stroke-width="0" fill-opacity="0.6"/>
<circle cx="337.30" cy="644.13" r="0.55" fill="#1f4f8f" stroke="none" stroke-width="0" fill-opacity="0.6"/>
<circle cx="338.40" cy="641.49" r="0.55" fill="#1f4f8f" stroke="none" stroke-width="0" fill-opacity="0.6"/>
<line x1="192.00" y1="687.50" x2="341.50" y2="687.50" stroke="#333333" stroke-width="1.1"/>
<line x1="207.00" y1="687.50" x2="207.00" y2="690.50" stroke="#333333" stroke-width="0.9"/>
<line x1="237.20" y1="687.50" x2="237.20" y2="690.50" stroke="#333333" stroke-width="0.9"/>
<line x1="267.30" y1="687.50" x2="267.30" y2="690.50" stroke="#333333" stroke-width="0.9"/>
<line x1="297.50" y1="687.50" x2="297.50" y2="690.50" stroke="#333333" stroke-width="0.9"/>
<line x1="327.60" y1="687.50" x2="327.60" y2="690.50" stroke="#333333" stroke-width="0.9"/>
<text x="184.50" y="621.30" font-size="6.6" fill="#333333" text-anchor="middle">%</text>
<text x="267.10" y="620.70" font-size="8.6" fill="#333333" text-anchor="middle" textLength="26.6" lengthAdjust="spacingAndGlyphs">Spleen</text>
<text x="207.00" y="699.00" font-size="6.6" fill="#333333" text-anchor="middle">I</text>
<text x="237.20" y="699.00" font-size="6.6" fill="#333333" text-anchor="middle">II</text>
<text x="267.30" y="699.00" font-size="6.6" fill="#333333" text-anchor="middle">III</text>
<text x="297.50" y="699.00" font-size="6.6" fill="#333333" text-anchor="middle">IV</text>
<text x="327.60" y="699.00" font-size="6.6" fill="#333333" text-anchor="middle">V</text>
<text x="267.40" y="711.00" font-size="8.4" fill="#333333" text-anchor="middle" textLength="60" lengthAdjust="spacingAndGlyphs">Stage of maturation</text>
<circle cx="266.69" cy="652.50" r="0.80" fill="#cc1236"/><circle cx="269.23" cy="652.50" r="0.80" fill="#cc1236"/><circle cx="271.77" cy="652.50" r="0.80" fill="#cc1236"/><circle cx="274.31" cy="652.50" r="0.80" fill="#cc1236"/>
<circle cx="275.73" cy="656.30" r="0.80" fill="#34476b"/><circle cx="278.27" cy="656.30" r="0.80" fill="#34476b"/>
<circle cx="334.46" cy="635.80" r="0.80" fill="#34476b"/><circle cx="337.00" cy="635.80" r="0.80" fill="#34476b"/><circle cx="339.54" cy="635.80" r="0.80" fill="#34476b"/>
<text transform="translate(399.40 498.20) scale(1.2 1)" x="0" y="0" font-size="11" font-weight="bold" fill="#111">I</text>
<text x="446.30" y="497.80" font-size="8.9" fill="#333333" text-anchor="middle">Myelofibrosis</text>
<text x="446.30" y="508.20" font-size="8.9" fill="#333333" text-anchor="middle">(grade 0-3)</text>
<text x="416.30" y="522.00" font-size="6.8" fill="#333333" font-style="italic" textLength="70" lengthAdjust="spacingAndGlyphs"><tspan fill="#3ea244">WT</tspan> <tspan fill="#82511f">Dm<tspan font-size="3.8" dy="-2.5">Δ/Δ</tspan></tspan><tspan dy="2.5" fill="#cc1236"> VF</tspan> <tspan fill="#1f4f8f">VF;Dm<tspan font-size="3.8" dy="-2.5">Δ/Δ</tspan></tspan></text>
<line x1="416.60" y1="529.50" x2="416.60" y2="591.70" stroke="#333333" stroke-width="1.1"/>
<line x1="413.80" y1="591.20" x2="416.60" y2="591.20" stroke="#333333" stroke-width="0.9"/>
<text x="411.60" y="593.50" font-size="6.6" fill="#333333" text-anchor="end">0</text>
<line x1="413.80" y1="571.13" x2="416.60" y2="571.13" stroke="#333333" stroke-width="0.9"/>
<text x="411.60" y="573.43" font-size="6.6" fill="#333333" text-anchor="end">1</text>
<line x1="413.80" y1="551.07" x2="416.60" y2="551.07" stroke="#333333" stroke-width="0.9"/>
<text x="411.60" y="553.37" font-size="6.6" fill="#333333" text-anchor="end">2</text>
<line x1="413.80" y1="531.00" x2="416.60" y2="531.00" stroke="#333333" stroke-width="0.9"/>
<text x="411.60" y="533.30" font-size="6.6" fill="#333333" text-anchor="end">3</text>
<line x1="416.10" y1="591.20" x2="476.20" y2="591.20" stroke="#333333" stroke-width="1.2"/>
<rect x="420.7" y="589.30" width="9.5" height="3.8" rx="1.9" fill="#3ea244"/>
<rect x="434.9" y="589.30" width="9.4" height="3.8" rx="1.9" fill="#82511f"/>
<circle cx="450.50" cy="571.13" r="1.75" fill="none" stroke="#cc1236" stroke-width="1.1"/>
<circle cx="452.50" cy="571.13" r="1.75" fill="none" stroke="#cc1236" stroke-width="1.1"/>
<circle cx="454.50" cy="571.13" r="1.75" fill="none" stroke="#cc1236" stroke-width="1.1"/>
<circle cx="456.50" cy="571.13" r="1.75" fill="none" stroke="#cc1236" stroke-width="1.1"/>
<circle cx="453.50" cy="551.07" r="1.75" fill="none" stroke="#cc1236" stroke-width="1.1"/>
<rect x="449.2" y="569.33" width="8.6" height="3.6" rx="1.8" fill="#cc1236"/>
<circle cx="451.30" cy="571.13" r="0.7" fill="white" stroke="none" stroke-width="0"/>
<circle cx="453.50" cy="571.13" r="0.7" fill="white" stroke="none" stroke-width="0"/>
<circle cx="455.70" cy="571.13" r="0.7" fill="white" stroke="none" stroke-width="0"/>
<line x1="449.00" y1="567.12" x2="458.00" y2="567.12" stroke="#cc1236" stroke-width="1.2"/>
<line x1="453.50" y1="571.13" x2="453.50" y2="563.11" stroke="#cc1236" stroke-width="0.8"/>
<line x1="451.70" y1="571.13" x2="455.30" y2="571.13" stroke="#cc1236" stroke-width="0.8"/>
<line x1="451.70" y1="563.11" x2="455.30" y2="563.11" stroke="#cc1236" stroke-width="0.8"/>
<circle cx="464.50" cy="571.13" r="1.75" fill="none" stroke="#1f4f8f" stroke-width="1.1"/>
<circle cx="464.50" cy="591.20" r="1.75" fill="none" stroke="#1f4f8f" stroke-width="1.1"/>
<circle cx="470.30" cy="571.13" r="1.75" fill="none" stroke="#1f4f8f" stroke-width="1.1"/>
<circle cx="470.30" cy="591.20" r="1.75" fill="none" stroke="#1f4f8f" stroke-width="1.1"/>
<line x1="462.80" y1="581.17" x2="472.00" y2="581.17" stroke="#1f4f8f" stroke-width="1.2"/>
<line x1="467.40" y1="586.79" x2="467.40" y2="575.55" stroke="#1f4f8f" stroke-width="0.8"/>
<line x1="465.60" y1="586.79" x2="469.20" y2="586.79" stroke="#1f4f8f" stroke-width="0.8"/>
<line x1="465.60" y1="575.55" x2="469.20" y2="575.55" stroke="#1f4f8f" stroke-width="0.8"/>
<text x="430.20" y="610.00" font-size="7.6" fill="#3ea244" text-anchor="middle" font-style="italic">WT</text>
<text x="473.80" y="610.00" font-size="7.6" fill="#82511f" text-anchor="middle" font-style="italic">Dm<tspan font-size="4.2" dy="-2.9">Δ/Δ</tspan></text>
<text x="430.20" y="660.60" font-size="7.6" fill="#cc1236" text-anchor="middle" font-style="italic">VF</text>
<text x="473.80" y="660.60" font-size="7.6" fill="#1f4f8f" text-anchor="middle" font-style="italic">VF;Dm<tspan font-size="4.2" dy="-2.9">Δ/Δ</tspan></text>
<rect x="410.50" y="612.00" width="40.20" height="39.50" fill="#e39bcf"/>
<rect x="428.0" y="633.3" width="2.8" height="1.9" fill="#f6cde9"/><rect x="430.2" y="634.3" width="1.4" height="2.0" fill="#f6cde9"/><rect x="434.9" y="642.1" width="1.2" height="1.6" fill="#f6cde9"/><rect x="414.0" y="642.8" width="2.4" height="1.1" fill="#f6cde9"/><rect x="448.5" y="648.7" width="2.3" height="2.2" fill="#f6cde9"/><rect x="416.6" y="612.6" width="2.1" height="1.1" fill="#f6cde9"/><rect x="417.9" y="621.2" width="1.1" height="1.9" fill="#f6cde9"/><rect x="427.5" y="644.0" width="2.0" height="2.3" fill="#f6cde9"/><rect x="429.8" y="637.2" width="1.9" height="1.6" fill="#f6cde9"/><rect x="449.1" y="649.8" width="2.7" height="2.4" fill="#f6cde9"/><rect x="422.7" y="620.7" width="1.6" height="1.1" fill="#f6cde9"/><rect x="440.2" y="627.2" width="2.7" height="1.8" fill="#f6cde9"/><rect x="447.6" y="644.2" width="1.0" height="1.4" fill="#f6cde9"/><rect x="445.7" y="629.9" width="3.0" height="1.8" fill="#f6cde9"/><rect x="413.3" y="635.9" width="2.6" height="1.5" fill="#f6cde9"/><rect x="413.9" y="624.6" width="2.9" height="2.5" fill="#f6cde9"/><rect x="415.1" y="621.4" width="1.2" height="1.1" fill="#f6cde9"/><rect x="441.3" y="618.8" width="2.1" height="1.9" fill="#f6cde9"/><rect x="417.9" y="639.8" width="1.3" height="2.3" fill="#f6cde9"/><rect x="415.0" y="628.0" width="1.4" height="1.5" fill="#f6cde9"/><rect x="448.1" y="642.5" width="1.6" height="2.8" fill="#f6cde9"/><rect x="418.7" y="627.0" width="2.7" height="2.3" fill="#f6cde9"/><rect x="414.4" y="649.6" width="1.4" height="1.5" fill="#f6cde9"/><rect x="440.4" y="624.5" width="1.6" height="1.1" fill="#f6cde9"/><rect x="414.0" y="634.1" width="1.5" height="2.2" fill="#f6cde9"/><rect x="424.9" y="629.2" width="2.9" height="2.0" fill="#f6cde9"/><rect x="432.7" y="644.9" width="1.4" height="1.3" fill="#f6cde9"/><rect x="445.7" y="643.1" width="1.5" height="1.4" fill="#f6cde9"/><rect x="439.1" y="647.7" width="1.4" height="2.9" fill="#f6cde9"/><rect x="444.6" y="634.9" width="1.8" height="1.2" fill="#f6cde9"/><rect x="412.0" y="648.6" width="1.5" height="2.4" fill="#f6cde9"/><rect x="420.4" y="643.3" width="2.2" height="1.6" fill="#f6cde9"/><rect x="417.3" y="639.4" width="1.1" height="1.5" fill="#f6cde9"/><rect x="432.1" y="644.4" width="2.2" height="1.6" fill="#f6cde9"/><rect x="446.0" y="619.8" width="1.0" height="1.5" fill="#f6cde9"/><rect x="427.7" y="614.3" width="1.4" height="1.7" fill="#f6cde9"/><rect x="432.6" y="617.0" width="1.7" height="2.8" fill="#f6cde9"/><rect x="448.4" y="637.0" width="2.4" height="2.2" fill="#f6cde9"/><rect x="415.9" y="613.3" width="1.0" height="2.8" fill="#f6cde9"/><rect x="437.6" y="648.6" width="1.0" height="2.3" fill="#f6cde9"/><rect x="429.2" y="639.8" width="1.6" height="3.0" fill="#f6cde9"/><rect x="413.4" y="632.8" width="2.5" height="2.8" fill="#f6cde9"/><rect x="439.0" y="638.7" width="2.6" height="2.8" fill="#f6cde9"/><rect x="424.1" y="638.0" width="2.8" height="2.7" fill="#f6cde9"/><rect x="426.6" y="642.0" width="2.7" height="2.1" fill="#f6cde9"/><rect x="434.7" y="626.5" width="2.2" height="2.2" fill="#f6cde9"/><rect x="413.6" y="636.3" width="3.0" height="2.8" fill="#f6cde9"/><rect x="438.7" y="626.8" width="2.5" height="2.2" fill="#f6cde9"/><rect x="427.5" y="643.9" width="1.2" height="2.5" fill="#f6cde9"/><rect x="411.7" y="634.8" width="2.0" height="1.5" fill="#f6cde9"/><rect x="437.5" y="630.9" width="2.2" height="2.8" fill="#f6cde9"/><rect x="420.4" y="612.4" width="1.6" height="2.4" fill="#f6cde9"/><rect x="418.3" y="618.4" width="2.8" height="2.3" fill="#f6cde9"/><rect x="427.6" y="645.9" width="1.7" height="2.3" fill="#f6cde9"/><rect x="418.2" y="628.4" width="2.6" height="2.8" fill="#f6cde9"/><rect x="444.6" y="626.6" width="2.2" height="1.6" fill="#f6cde9"/><rect x="415.8" y="630.9" width="2.7" height="2.7" fill="#f6cde9"/><rect x="438.0" y="648.1" width="1.6" height="1.3" fill="#f6cde9"/><rect x="427.9" y="622.5" width="1.4" height="1.8" fill="#f6cde9"/><rect x="434.7" y="630.8" width="1.6" height="2.7" fill="#f6cde9"/><rect x="448.5" y="629.2" width="1.1" height="1.1" fill="#f6cde9"/><rect x="444.3" y="613.6" width="2.4" height="2.1" fill="#f6cde9"/><rect x="422.5" y="642.1" width="1.0" height="1.3" fill="#f6cde9"/><rect x="428.1" y="612.9" width="2.7" height="1.5" fill="#f6cde9"/><rect x="416.0" y="613.8" width="2.3" height="1.9" fill="#f6cde9"/><rect x="434.9" y="636.9" width="2.6" height="2.9" fill="#f6cde9"/><rect x="437.0" y="619.6" width="2.0" height="1.4" fill="#f6cde9"/><rect x="410.9" y="629.9" width="2.4" height="1.4" fill="#f6cde9"/><rect x="421.0" y="625.1" width="2.4" height="2.0" fill="#f6cde9"/><rect x="434.3" y="640.7" width="1.8" height="2.6" fill="#f6cde9"/><rect x="445.6" y="615.3" width="2.9" height="2.4" fill="#f6cde9"/><rect x="415.5" y="629.2" width="2.3" height="2.8" fill="#f6cde9"/><rect x="425.1" y="633.6" width="2.8" height="2.6" fill="#f6cde9"/><rect x="447.0" y="629.6" width="2.3" height="1.4" fill="#f6cde9"/><rect x="438.4" y="643.1" width="2.3" height="2.4" fill="#f6cde9"/><rect x="418.8" y="646.2" width="3.0" height="3.0" fill="#f6cde9"/><rect x="431.3" y="642.0" width="1.6" height="2.8" fill="#f6cde9"/><rect x="443.6" y="625.2" width="1.2" height="1.9" fill="#f6cde9"/><rect x="431.8" y="641.2" width="2.0" height="1.1" fill="#f6cde9"/><rect x="441.8" y="614.4" width="2.6" height="1.3" fill="#f6cde9"/><rect x="423.5" y="641.9" width="1.3" height="1.3" fill="#f6cde9"/><rect x="430.5" y="639.5" width="2.7" height="2.4" fill="#f6cde9"/><rect x="447.1" y="630.7" width="2.9" height="1.2" fill="#f6cde9"/><rect x="419.1" y="632.0" width="1.6" height="2.5" fill="#f6cde9"/><rect x="435.2" y="631.9" width="2.7" height="2.1" fill="#f6cde9"/><rect x="422.6" y="626.5" width="2.7" height="2.8" fill="#f6cde9"/><rect x="418.6" y="644.3" width="2.9" height="2.0" fill="#f6cde9"/><rect x="432.7" y="619.6" width="2.1" height="2.0" fill="#f6cde9"/><rect x="433.9" y="613.1" width="2.9" height="2.0" fill="#f6cde9"/><rect x="426.0" y="642.4" width="2.1" height="2.0" fill="#f6cde9"/><rect x="437.2" y="614.5" width="2.1" height="1.8" fill="#f6cde9"/><rect x="447.5" y="647.1" width="1.5" height="1.9" fill="#f6cde9"/><rect x="415.4" y="628.5" width="2.6" height="2.8" fill="#f6cde9"/><rect x="428.9" y="624.1" width="1.4" height="2.2" fill="#f6cde9"/><rect x="446.3" y="616.9" width="2.6" height="1.0" fill="#f6cde9"/><rect x="418.0" y="620.6" width="2.4" height="1.6" fill="#f6cde9"/><rect x="424.3" y="635.6" width="1.2" height="2.5" fill="#f6cde9"/><rect x="415.3" y="631.4" width="1.5" height="1.4" fill="#f6cde9"/><rect x="431.0" y="628.6" width="1.8" height="1.8" fill="#f6cde9"/><rect x="431.0" y="618.1" width="1.4" height="2.3" fill="#f6cde9"/><rect x="435.2" y="632.1" width="2.7" height="2.2" fill="#f6cde9"/><rect x="443.7" y="620.8" width="2.5" height="2.6" fill="#f6cde9"/><rect x="445.4" y="624.0" width="1.6" height="2.8" fill="#f6cde9"/><rect x="418.9" y="649.9" width="2.8" height="1.3" fill="#f6cde9"/><rect x="419.8" y="639.6" width="1.5" height="1.2" fill="#f6cde9"/><rect x="442.7" y="628.0" width="2.6" height="1.3" fill="#f6cde9"/><rect x="426.1" y="638.0" width="1.0" height="1.4" fill="#f6cde9"/><rect x="436.9" y="646.6" width="2.9" height="1.2" fill="#f6cde9"/><rect x="430.1" y="640.8" width="2.0" height="2.4" fill="#f6cde9"/><rect x="417.8" y="614.7" width="1.2" height="1.1" fill="#f6cde9"/><rect x="431.8" y="631.6" width="2.1" height="1.3" fill="#f6cde9"/><rect x="417.6" y="619.7" width="2.7" height="3.0" fill="#f6cde9"/><rect x="446.4" y="615.6" width="1.1" height="2.9" fill="#f6cde9"/><rect x="428.4" y="641.1" width="1.7" height="1.9" fill="#f6cde9"/><rect x="430.4" y="628.3" width="2.2" height="1.0" fill="#f6cde9"/><rect x="437.6" y="644.1" width="1.4" height="1.9" fill="#f6cde9"/><rect x="439.1" y="627.4" width="1.4" height="1.3" fill="#f6cde9"/><rect x="430.3" y="612.6" width="2.8" height="2.6" fill="#f6cde9"/><rect x="437.8" y="644.7" width="2.3" height="1.8" fill="#f6cde9"/><rect x="433.7" y="631.2" width="3.0" height="2.6" fill="#f6cde9"/><rect x="420.5" y="646.6" width="2.5" height="2.6" fill="#f6cde9"/><rect x="442.0" y="627.4" width="2.8" height="2.8" fill="#f6cde9"/><rect x="437.4" y="641.2" width="2.5" height="1.8" fill="#f6cde9"/><rect x="438.5" y="614.7" width="1.7" height="1.9" fill="#f6cde9"/><rect x="410.9" y="625.5" width="2.3" height="2.2" fill="#f6cde9"/><rect x="419.5" y="647.9" width="2.3" height="1.7" fill="#f6cde9"/><rect x="436.0" y="633.6" width="2.1" height="1.8" fill="#f6cde9"/><rect x="449.2" y="636.4" width="2.4" height="2.5" fill="#f6cde9"/><rect x="448.4" y="612.9" width="2.2" height="2.5" fill="#f6cde9"/><rect x="420.4" y="627.3" width="1.1" height="1.4" fill="#f6cde9"/><rect x="425.0" y="615.7" width="1.5" height="2.8" fill="#f6cde9"/><rect x="431.8" y="631.3" width="2.9" height="2.1" fill="#f6cde9"/><rect x="449.0" y="636.2" width="2.6" height="1.2" fill="#f6cde9"/><rect x="433.6" y="640.9" width="1.1" height="2.9" fill="#f6cde9"/><rect x="416.7" y="629.9" width="1.3" height="2.0" fill="#f6cde9"/><rect x="434.2" y="614.2" width="2.9" height="1.8" fill="#f6cde9"/><rect x="430.9" y="634.7" width="1.7" height="1.6" fill="#f6cde9"/><rect x="435.9" y="633.3" width="1.6" height="2.4" fill="#f6cde9"/><rect x="422.0" y="612.5" width="1.5" height="1.1" fill="#f6cde9"/><rect x="416.6" y="640.7" width="1.8" height="2.8" fill="#f6cde9"/><rect x="439.5" y="613.9" width="3.0" height="2.9" fill="#f6cde9"/><rect x="413.3" y="646.4" width="1.9" height="2.0" fill="#f6cde9"/><rect x="448.2" y="621.3" width="2.0" height="2.9" fill="#f6cde9"/><rect x="438.5" y="629.8" width="3.0" height="2.6" fill="#f6cde9"/><rect x="433.9" y="616.4" width="2.2" height="1.9" fill="#f6cde9"/><rect x="418.4" y="614.0" width="2.1" height="1.2" fill="#f6cde9"/><rect x="427.6" y="637.4" width="1.9" height="1.5" fill="#f6cde9"/><rect x="433.0" y="627.9" width="2.6" height="2.1" fill="#f6cde9"/><rect x="449.1" y="648.2" width="2.5" height="1.5" fill="#f6cde9"/><rect x="414.9" y="645.9" width="2.6" height="2.2" fill="#f6cde9"/><rect x="424.4" y="622.3" width="2.4" height="2.1" fill="#f6cde9"/><rect x="433.4" y="636.1" width="2.5" height="1.4" fill="#f6cde9"/><rect x="420.1" y="649.2" width="2.8" height="2.8" fill="#f6cde9"/><rect x="412.0" y="614.3" width="1.5" height="1.9" fill="#f6cde9"/><rect x="434.6" y="615.9" width="2.1" height="1.1" fill="#f6cde9"/><rect x="413.8" y="637.7" width="2.1" height="2.3" fill="#f6cde9"/><rect x="424.9" y="630.2" width="1.4" height="1.7" fill="#f6cde9"/><rect x="439.3" y="643.9" width="1.1" height="1.2" fill="#f6cde9"/><rect x="441.8" y="635.7" width="2.5" height="1.4" fill="#f6cde9"/><rect x="426.9" y="621.8" width="2.6" height="1.7" fill="#f6cde9"/><rect x="435.8" y="649.6" width="1.7" height="2.1" fill="#f6cde9"/><rect x="439.4" y="647.0" width="1.9" height="1.7" fill="#f6cde9"/><rect x="414.3" y="645.3" width="1.2" height="1.2" fill="#f6cde9"/><rect x="432.3" y="630.4" width="2.4" height="1.6" fill="#f6cde9"/><rect x="440.5" y="614.9" width="1.4" height="2.3" fill="#f6cde9"/><rect x="413.7" y="623.5" width="2.4" height="2.4" fill="#f6cde9"/><rect x="421.4" y="617.4" width="1.7" height="2.5" fill="#f6cde9"/><rect x="424.7" y="616.5" width="2.4" height="2.1" fill="#f6cde9"/><rect x="446.0" y="647.7" width="2.8" height="1.9" fill="#f6cde9"/><rect x="441.6" y="623.6" width="1.6" height="1.8" fill="#f6cde9"/><rect x="446.7" y="646.0" width="1.5" height="1.7" fill="#f6cde9"/><rect x="424.6" y="625.8" width="1.8" height="1.8" fill="#f6cde9"/><rect x="418.0" y="633.4" width="2.6" height="2.1" fill="#f6cde9"/><rect x="442.9" y="633.4" width="1.4" height="2.5" fill="#f6cde9"/><rect x="444.6" y="622.7" width="1.0" height="2.0" fill="#f6cde9"/><circle cx="432.3" cy="634.3" r="1.3" fill="#b25aa6"/><circle cx="436.5" cy="643.5" r="0.6" fill="#b25aa6"/><circle cx="432.4" cy="642.8" r="0.7" fill="#b25aa6"/><circle cx="414.2" cy="640.9" r="1.2" fill="#b25aa6"/><circle cx="414.3" cy="636.9" r="0.7" fill="#b25aa6"/><circle cx="440.2" cy="637.5" r="0.8" fill="#b25aa6"/><circle cx="419.6" cy="642.0" r="1.0" fill="#b25aa6"/><circle cx="441.0" cy="627.7" r="0.8" fill="#b25aa6"/><circle cx="449.0" cy="638.4" r="0.9" fill="#b25aa6"/><circle cx="432.1" cy="640.3" r="1.1" fill="#b25aa6"/><circle cx="446.9" cy="628.3" r="1.2" fill="#b25aa6"/><circle cx="437.1" cy="645.4" r="1.2" fill="#b25aa6"/><circle cx="443.7" cy="646.7" r="1.3" fill="#b25aa6"/><circle cx="436.1" cy="632.7" r="1.1" fill="#b25aa6"/><circle cx="442.4" cy="628.7" r="0.9" fill="#b25aa6"/><circle cx="416.7" cy="641.0" r="1.3" fill="#b25aa6"/><circle cx="425.7" cy="619.0" r="0.7" fill="#b25aa6"/><circle cx="427.7" cy="623.7" r="1.3" fill="#b25aa6"/><circle cx="413.3" cy="624.4" r="0.7" fill="#b25aa6"/><circle cx="436.4" cy="642.4" r="0.7" fill="#b25aa6"/><circle cx="413.4" cy="630.2" r="1.0" fill="#b25aa6"/><circle cx="446.6" cy="613.9" r="0.7" fill="#b25aa6"/><circle cx="418.2" cy="620.9" r="0.8" fill="#b25aa6"/><circle cx="439.1" cy="635.4" r="0.8" fill="#b25aa6"/><circle cx="418.3" cy="623.3" r="0.7" fill="#b25aa6"/><circle cx="440.7" cy="624.5" r="1.0" fill="#b25aa6"/><circle cx="443.0" cy="631.0" r="0.8" fill="#b25aa6"/><circle cx="445.8" cy="647.7" r="0.8" fill="#b25aa6"/><circle cx="432.5" cy="649.3" r="0.9" fill="#b25aa6"/><circle cx="419.7" cy="614.4" r="1.3" fill="#b25aa6"/><circle cx="442.4" cy="627.3" r="1.0" fill="#b25aa6"/><circle cx="431.2" cy="623.1" r="1.3" fill="#b25aa6"/><circle cx="436.8" cy="621.6" r="0.6" fill="#b25aa6"/><circle cx="429.5" cy="626.8" r="1.2" fill="#b25aa6"/><circle cx="439.0" cy="635.8" r="0.7" fill="#b25aa6"/><circle cx="417.2" cy="624.9" r="0.8" fill="#b25aa6"/><circle cx="445.1" cy="632.4" r="1.0" fill="#b25aa6"/><circle cx="449.9" cy="622.8" r="1.0" fill="#b25aa6"/><circle cx="416.9" cy="642.2" r="0.6" fill="#b25aa6"/><circle cx="443.2" cy="645.1" r="1.2" fill="#b25aa6"/><circle cx="414.2" cy="622.9" r="1.1" fill="#b25aa6"/><circle cx="414.8" cy="631.0" r="0.9" fill="#b25aa6"/><circle cx="448.5" cy="635.1" r="1.2" fill="#b25aa6"/><circle cx="422.9" cy="642.9" r="0.9" fill="#b25aa6"/><circle cx="446.9" cy="616.0" r="1.2" fill="#b25aa6"/><circle cx="419.2" cy="633.4" r="1.0" fill="#b25aa6"/><circle cx="417.2" cy="644.5" r="0.8" fill="#b25aa6"/><circle cx="423.2" cy="615.4" r="0.8" fill="#b25aa6"/><circle cx="429.3" cy="640.0" r="0.9" fill="#b25aa6"/><circle cx="437.9" cy="616.6" r="0.9" fill="#b25aa6"/><circle cx="429.1" cy="649.7" r="1.2" fill="#b25aa6"/><circle cx="436.6" cy="613.0" r="0.9" fill="#b25aa6"/><circle cx="438.8" cy="621.6" r="1.0" fill="#b25aa6"/><circle cx="429.0" cy="612.9" r="1.3" fill="#b25aa6"/><circle cx="442.3" cy="620.5" r="1.0" fill="#b25aa6"/><circle cx="422.4" cy="627.0" r="1.0" fill="#b25aa6"/><circle cx="422.7" cy="625.5" r="0.9" fill="#b25aa6"/><circle cx="437.1" cy="622.4" r="0.7" fill="#b25aa6"/><circle cx="439.7" cy="625.2" r="1.3" fill="#b25aa6"/><circle cx="433.1" cy="640.4" r="0.8" fill="#b25aa6"/><circle cx="443.4" cy="616.1" r="0.7" fill="#b25aa6"/><circle cx="414.7" cy="638.6" r="1.1" fill="#b25aa6"/><circle cx="418.1" cy="628.0" r="1.2" fill="#b25aa6"/><circle cx="434.2" cy="616.0" r="0.8" fill="#b25aa6"/><circle cx="417.2" cy="617.3" r="0.9" fill="#b25aa6"/><circle cx="413.8" cy="647.9" r="0.9" fill="#b25aa6"/><circle cx="431.1" cy="637.4" r="1.1" fill="#b25aa6"/><circle cx="443.2" cy="627.4" r="0.8" fill="#b25aa6"/><circle cx="427.2" cy="613.1" r="0.9" fill="#b25aa6"/><circle cx="438.4" cy="650.3" r="1.2" fill="#b25aa6"/><circle cx="436.9" cy="635.9" r="0.6" fill="#b25aa6"/><circle cx="424.0" cy="625.7" r="1.1" fill="#b25aa6"/><circle cx="415.2" cy="627.0" r="1.0" fill="#b25aa6"/><circle cx="441.9" cy="644.3" r="1.0" fill="#b25aa6"/><circle cx="417.2" cy="642.0" r="1.2" fill="#b25aa6"/><circle cx="432.5" cy="626.1" r="1.0" fill="#b25aa6"/><circle cx="416.6" cy="640.0" r="1.3" fill="#b25aa6"/><circle cx="431.2" cy="640.0" r="1.2" fill="#b25aa6"/><circle cx="418.7" cy="648.9" r="1.0" fill="#b25aa6"/><circle cx="418.8" cy="615.7" r="0.8" fill="#b25aa6"/><circle cx="433.6" cy="639.3" r="0.8" fill="#b25aa6"/><circle cx="447.4" cy="626.4" r="0.9" fill="#b25aa6"/><circle cx="415.9" cy="650.0" r="0.7" fill="#b25aa6"/><circle cx="446.4" cy="633.4" r="1.0" fill="#b25aa6"/><circle cx="433.0" cy="622.7" r="1.2" fill="#b25aa6"/><circle cx="449.9" cy="644.0" r="1.0" fill="#b25aa6"/><circle cx="415.8" cy="644.2" r="0.8" fill="#b25aa6"/><circle cx="446.2" cy="621.8" r="1.0" fill="#b25aa6"/><circle cx="443.6" cy="619.6" r="1.0" fill="#b25aa6"/><circle cx="414.0" cy="613.7" r="0.7" fill="#b25aa6"/><circle cx="449.7" cy="648.7" r="0.8" fill="#6e2c70"/><circle cx="423.1" cy="638.3" r="0.8" fill="#6e2c70"/><circle cx="426.0" cy="635.3" r="0.8" fill="#6e2c70"/><circle cx="411.6" cy="620.2" r="0.7" fill="#6e2c70"/><circle cx="416.6" cy="627.4" r="0.7" fill="#6e2c70"/><circle cx="417.8" cy="632.5" r="0.6" fill="#6e2c70"/><circle cx="433.3" cy="625.3" r="0.8" fill="#6e2c70"/><circle cx="412.5" cy="638.3" r="0.6" fill="#6e2c70"/><circle cx="448.6" cy="635.6" r="0.7" fill="#6e2c70"/><circle cx="427.1" cy="636.5" r="0.8" fill="#6e2c70"/><circle cx="440.7" cy="641.4" r="0.7" fill="#6e2c70"/><circle cx="450.0" cy="644.8" r="0.8" fill="#6e2c70"/><circle cx="427.0" cy="629.2" r="0.7" fill="#6e2c70"/><circle cx="446.5" cy="632.7" r="0.7" fill="#6e2c70"/><circle cx="427.9" cy="647.3" r="0.6" fill="#6e2c70"/><circle cx="413.1" cy="640.4" r="0.9" fill="#6e2c70"/><circle cx="439.7" cy="635.5" r="0.8" fill="#6e2c70"/><circle cx="422.9" cy="635.3" r="0.5" fill="#6e2c70"/><circle cx="415.9" cy="629.7" r="0.7" fill="#6e2c70"/><circle cx="426.6" cy="614.5" r="0.8" fill="#6e2c70"/><circle cx="431.6" cy="621.7" r="0.6" fill="#6e2c70"/><circle cx="426.5" cy="621.6" r="0.5" fill="#6e2c70"/><circle cx="446.7" cy="649.7" r="0.8" fill="#6e2c70"/><circle cx="445.0" cy="628.7" r="0.8" fill="#6e2c70"/><circle cx="419.7" cy="641.2" r="0.7" fill="#6e2c70"/><circle cx="446.4" cy="616.3" r="0.8" fill="#6e2c70"/><circle cx="415.9" cy="633.2" r="0.9" fill="#6e2c70"/><circle cx="411.0" cy="621.9" r="0.6" fill="#6e2c70"/><circle cx="423.7" cy="614.9" r="0.9" fill="#6e2c70"/><circle cx="443.0" cy="627.8" r="0.6" fill="#6e2c70"/><circle cx="434.0" cy="614.3" r="0.5" fill="#6e2c70"/><circle cx="446.2" cy="624.4" r="0.7" fill="#6e2c70"/><circle cx="447.6" cy="650.1" r="0.7" fill="#6e2c70"/><circle cx="419.1" cy="623.9" r="0.9" fill="#6e2c70"/><circle cx="446.2" cy="620.0" r="0.8" fill="#6e2c70"/><circle cx="424.9" cy="630.7" r="0.6" fill="#6e2c70"/><circle cx="445.5" cy="650.8" r="0.6" fill="#6e2c70"/><circle cx="435.8" cy="619.9" r="0.9" fill="#6e2c70"/><circle cx="413.0" cy="616.6" r="0.8" fill="#6e2c70"/><circle cx="423.3" cy="647.2" r="0.8" fill="#6e2c70"/><circle cx="439.0" cy="617.7" r="0.8" fill="#6e2c70"/><circle cx="447.8" cy="629.6" r="0.5" fill="#6e2c70"/><circle cx="419.8" cy="624.3" r="0.8" fill="#6e2c70"/><circle cx="418.7" cy="619.5" r="0.6" fill="#6e2c70"/><circle cx="437.1" cy="642.9" r="0.6" fill="#6e2c70"/><circle cx="437.0" cy="646.6" r="0.7" fill="#6e2c70"/><circle cx="420.0" cy="624.1" r="0.9" fill="#6e2c70"/><circle cx="437.1" cy="623.2" r="0.8" fill="#6e2c70"/><circle cx="414.5" cy="650.3" r="0.6" fill="#4a2050"/><circle cx="431.7" cy="632.9" r="0.5" fill="#4a2050"/><circle cx="434.5" cy="623.5" r="0.6" fill="#4a2050"/><circle cx="442.5" cy="615.9" r="0.6" fill="#4a2050"/><circle cx="440.6" cy="622.0" r="0.6" fill="#4a2050"/><circle cx="432.5" cy="619.7" r="0.8" fill="#4a2050"/><circle cx="449.7" cy="613.8" r="0.6" fill="#4a2050"/><circle cx="440.4" cy="627.3" r="0.8" fill="#4a2050"/><circle cx="430.6" cy="619.4" r="0.7" fill="#4a2050"/><circle cx="436.3" cy="626.3" r="0.7" fill="#4a2050"/><circle cx="441.7" cy="632.4" r="0.7" fill="#4a2050"/><circle cx="444.1" cy="638.8" r="0.7" fill="#4a2050"/>
<rect x="453.80" y="612.00" width="40.20" height="39.50" fill="#e39bcf"/>
<rect x="490.6" y="618.6" width="2.6" height="1.3" fill="#f6cde9"/><rect x="477.3" y="620.9" width="1.9" height="2.5" fill="#f6cde9"/><rect x="484.2" y="642.1" width="1.5" height="2.0" fill="#f6cde9"/><rect x="462.4" y="634.0" width="2.0" height="1.1" fill="#f6cde9"/><rect x="476.9" y="639.2" width="2.1" height="2.7" fill="#f6cde9"/><rect x="460.8" y="617.8" width="1.0" height="2.0" fill="#f6cde9"/><rect x="470.6" y="628.8" width="1.5" height="2.6" fill="#f6cde9"/><rect x="456.6" y="646.5" width="2.1" height="2.1" fill="#f6cde9"/><rect x="484.4" y="621.0" width="1.3" height="1.6" fill="#f6cde9"/><rect x="455.4" y="623.9" width="2.2" height="2.1" fill="#f6cde9"/><rect x="464.0" y="634.4" width="1.2" height="2.6" fill="#f6cde9"/><rect x="460.4" y="621.7" width="1.3" height="2.4" fill="#f6cde9"/><rect x="486.0" y="641.9" width="1.1" height="1.8" fill="#f6cde9"/><rect x="467.9" y="620.2" width="2.9" height="1.1" fill="#f6cde9"/><rect x="472.7" y="640.9" width="3.0" height="1.3" fill="#f6cde9"/><rect x="471.4" y="640.3" width="1.1" height="1.5" fill="#f6cde9"/><rect x="488.2" y="617.4" width="1.8" height="1.6" fill="#f6cde9"/><rect x="470.2" y="614.9" width="1.1" height="3.0" fill="#f6cde9"/><rect x="483.3" y="639.9" width="1.5" height="1.5" fill="#f6cde9"/><rect x="475.2" y="621.2" width="1.9" height="2.9" fill="#f6cde9"/><rect x="467.9" y="624.8" width="3.0" height="2.2" fill="#f6cde9"/><rect x="455.3" y="627.3" width="2.3" height="1.1" fill="#f6cde9"/><rect x="467.1" y="638.4" width="2.7" height="2.2" fill="#f6cde9"/><rect x="488.1" y="629.6" width="1.8" height="2.7" fill="#f6cde9"/><rect x="468.5" y="641.7" width="1.4" height="1.7" fill="#f6cde9"/><rect x="460.9" y="632.9" width="1.3" height="1.4" fill="#f6cde9"/><rect x="462.1" y="629.8" width="1.6" height="1.9" fill="#f6cde9"/><rect x="492.2" y="637.8" width="2.7" height="1.4" fill="#f6cde9"/><rect x="468.6" y="614.8" width="2.4" height="1.7" fill="#f6cde9"/><rect x="464.4" y="612.7" width="1.4" height="1.5" fill="#f6cde9"/><rect x="469.0" y="647.1" width="2.4" height="1.5" fill="#f6cde9"/><rect x="467.8" y="617.8" width="2.9" height="1.7" fill="#f6cde9"/><rect x="483.4" y="639.5" width="2.8" height="1.0" fill="#f6cde9"/><rect x="466.3" y="626.6" width="1.2" height="2.8" fill="#f6cde9"/><rect x="466.4" y="641.3" width="2.0" height="1.1" fill="#f6cde9"/><rect x="469.0" y="621.1" width="1.1" height="1.3" fill="#f6cde9"/><rect x="476.8" y="613.2" width="1.6" height="1.8" fill="#f6cde9"/><rect x="474.9" y="617.2" width="2.4" height="1.5" fill="#f6cde9"/><rect x="481.9" y="637.3" width="1.3" height="1.4" fill="#f6cde9"/><rect x="464.6" y="639.1" width="1.8" height="1.8" fill="#f6cde9"/><rect x="487.3" y="620.6" width="1.6" height="1.7" fill="#f6cde9"/><rect x="462.1" y="613.5" width="1.0" height="2.3" fill="#f6cde9"/><rect x="475.7" y="642.7" width="3.0" height="1.6" fill="#f6cde9"/><rect x="479.7" y="646.9" width="1.4" height="2.4" fill="#f6cde9"/><rect x="479.6" y="648.3" width="2.7" height="1.5" fill="#f6cde9"/><rect x="478.3" y="615.4" width="1.9" height="1.8" fill="#f6cde9"/><rect x="456.1" y="626.6" width="1.7" height="2.0" fill="#f6cde9"/><rect x="464.6" y="618.0" width="1.8" height="2.0" fill="#f6cde9"/><rect x="460.3" y="637.3" width="1.5" height="1.2" fill="#f6cde9"/><rect x="467.0" y="628.0" width="1.3" height="2.2" fill="#f6cde9"/><rect x="480.9" y="633.0" width="2.4" height="1.0" fill="#f6cde9"/><rect x="468.9" y="625.8" width="1.1" height="1.8" fill="#f6cde9"/><rect x="455.9" y="630.8" width="2.2" height="1.9" fill="#f6cde9"/><rect x="466.4" y="621.6" width="1.0" height="1.7" fill="#f6cde9"/><rect x="488.3" y="633.5" width="1.5" height="2.3" fill="#f6cde9"/><rect x="461.0" y="629.8" width="2.2" height="2.9" fill="#f6cde9"/><rect x="467.8" y="633.9" width="2.9" height="2.5" fill="#f6cde9"/><rect x="478.1" y="635.6" width="1.8" height="1.8" fill="#f6cde9"/><rect x="464.5" y="643.5" width="2.8" height="1.8" fill="#f6cde9"/><rect x="489.0" y="613.4" width="1.3" height="2.0" fill="#f6cde9"/><rect x="465.7" y="625.7" width="3.0" height="1.3" fill="#f6cde9"/><rect x="461.2" y="620.7" width="2.4" height="1.5" fill="#f6cde9"/><rect x="453.8" y="632.7" width="1.8" height="1.5" fill="#f6cde9"/><rect x="472.9" y="636.7" width="2.1" height="2.2" fill="#f6cde9"/><rect x="475.5" y="643.6" width="2.9" height="1.7" fill="#f6cde9"/><rect x="467.2" y="645.7" width="1.6" height="2.4" fill="#f6cde9"/><rect x="480.7" y="638.1" width="2.9" height="2.6" fill="#f6cde9"/><rect x="460.0" y="635.6" width="2.0" height="2.1" fill="#f6cde9"/><rect x="468.1" y="622.9" width="2.5" height="2.1" fill="#f6cde9"/><rect x="463.0" y="621.5" width="1.6" height="1.4" fill="#f6cde9"/><rect x="473.7" y="616.8" width="1.1" height="1.1" fill="#f6cde9"/><rect x="457.8" y="638.8" width="1.2" height="1.9" fill="#f6cde9"/><rect x="483.7" y="630.3" width="1.3" height="2.7" fill="#f6cde9"/><rect x="487.5" y="614.0" width="1.5" height="2.0" fill="#f6cde9"/><rect x="484.6" y="626.9" width="2.4" height="1.5" fill="#f6cde9"/><rect x="481.5" y="624.4" width="1.7" height="2.5" fill="#f6cde9"/><rect x="486.4" y="643.5" width="2.1" height="1.8" fill="#f6cde9"/><rect x="481.2" y="635.7" width="2.7" height="2.6" fill="#f6cde9"/><rect x="458.6" y="626.3" width="2.3" height="1.5" fill="#f6cde9"/><rect x="460.9" y="612.5" width="2.2" height="2.9" fill="#f6cde9"/><rect x="491.4" y="617.1" width="2.4" height="1.8" fill="#f6cde9"/><rect x="478.2" y="627.1" width="2.9" height="3.0" fill="#f6cde9"/><rect x="455.7" y="639.1" width="1.2" height="1.1" fill="#f6cde9"/><rect x="464.9" y="639.8" width="3.0" height="1.2" fill="#f6cde9"/><rect x="466.6" y="613.0" width="2.1" height="2.0" fill="#f6cde9"/><rect x="468.3" y="623.7" width="2.6" height="2.7" fill="#f6cde9"/><rect x="464.8" y="626.9" width="2.2" height="2.5" fill="#f6cde9"/><rect x="491.8" y="626.8" width="2.4" height="2.1" fill="#f6cde9"/><rect x="484.8" y="617.6" width="1.4" height="1.2" fill="#f6cde9"/><rect x="489.9" y="621.6" width="2.0" height="1.2" fill="#f6cde9"/><rect x="466.3" y="612.7" width="2.1" height="1.3" fill="#f6cde9"/><rect x="478.0" y="622.4" width="1.5" height="2.0" fill="#f6cde9"/><rect x="468.0" y="621.9" width="1.1" height="1.1" fill="#f6cde9"/><rect x="488.3" y="623.8" width="1.2" height="1.4" fill="#f6cde9"/><rect x="472.5" y="649.9" width="1.4" height="2.7" fill="#f6cde9"/><rect x="472.5" y="627.8" width="2.6" height="1.8" fill="#f6cde9"/><rect x="456.0" y="632.9" width="2.3" height="2.2" fill="#f6cde9"/><rect x="464.5" y="647.7" width="2.7" height="3.0" fill="#f6cde9"/><rect x="471.0" y="643.7" width="2.4" height="1.4" fill="#f6cde9"/><rect x="454.8" y="618.4" width="1.2" height="1.1" fill="#f6cde9"/><rect x="467.7" y="640.6" width="1.6" height="2.0" fill="#f6cde9"/><rect x="454.2" y="620.0" width="2.9" height="1.0" fill="#f6cde9"/><rect x="474.2" y="642.8" width="2.6" height="2.5" fill="#f6cde9"/><rect x="469.3" y="642.5" width="2.7" height="2.5" fill="#f6cde9"/><rect x="492.0" y="615.8" width="2.9" height="1.8" fill="#f6cde9"/><rect x="481.1" y="621.5" width="2.8" height="1.0" fill="#f6cde9"/><rect x="476.1" y="620.6" width="1.8" height="1.7" fill="#f6cde9"/><rect x="479.2" y="642.8" width="1.7" height="2.3" fill="#f6cde9"/><rect x="467.5" y="622.6" width="2.8" height="1.6" fill="#f6cde9"/><rect x="457.4" y="624.7" width="2.5" height="1.4" fill="#f6cde9"/><rect x="482.6" y="632.8" width="2.4" height="1.4" fill="#f6cde9"/><rect x="457.9" y="617.4" width="1.7" height="1.9" fill="#f6cde9"/><rect x="454.2" y="631.1" width="1.8" height="1.6" fill="#f6cde9"/><rect x="474.6" y="648.2" width="1.4" height="2.8" fill="#f6cde9"/><rect x="466.2" y="640.7" width="1.2" height="3.0" fill="#f6cde9"/><rect x="470.4" y="648.6" width="1.4" height="1.8" fill="#f6cde9"/><rect x="481.1" y="618.8" width="1.5" height="2.4" fill="#f6cde9"/><rect x="490.5" y="624.2" width="1.4" height="1.7" fill="#f6cde9"/><rect x="492.1" y="617.6" width="2.3" height="1.8" fill="#f6cde9"/><rect x="478.7" y="620.1" width="2.2" height="2.8" fill="#f6cde9"/><rect x="486.9" y="635.9" width="2.0" height="2.1" fill="#f6cde9"/><rect x="458.2" y="643.8" width="2.4" height="1.9" fill="#f6cde9"/><rect x="479.6" y="627.9" width="1.8" height="1.5" fill="#f6cde9"/><rect x="477.0" y="633.8" width="2.0" height="1.1" fill="#f6cde9"/><rect x="478.1" y="629.0" width="2.2" height="2.2" fill="#f6cde9"/><rect x="489.9" y="617.8" width="1.9" height="3.0" fill="#f6cde9"/><rect x="482.4" y="623.9" width="2.5" height="3.0" fill="#f6cde9"/><rect x="469.4" y="645.0" width="1.3" height="3.0" fill="#f6cde9"/><rect x="472.8" y="620.9" width="2.7" height="2.3" fill="#f6cde9"/><rect x="490.1" y="643.5" width="2.6" height="2.0" fill="#f6cde9"/><rect x="492.3" y="614.5" width="2.7" height="2.4" fill="#f6cde9"/><rect x="463.5" y="642.7" width="1.9" height="2.1" fill="#f6cde9"/><rect x="487.3" y="619.4" width="1.6" height="2.3" fill="#f6cde9"/><rect x="456.6" y="633.1" width="2.6" height="2.0" fill="#f6cde9"/><rect x="463.2" y="642.4" width="2.7" height="2.5" fill="#f6cde9"/><rect x="475.1" y="646.4" width="2.6" height="1.3" fill="#f6cde9"/><rect x="468.0" y="615.8" width="1.1" height="1.7" fill="#f6cde9"/><rect x="487.3" y="643.7" width="1.2" height="1.4" fill="#f6cde9"/><rect x="468.8" y="644.3" width="2.2" height="2.8" fill="#f6cde9"/><rect x="456.6" y="649.5" width="1.4" height="2.3" fill="#f6cde9"/><rect x="487.7" y="639.7" width="1.4" height="2.3" fill="#f6cde9"/><rect x="470.5" y="612.6" width="1.7" height="1.6" fill="#f6cde9"/><rect x="478.2" y="622.6" width="2.2" height="2.4" fill="#f6cde9"/><rect x="460.8" y="616.9" width="2.4" height="1.9" fill="#f6cde9"/><rect x="458.8" y="616.4" width="2.9" height="2.2" fill="#f6cde9"/><rect x="467.6" y="619.5" width="3.0" height="2.4" fill="#f6cde9"/><rect x="482.3" y="625.7" width="1.6" height="1.8" fill="#f6cde9"/><rect x="459.5" y="636.0" width="1.8" height="2.6" fill="#f6cde9"/><rect x="469.6" y="629.4" width="2.0" height="2.9" fill="#f6cde9"/><rect x="467.2" y="638.7" width="1.5" height="2.2" fill="#f6cde9"/><rect x="464.8" y="645.2" width="1.6" height="2.7" fill="#f6cde9"/><rect x="480.0" y="629.3" width="2.9" height="1.8" fill="#f6cde9"/><rect x="482.6" y="634.8" width="1.9" height="1.1" fill="#f6cde9"/><rect x="470.0" y="622.7" width="1.9" height="2.9" fill="#f6cde9"/><rect x="465.1" y="638.4" width="2.3" height="1.5" fill="#f6cde9"/><rect x="469.7" y="617.0" width="2.8" height="1.5" fill="#f6cde9"/><rect x="470.1" y="625.0" width="2.6" height="2.7" fill="#f6cde9"/><rect x="476.7" y="632.7" width="1.2" height="2.8" fill="#f6cde9"/><rect x="457.2" y="625.8" width="1.7" height="2.4" fill="#f6cde9"/><rect x="479.7" y="625.1" width="2.8" height="2.9" fill="#f6cde9"/><rect x="454.7" y="636.1" width="1.9" height="1.7" fill="#f6cde9"/><rect x="471.8" y="624.0" width="2.3" height="2.2" fill="#f6cde9"/><rect x="491.4" y="649.1" width="3.0" height="1.8" fill="#f6cde9"/><rect x="485.9" y="636.7" width="2.4" height="3.0" fill="#f6cde9"/><rect x="456.4" y="629.6" width="1.8" height="2.3" fill="#f6cde9"/><rect x="462.2" y="649.6" width="1.4" height="1.7" fill="#f6cde9"/><rect x="459.3" y="627.0" width="2.5" height="1.2" fill="#f6cde9"/><rect x="460.3" y="636.7" width="2.2" height="2.5" fill="#f6cde9"/><rect x="463.6" y="642.8" width="2.5" height="2.6" fill="#f6cde9"/><rect x="458.4" y="629.8" width="1.0" height="2.7" fill="#f6cde9"/><rect x="490.4" y="646.0" width="1.0" height="1.7" fill="#f6cde9"/><rect x="474.5" y="632.3" width="1.2" height="2.6" fill="#f6cde9"/><rect x="465.5" y="631.3" width="1.2" height="2.1" fill="#f6cde9"/><rect x="458.8" y="615.4" width="2.0" height="1.6" fill="#f6cde9"/><rect x="483.9" y="621.4" width="1.8" height="1.1" fill="#f6cde9"/><circle cx="462.8" cy="629.9" r="1.0" fill="#b25aa6"/><circle cx="472.3" cy="645.3" r="0.7" fill="#b25aa6"/><circle cx="487.6" cy="618.5" r="1.3" fill="#b25aa6"/><circle cx="474.9" cy="628.1" r="1.0" fill="#b25aa6"/><circle cx="488.2" cy="649.6" r="0.9" fill="#b25aa6"/><circle cx="454.7" cy="618.4" r="1.2" fill="#b25aa6"/><circle cx="483.1" cy="639.9" r="0.7" fill="#b25aa6"/><circle cx="475.1" cy="613.6" r="0.7" fill="#b25aa6"/><circle cx="466.1" cy="649.7" r="1.1" fill="#b25aa6"/><circle cx="487.5" cy="614.3" r="0.9" fill="#b25aa6"/><circle cx="457.4" cy="622.5" r="0.7" fill="#b25aa6"/><circle cx="490.3" cy="625.2" r="0.9" fill="#b25aa6"/><circle cx="479.9" cy="646.6" r="1.3" fill="#b25aa6"/><circle cx="476.6" cy="631.8" r="1.2" fill="#b25aa6"/><circle cx="469.8" cy="624.0" r="1.1" fill="#b25aa6"/><circle cx="464.4" cy="626.7" r="0.9" fill="#b25aa6"/><circle cx="473.0" cy="626.3" r="0.9" fill="#b25aa6"/><circle cx="472.0" cy="614.4" r="1.2" fill="#b25aa6"/><circle cx="456.7" cy="632.8" r="1.0" fill="#b25aa6"/><circle cx="470.0" cy="621.1" r="0.7" fill="#b25aa6"/><circle cx="468.9" cy="624.6" r="0.9" fill="#b25aa6"/><circle cx="463.3" cy="641.4" r="0.9" fill="#b25aa6"/><circle cx="454.7" cy="628.2" r="1.3" fill="#b25aa6"/><circle cx="454.6" cy="635.3" r="1.3" fill="#b25aa6"/><circle cx="468.6" cy="635.5" r="0.9" fill="#b25aa6"/><circle cx="466.1" cy="636.0" r="1.0" fill="#b25aa6"/><circle cx="466.7" cy="631.7" r="1.0" fill="#b25aa6"/><circle cx="483.8" cy="614.5" r="0.7" fill="#b25aa6"/><circle cx="464.2" cy="622.9" r="1.2" fill="#b25aa6"/><circle cx="471.0" cy="645.6" r="0.9" fill="#b25aa6"/><circle cx="465.5" cy="638.7" r="0.7" fill="#b25aa6"/><circle cx="492.9" cy="644.5" r="0.8" fill="#b25aa6"/><circle cx="466.7" cy="644.0" r="1.2" fill="#b25aa6"/><circle cx="479.5" cy="614.7" r="1.1" fill="#b25aa6"/><circle cx="456.2" cy="636.6" r="1.0" fill="#b25aa6"/><circle cx="490.7" cy="637.1" r="0.6" fill="#b25aa6"/><circle cx="490.9" cy="641.5" r="1.0" fill="#b25aa6"/><circle cx="454.5" cy="640.9" r="0.9" fill="#b25aa6"/><circle cx="480.9" cy="650.4" r="1.2" fill="#b25aa6"/><circle cx="457.2" cy="642.6" r="0.9" fill="#b25aa6"/><circle cx="483.8" cy="627.0" r="0.9" fill="#b25aa6"/><circle cx="471.4" cy="617.0" r="0.8" fill="#b25aa6"/><circle cx="483.1" cy="615.3" r="0.7" fill="#b25aa6"/><circle cx="487.0" cy="638.2" r="1.0" fill="#b25aa6"/><circle cx="458.7" cy="617.1" r="0.8" fill="#b25aa6"/><circle cx="491.7" cy="634.1" r="1.2" fill="#b25aa6"/><circle cx="462.6" cy="628.5" r="1.0" fill="#b25aa6"/><circle cx="487.2" cy="617.2" r="1.2" fill="#b25aa6"/><circle cx="472.8" cy="613.7" r="0.9" fill="#b25aa6"/><circle cx="469.1" cy="638.5" r="1.2" fill="#b25aa6"/><circle cx="473.7" cy="639.0" r="0.9" fill="#b25aa6"/><circle cx="484.8" cy="616.6" r="1.1" fill="#b25aa6"/><circle cx="460.8" cy="635.1" r="0.7" fill="#b25aa6"/><circle cx="467.9" cy="618.8" r="0.8" fill="#b25aa6"/><circle cx="477.5" cy="632.5" r="0.9" fill="#b25aa6"/><circle cx="476.8" cy="644.9" r="0.9" fill="#b25aa6"/><circle cx="477.2" cy="631.0" r="1.3" fill="#b25aa6"/><circle cx="467.2" cy="639.4" r="0.8" fill="#b25aa6"/><circle cx="464.5" cy="640.6" r="1.0" fill="#b25aa6"/><circle cx="464.4" cy="615.0" r="1.2" fill="#b25aa6"/><circle cx="469.1" cy="640.1" r="0.9" fill="#b25aa6"/><circle cx="478.5" cy="634.0" r="1.3" fill="#b25aa6"/><circle cx="490.0" cy="630.0" r="0.9" fill="#b25aa6"/><circle cx="463.4" cy="641.5" r="0.7" fill="#b25aa6"/><circle cx="466.3" cy="645.1" r="0.6" fill="#b25aa6"/><circle cx="481.7" cy="634.4" r="1.0" fill="#b25aa6"/><circle cx="467.4" cy="618.3" r="1.3" fill="#b25aa6"/><circle cx="484.3" cy="643.5" r="0.7" fill="#b25aa6"/><circle cx="485.0" cy="620.9" r="0.7" fill="#b25aa6"/><circle cx="475.3" cy="636.0" r="0.7" fill="#b25aa6"/><circle cx="484.3" cy="634.9" r="1.2" fill="#b25aa6"/><circle cx="490.5" cy="639.0" r="0.9" fill="#b25aa6"/><circle cx="491.6" cy="640.2" r="0.8" fill="#b25aa6"/><circle cx="487.9" cy="640.5" r="0.8" fill="#b25aa6"/><circle cx="464.1" cy="613.3" r="1.0" fill="#b25aa6"/><circle cx="464.2" cy="623.8" r="0.8" fill="#b25aa6"/><circle cx="459.5" cy="631.2" r="0.8" fill="#b25aa6"/><circle cx="465.5" cy="623.2" r="1.0" fill="#b25aa6"/><circle cx="488.6" cy="618.7" r="1.2" fill="#b25aa6"/><circle cx="487.8" cy="636.0" r="1.0" fill="#b25aa6"/><circle cx="483.1" cy="633.1" r="1.1" fill="#b25aa6"/><circle cx="490.3" cy="642.3" r="0.8" fill="#b25aa6"/><circle cx="456.4" cy="648.6" r="0.9" fill="#b25aa6"/><circle cx="485.2" cy="621.5" r="0.9" fill="#b25aa6"/><circle cx="468.8" cy="640.6" r="1.3" fill="#b25aa6"/><circle cx="474.1" cy="634.3" r="0.8" fill="#b25aa6"/><circle cx="463.4" cy="649.1" r="0.7" fill="#b25aa6"/><circle cx="491.2" cy="637.8" r="0.7" fill="#b25aa6"/><circle cx="489.6" cy="616.4" r="1.0" fill="#b25aa6"/><circle cx="459.0" cy="650.6" r="0.8" fill="#b25aa6"/><circle cx="488.5" cy="614.9" r="0.8" fill="#6e2c70"/><circle cx="457.0" cy="613.6" r="0.7" fill="#6e2c70"/><circle cx="492.8" cy="638.9" r="0.8" fill="#6e2c70"/><circle cx="485.1" cy="632.6" r="0.5" fill="#6e2c70"/><circle cx="475.0" cy="619.6" r="0.7" fill="#6e2c70"/><circle cx="468.2" cy="631.7" r="0.6" fill="#6e2c70"/><circle cx="481.9" cy="628.6" r="0.7" fill="#6e2c70"/><circle cx="457.4" cy="631.2" r="0.7" fill="#6e2c70"/><circle cx="492.4" cy="634.1" r="0.6" fill="#6e2c70"/><circle cx="466.1" cy="625.4" r="0.8" fill="#6e2c70"/><circle cx="491.1" cy="650.1" r="0.9" fill="#6e2c70"/><circle cx="490.6" cy="645.6" r="0.9" fill="#6e2c70"/><circle cx="455.1" cy="631.4" r="0.7" fill="#6e2c70"/><circle cx="481.2" cy="636.1" r="0.7" fill="#6e2c70"/><circle cx="490.9" cy="615.8" r="0.7" fill="#6e2c70"/><circle cx="491.9" cy="613.7" r="0.5" fill="#6e2c70"/><circle cx="488.4" cy="649.4" r="0.5" fill="#6e2c70"/><circle cx="455.6" cy="644.4" r="0.8" fill="#6e2c70"/><circle cx="474.7" cy="634.8" r="0.8" fill="#6e2c70"/><circle cx="486.0" cy="612.5" r="0.5" fill="#6e2c70"/><circle cx="485.4" cy="650.1" r="0.8" fill="#6e2c70"/><circle cx="470.3" cy="625.4" r="0.6" fill="#6e2c70"/><circle cx="454.9" cy="642.2" r="0.6" fill="#6e2c70"/><circle cx="477.3" cy="632.8" r="0.6" fill="#6e2c70"/><circle cx="480.8" cy="630.0" r="0.6" fill="#6e2c70"/><circle cx="488.9" cy="619.3" r="0.6" fill="#6e2c70"/><circle cx="464.2" cy="630.9" r="0.8" fill="#6e2c70"/><circle cx="467.3" cy="621.7" r="0.8" fill="#6e2c70"/><circle cx="464.5" cy="632.6" r="0.6" fill="#6e2c70"/><circle cx="488.7" cy="619.6" r="0.6" fill="#6e2c70"/><circle cx="466.1" cy="625.2" r="0.8" fill="#6e2c70"/><circle cx="480.7" cy="642.9" r="0.7" fill="#6e2c70"/><circle cx="457.4" cy="641.9" r="0.6" fill="#6e2c70"/><circle cx="462.8" cy="628.5" r="0.9" fill="#6e2c70"/><circle cx="468.8" cy="626.2" r="0.9" fill="#6e2c70"/><circle cx="493.1" cy="627.4" r="0.6" fill="#6e2c70"/><circle cx="485.3" cy="642.6" r="0.6" fill="#6e2c70"/><circle cx="485.3" cy="627.1" r="0.6" fill="#6e2c70"/><circle cx="477.6" cy="641.0" r="0.7" fill="#6e2c70"/><circle cx="486.4" cy="613.0" r="0.7" fill="#6e2c70"/><circle cx="469.2" cy="615.0" r="0.9" fill="#6e2c70"/><circle cx="459.9" cy="620.4" r="0.9" fill="#6e2c70"/><circle cx="492.0" cy="648.4" r="0.6" fill="#6e2c70"/><circle cx="490.8" cy="618.0" r="0.8" fill="#6e2c70"/><circle cx="491.4" cy="619.9" r="0.6" fill="#6e2c70"/><circle cx="480.9" cy="646.5" r="0.8" fill="#6e2c70"/><circle cx="491.5" cy="630.0" r="0.6" fill="#6e2c70"/><circle cx="459.0" cy="623.0" r="0.9" fill="#6e2c70"/><circle cx="457.1" cy="619.6" r="0.6" fill="#4a2050"/><circle cx="456.2" cy="624.3" r="0.6" fill="#4a2050"/><circle cx="459.1" cy="632.8" r="0.7" fill="#4a2050"/><circle cx="476.6" cy="641.8" r="0.7" fill="#4a2050"/><circle cx="491.4" cy="615.6" r="0.6" fill="#4a2050"/><circle cx="457.3" cy="624.4" r="0.7" fill="#4a2050"/><circle cx="490.5" cy="631.9" r="0.5" fill="#4a2050"/><circle cx="467.3" cy="634.4" r="0.6" fill="#4a2050"/><circle cx="485.4" cy="649.9" r="0.6" fill="#4a2050"/><circle cx="477.9" cy="645.1" r="0.6" fill="#4a2050"/><circle cx="461.8" cy="648.8" r="0.8" fill="#4a2050"/><circle cx="455.3" cy="641.9" r="0.6" fill="#4a2050"/>
<rect x="410.50" y="662.00" width="40.20" height="39.50" fill="#e39bcf"/>
<rect x="412.5" y="668.2" width="1.3" height="2.5" fill="#f6cde9"/><rect x="418.7" y="662.7" width="1.4" height="2.6" fill="#f6cde9"/><rect x="429.8" y="686.8" width="1.9" height="1.4" fill="#f6cde9"/><rect x="411.1" y="673.6" width="1.1" height="1.5" fill="#f6cde9"/><rect x="434.4" y="676.0" width="1.9" height="2.2" fill="#f6cde9"/><rect x="422.8" y="675.5" width="2.8" height="2.2" fill="#f6cde9"/><rect x="426.6" y="682.5" width="1.9" height="1.7" fill="#f6cde9"/><rect x="445.9" y="670.9" width="2.9" height="2.7" fill="#f6cde9"/><rect x="444.6" y="668.2" width="2.0" height="3.0" fill="#f6cde9"/><rect x="421.7" y="668.5" width="2.4" height="1.5" fill="#f6cde9"/><rect x="433.1" y="668.0" width="2.9" height="1.6" fill="#f6cde9"/><rect x="414.3" y="688.1" width="1.7" height="2.1" fill="#f6cde9"/><rect x="429.7" y="697.1" width="2.0" height="1.8" fill="#f6cde9"/><rect x="410.6" y="680.9" width="1.5" height="2.1" fill="#f6cde9"/><rect x="435.0" y="679.6" width="1.2" height="2.0" fill="#f6cde9"/><rect x="429.1" y="686.4" width="2.9" height="1.6" fill="#f6cde9"/><rect x="427.6" y="665.2" width="2.6" height="1.5" fill="#f6cde9"/><rect x="442.6" y="692.3" width="1.5" height="2.8" fill="#f6cde9"/><rect x="430.0" y="678.2" width="2.1" height="2.9" fill="#f6cde9"/><rect x="429.5" y="680.3" width="1.6" height="2.7" fill="#f6cde9"/><rect x="430.0" y="675.0" width="1.4" height="1.4" fill="#f6cde9"/><rect x="442.8" y="692.5" width="3.0" height="2.8" fill="#f6cde9"/><rect x="437.0" y="692.3" width="2.4" height="2.6" fill="#f6cde9"/><rect x="441.5" y="668.7" width="2.6" height="1.6" fill="#f6cde9"/><rect x="419.9" y="696.9" width="1.0" height="2.0" fill="#f6cde9"/><rect x="423.8" y="692.1" width="2.2" height="2.8" fill="#f6cde9"/><rect x="446.6" y="686.5" width="1.1" height="2.3" fill="#f6cde9"/><rect x="414.7" y="699.3" width="2.7" height="1.6" fill="#f6cde9"/><rect x="417.7" y="688.4" width="2.5" height="3.0" fill="#f6cde9"/><rect x="434.6" y="666.8" width="2.5" height="1.1" fill="#f6cde9"/><rect x="444.1" y="691.2" width="2.6" height="2.7" fill="#f6cde9"/><rect x="432.5" y="697.9" width="2.3" height="2.0" fill="#f6cde9"/><rect x="425.4" y="675.4" width="1.0" height="1.3" fill="#f6cde9"/><rect x="441.3" y="670.7" width="2.3" height="2.6" fill="#f6cde9"/><rect x="437.4" y="681.6" width="1.6" height="1.5" fill="#f6cde9"/><rect x="417.7" y="686.6" width="2.4" height="2.9" fill="#f6cde9"/><rect x="423.3" y="697.2" width="2.8" height="1.6" fill="#f6cde9"/><rect x="447.3" y="685.5" width="2.9" height="2.5" fill="#f6cde9"/><rect x="423.4" y="672.6" width="2.0" height="2.0" fill="#f6cde9"/><rect x="411.9" y="694.8" width="2.1" height="1.9" fill="#f6cde9"/><rect x="439.3" y="671.5" width="1.4" height="2.2" fill="#f6cde9"/><rect x="419.8" y="674.4" width="1.1" height="1.1" fill="#f6cde9"/><rect x="424.3" y="682.0" width="2.9" height="2.3" fill="#f6cde9"/><rect x="426.5" y="677.5" width="1.5" height="1.9" fill="#f6cde9"/><rect x="447.6" y="666.6" width="1.9" height="2.4" fill="#f6cde9"/><rect x="440.0" y="683.1" width="2.3" height="2.9" fill="#f6cde9"/><rect x="445.4" y="671.5" width="2.1" height="3.0" fill="#f6cde9"/><rect x="430.9" y="669.2" width="2.5" height="1.1" fill="#f6cde9"/><rect x="416.3" y="682.9" width="1.5" height="2.4" fill="#f6cde9"/><rect x="438.6" y="674.1" width="2.5" height="2.3" fill="#f6cde9"/><rect x="437.8" y="679.4" width="1.9" height="1.2" fill="#f6cde9"/><rect x="428.9" y="698.3" width="2.8" height="1.1" fill="#f6cde9"/><rect x="413.2" y="672.2" width="2.4" height="1.9" fill="#f6cde9"/><rect x="415.4" y="678.2" width="2.1" height="2.5" fill="#f6cde9"/><rect x="426.1" y="686.7" width="2.4" height="2.2" fill="#f6cde9"/><rect x="412.3" y="689.0" width="1.3" height="1.1" fill="#f6cde9"/><rect x="428.8" y="662.6" width="1.1" height="1.8" fill="#f6cde9"/><rect x="428.6" y="666.0" width="2.9" height="2.7" fill="#f6cde9"/><rect x="429.3" y="684.3" width="1.6" height="3.0" fill="#f6cde9"/><rect x="415.1" y="673.6" width="1.4" height="2.7" fill="#f6cde9"/><rect x="430.2" y="677.6" width="1.8" height="2.8" fill="#f6cde9"/><rect x="420.5" y="692.1" width="2.4" height="1.9" fill="#f6cde9"/><rect x="424.7" y="678.6" width="1.9" height="1.6" fill="#f6cde9"/><rect x="434.6" y="677.6" width="1.6" height="2.5" fill="#f6cde9"/><rect x="428.1" y="680.0" width="2.8" height="1.9" fill="#f6cde9"/><rect x="425.1" y="696.1" width="3.0" height="2.6" fill="#f6cde9"/><rect x="426.0" y="687.5" width="2.5" height="1.6" fill="#f6cde9"/><rect x="438.5" y="698.1" width="2.3" height="2.3" fill="#f6cde9"/><rect x="427.3" y="686.8" width="1.5" height="2.5" fill="#f6cde9"/><rect x="431.4" y="699.2" width="1.7" height="2.4" fill="#f6cde9"/><rect x="411.1" y="677.8" width="2.5" height="1.5" fill="#f6cde9"/><rect x="434.2" y="670.4" width="1.8" height="3.0" fill="#f6cde9"/><rect x="418.1" y="696.7" width="1.1" height="2.2" fill="#f6cde9"/><rect x="442.3" y="693.8" width="1.8" height="2.2" fill="#f6cde9"/><rect x="438.1" y="690.9" width="2.5" height="2.2" fill="#f6cde9"/><rect x="420.2" y="688.8" width="2.1" height="2.1" fill="#f6cde9"/><rect x="448.7" y="667.2" width="2.6" height="1.6" fill="#f6cde9"/><rect x="438.6" y="698.1" width="1.5" height="2.1" fill="#f6cde9"/><rect x="430.9" y="680.8" width="1.3" height="2.3" fill="#f6cde9"/><rect x="445.1" y="687.2" width="1.6" height="2.6" fill="#f6cde9"/><rect x="426.8" y="667.5" width="2.2" height="1.9" fill="#f6cde9"/><rect x="431.0" y="699.7" width="2.1" height="2.9" fill="#f6cde9"/><rect x="424.1" y="690.8" width="1.2" height="1.6" fill="#f6cde9"/><rect x="437.3" y="688.2" width="2.7" height="1.8" fill="#f6cde9"/><rect x="421.1" y="675.6" width="2.1" height="1.0" fill="#f6cde9"/><rect x="425.0" y="687.0" width="1.3" height="1.6" fill="#f6cde9"/><rect x="444.3" y="697.5" width="1.5" height="1.4" fill="#f6cde9"/><rect x="415.1" y="665.3" width="2.6" height="2.5" fill="#f6cde9"/><rect x="420.7" y="680.6" width="2.4" height="1.1" fill="#f6cde9"/><rect x="442.2" y="694.7" width="1.4" height="2.4" fill="#f6cde9"/><rect x="437.6" y="674.8" width="2.8" height="1.4" fill="#f6cde9"/><rect x="428.8" y="673.9" width="1.9" height="2.6" fill="#f6cde9"/><rect x="432.6" y="685.2" width="3.0" height="1.4" fill="#f6cde9"/><rect x="419.1" y="685.5" width="1.3" height="2.9" fill="#f6cde9"/><rect x="423.7" y="678.7" width="1.9" height="2.7" fill="#f6cde9"/><rect x="445.9" y="687.7" width="1.3" height="1.7" fill="#f6cde9"/><rect x="437.8" y="670.2" width="2.8" height="2.7" fill="#f6cde9"/><rect x="419.3" y="675.8" width="1.5" height="2.4" fill="#f6cde9"/><rect x="412.3" y="688.4" width="1.1" height="2.7" fill="#f6cde9"/><rect x="431.5" y="684.2" width="1.2" height="1.1" fill="#f6cde9"/><rect x="424.2" y="699.4" width="2.2" height="2.7" fill="#f6cde9"/><rect x="412.9" y="665.9" width="1.0" height="2.4" fill="#f6cde9"/><rect x="417.3" y="672.4" width="2.3" height="2.4" fill="#f6cde9"/><rect x="423.0" y="679.8" width="1.6" height="2.1" fill="#f6cde9"/><rect x="424.3" y="675.7" width="1.5" height="1.6" fill="#f6cde9"/><rect x="420.6" y="662.6" width="1.6" height="2.2" fill="#f6cde9"/><rect x="420.9" y="666.3" width="2.7" height="1.9" fill="#f6cde9"/><rect x="430.3" y="673.9" width="2.8" height="2.5" fill="#f6cde9"/><rect x="434.6" y="687.1" width="2.4" height="2.0" fill="#f6cde9"/><rect x="426.5" y="676.8" width="2.0" height="1.9" fill="#f6cde9"/><rect x="431.0" y="682.3" width="2.6" height="2.8" fill="#f6cde9"/><rect x="419.2" y="662.8" width="1.6" height="1.1" fill="#f6cde9"/><rect x="441.3" y="685.6" width="1.6" height="1.4" fill="#f6cde9"/><rect x="444.1" y="693.8" width="2.4" height="2.4" fill="#f6cde9"/><rect x="439.3" y="679.3" width="1.8" height="2.1" fill="#f6cde9"/><rect x="444.6" y="699.7" width="2.8" height="2.7" fill="#f6cde9"/><rect x="413.4" y="671.4" width="2.9" height="2.1" fill="#f6cde9"/><rect x="430.4" y="673.8" width="2.7" height="2.0" fill="#f6cde9"/><rect x="448.8" y="664.9" width="3.0" height="1.0" fill="#f6cde9"/><rect x="416.2" y="676.8" width="2.3" height="1.2" fill="#f6cde9"/><rect x="432.3" y="697.7" width="1.9" height="2.5" fill="#f6cde9"/><rect x="433.4" y="684.1" width="1.3" height="1.9" fill="#f6cde9"/><rect x="445.3" y="687.6" width="1.4" height="1.9" fill="#f6cde9"/><rect x="431.5" y="674.8" width="2.2" height="2.3" fill="#f6cde9"/><rect x="411.2" y="670.4" width="2.3" height="1.4" fill="#f6cde9"/><rect x="413.3" y="691.0" width="1.7" height="2.9" fill="#f6cde9"/><rect x="432.1" y="665.8" width="2.3" height="1.5" fill="#f6cde9"/><rect x="442.0" y="689.5" width="2.5" height="1.1" fill="#f6cde9"/><rect x="411.8" y="692.3" width="1.3" height="1.4" fill="#f6cde9"/><rect x="411.7" y="668.2" width="1.9" height="2.9" fill="#f6cde9"/><rect x="422.9" y="671.9" width="2.7" height="1.4" fill="#f6cde9"/><rect x="435.1" y="685.4" width="2.9" height="1.1" fill="#f6cde9"/><rect x="432.3" y="676.5" width="2.6" height="1.5" fill="#f6cde9"/><rect x="438.2" y="669.0" width="2.0" height="2.9" fill="#f6cde9"/><rect x="419.8" y="672.6" width="2.8" height="2.3" fill="#f6cde9"/><rect x="413.1" y="669.1" width="1.5" height="1.6" fill="#f6cde9"/><rect x="443.2" y="688.6" width="3.0" height="2.3" fill="#f6cde9"/><rect x="434.8" y="676.6" width="2.4" height="2.0" fill="#f6cde9"/><rect x="412.8" y="680.7" width="1.8" height="2.1" fill="#f6cde9"/><rect x="412.4" y="663.1" width="3.0" height="1.7" fill="#f6cde9"/><rect x="423.3" y="667.6" width="2.2" height="2.8" fill="#f6cde9"/><rect x="417.5" y="681.0" width="2.0" height="2.5" fill="#f6cde9"/><rect x="432.4" y="671.1" width="1.4" height="2.4" fill="#f6cde9"/><rect x="413.5" y="694.9" width="1.1" height="1.4" fill="#f6cde9"/><rect x="428.6" y="694.1" width="2.2" height="2.5" fill="#f6cde9"/><rect x="440.0" y="689.5" width="1.1" height="2.7" fill="#f6cde9"/><rect x="416.2" y="668.2" width="1.1" height="1.1" fill="#f6cde9"/><rect x="444.4" y="676.5" width="1.2" height="1.1" fill="#f6cde9"/><rect x="443.3" y="684.9" width="2.8" height="1.1" fill="#f6cde9"/><rect x="414.9" y="672.9" width="1.4" height="1.2" fill="#f6cde9"/><rect x="418.3" y="686.3" width="1.3" height="1.3" fill="#f6cde9"/><rect x="431.2" y="676.3" width="1.3" height="2.1" fill="#f6cde9"/><rect x="430.2" y="676.7" width="1.9" height="1.1" fill="#f6cde9"/><rect x="434.3" y="669.3" width="1.7" height="1.0" fill="#f6cde9"/><rect x="444.9" y="684.3" width="1.8" height="2.1" fill="#f6cde9"/><rect x="446.9" y="667.0" width="1.8" height="2.4" fill="#f6cde9"/><rect x="424.9" y="688.9" width="2.8" height="1.1" fill="#f6cde9"/><rect x="421.5" y="673.1" width="2.5" height="2.6" fill="#f6cde9"/><rect x="437.6" y="697.1" width="1.4" height="1.8" fill="#f6cde9"/><rect x="443.5" y="691.1" width="1.2" height="3.0" fill="#f6cde9"/><rect x="439.2" y="694.9" width="1.7" height="2.2" fill="#f6cde9"/><rect x="447.6" y="696.1" width="2.2" height="2.8" fill="#f6cde9"/><rect x="449.2" y="693.9" width="2.3" height="2.9" fill="#f6cde9"/><rect x="416.1" y="677.3" width="2.1" height="1.3" fill="#f6cde9"/><rect x="440.7" y="664.4" width="2.3" height="1.6" fill="#f6cde9"/><rect x="423.0" y="685.1" width="1.4" height="1.9" fill="#f6cde9"/><rect x="443.7" y="699.5" width="1.5" height="1.7" fill="#f6cde9"/><rect x="437.3" y="669.2" width="2.7" height="1.4" fill="#f6cde9"/><rect x="432.0" y="674.9" width="1.0" height="1.0" fill="#f6cde9"/><rect x="410.6" y="674.5" width="1.6" height="3.0" fill="#f6cde9"/><rect x="435.2" y="664.5" width="2.4" height="1.5" fill="#f6cde9"/><rect x="429.1" y="689.5" width="2.7" height="2.9" fill="#f6cde9"/><rect x="426.8" y="674.1" width="1.8" height="1.6" fill="#f6cde9"/><rect x="439.2" y="679.6" width="2.4" height="1.3" fill="#f6cde9"/><rect x="440.8" y="698.7" width="1.4" height="2.2" fill="#f6cde9"/><circle cx="417.4" cy="663.9" r="0.9" fill="#b25aa6"/><circle cx="418.2" cy="690.6" r="1.0" fill="#b25aa6"/><circle cx="437.4" cy="699.8" r="0.6" fill="#b25aa6"/><circle cx="414.9" cy="663.9" r="0.9" fill="#b25aa6"/><circle cx="443.3" cy="688.8" r="1.0" fill="#b25aa6"/><circle cx="444.6" cy="676.8" r="0.7" fill="#b25aa6"/><circle cx="436.2" cy="663.5" r="0.8" fill="#b25aa6"/><circle cx="412.2" cy="668.7" r="0.6" fill="#b25aa6"/><circle cx="431.8" cy="667.4" r="1.0" fill="#b25aa6"/><circle cx="443.3" cy="675.8" r="0.7" fill="#b25aa6"/><circle cx="437.3" cy="690.5" r="1.2" fill="#b25aa6"/><circle cx="432.7" cy="684.9" r="1.2" fill="#b25aa6"/><circle cx="437.5" cy="700.0" r="0.8" fill="#b25aa6"/><circle cx="441.4" cy="686.9" r="0.9" fill="#b25aa6"/><circle cx="411.4" cy="680.8" r="0.8" fill="#b25aa6"/><circle cx="434.6" cy="682.1" r="1.0" fill="#b25aa6"/><circle cx="413.3" cy="667.6" r="1.0" fill="#b25aa6"/><circle cx="437.7" cy="700.6" r="1.2" fill="#b25aa6"/><circle cx="422.4" cy="680.0" r="1.0" fill="#b25aa6"/><circle cx="442.5" cy="677.7" r="1.2" fill="#b25aa6"/><circle cx="430.0" cy="677.8" r="0.9" fill="#b25aa6"/><circle cx="425.0" cy="701.0" r="0.6" fill="#b25aa6"/><circle cx="426.7" cy="665.6" r="1.1" fill="#b25aa6"/><circle cx="416.9" cy="668.2" r="0.9" fill="#b25aa6"/><circle cx="434.6" cy="691.9" r="0.9" fill="#b25aa6"/><circle cx="422.6" cy="676.7" r="1.2" fill="#b25aa6"/><circle cx="419.4" cy="662.9" r="1.2" fill="#b25aa6"/><circle cx="429.9" cy="667.6" r="0.7" fill="#b25aa6"/><circle cx="445.9" cy="691.3" r="0.6" fill="#b25aa6"/><circle cx="437.5" cy="670.7" r="0.9" fill="#b25aa6"/><circle cx="434.7" cy="664.5" r="1.3" fill="#b25aa6"/><circle cx="424.1" cy="668.0" r="1.1" fill="#b25aa6"/><circle cx="415.3" cy="663.9" r="1.1" fill="#b25aa6"/><circle cx="429.4" cy="697.2" r="1.2" fill="#b25aa6"/><circle cx="419.1" cy="664.2" r="1.0" fill="#b25aa6"/><circle cx="429.4" cy="674.1" r="1.2" fill="#b25aa6"/><circle cx="419.2" cy="687.3" r="0.7" fill="#b25aa6"/><circle cx="447.2" cy="699.0" r="1.0" fill="#b25aa6"/><circle cx="423.6" cy="690.4" r="1.2" fill="#b25aa6"/><circle cx="442.2" cy="664.1" r="1.0" fill="#b25aa6"/><circle cx="416.5" cy="683.5" r="1.3" fill="#b25aa6"/><circle cx="444.9" cy="672.1" r="1.0" fill="#b25aa6"/><circle cx="423.4" cy="669.0" r="1.1" fill="#b25aa6"/><circle cx="440.8" cy="675.5" r="0.9" fill="#b25aa6"/><circle cx="438.3" cy="690.5" r="0.9" fill="#b25aa6"/><circle cx="415.6" cy="666.2" r="0.7" fill="#b25aa6"/><circle cx="443.4" cy="681.6" r="1.1" fill="#b25aa6"/><circle cx="425.3" cy="676.7" r="0.7" fill="#b25aa6"/><circle cx="449.2" cy="685.8" r="0.7" fill="#b25aa6"/><circle cx="438.5" cy="685.5" r="1.0" fill="#b25aa6"/><circle cx="441.2" cy="685.9" r="1.2" fill="#b25aa6"/><circle cx="449.0" cy="678.2" r="1.1" fill="#b25aa6"/><circle cx="425.7" cy="678.3" r="0.9" fill="#b25aa6"/><circle cx="436.4" cy="676.1" r="0.8" fill="#b25aa6"/><circle cx="444.2" cy="693.3" r="1.1" fill="#b25aa6"/><circle cx="444.1" cy="677.4" r="1.0" fill="#b25aa6"/><circle cx="420.8" cy="674.6" r="0.7" fill="#b25aa6"/><circle cx="442.3" cy="698.0" r="0.8" fill="#b25aa6"/><circle cx="425.8" cy="667.0" r="0.7" fill="#b25aa6"/><circle cx="436.0" cy="696.8" r="0.7" fill="#b25aa6"/><circle cx="421.0" cy="691.7" r="0.8" fill="#b25aa6"/><circle cx="445.4" cy="676.1" r="0.9" fill="#b25aa6"/><circle cx="418.9" cy="673.7" r="0.9" fill="#b25aa6"/><circle cx="421.9" cy="690.6" r="0.6" fill="#b25aa6"/><circle cx="436.0" cy="693.4" r="0.8" fill="#b25aa6"/><circle cx="418.5" cy="667.1" r="0.7" fill="#b25aa6"/><circle cx="442.1" cy="685.7" r="0.6" fill="#b25aa6"/><circle cx="428.8" cy="685.5" r="0.8" fill="#b25aa6"/><circle cx="412.4" cy="678.7" r="0.8" fill="#b25aa6"/><circle cx="449.1" cy="676.4" r="1.2" fill="#b25aa6"/><circle cx="445.0" cy="684.6" r="0.7" fill="#b25aa6"/><circle cx="442.7" cy="666.0" r="1.0" fill="#b25aa6"/><circle cx="414.8" cy="666.1" r="0.9" fill="#b25aa6"/><circle cx="417.1" cy="700.7" r="1.0" fill="#b25aa6"/><circle cx="446.2" cy="699.3" r="1.1" fill="#b25aa6"/><circle cx="436.3" cy="680.7" r="1.1" fill="#b25aa6"/><circle cx="437.2" cy="668.6" r="1.0" fill="#b25aa6"/><circle cx="427.2" cy="682.3" r="1.1" fill="#b25aa6"/><circle cx="438.0" cy="684.4" r="1.2" fill="#b25aa6"/><circle cx="443.3" cy="666.1" r="0.7" fill="#b25aa6"/><circle cx="412.8" cy="668.7" r="1.3" fill="#b25aa6"/><circle cx="423.1" cy="679.4" r="0.9" fill="#b25aa6"/><circle cx="433.1" cy="673.3" r="1.1" fill="#b25aa6"/><circle cx="424.0" cy="695.1" r="1.2" fill="#b25aa6"/><circle cx="411.0" cy="683.6" r="0.7" fill="#b25aa6"/><circle cx="445.7" cy="665.2" r="0.8" fill="#b25aa6"/><circle cx="441.1" cy="685.2" r="1.1" fill="#b25aa6"/><circle cx="427.2" cy="682.5" r="0.7" fill="#b25aa6"/><circle cx="429.1" cy="672.4" r="1.1" fill="#b25aa6"/><circle cx="415.2" cy="667.8" r="0.7" fill="#b25aa6"/><circle cx="431.9" cy="684.9" r="0.5" fill="#6e2c70"/><circle cx="449.7" cy="694.7" r="0.7" fill="#6e2c70"/><circle cx="417.2" cy="694.3" r="0.9" fill="#6e2c70"/><circle cx="418.0" cy="691.6" r="0.8" fill="#6e2c70"/><circle cx="447.7" cy="670.5" r="0.5" fill="#6e2c70"/><circle cx="417.4" cy="671.4" r="0.9" fill="#6e2c70"/><circle cx="446.7" cy="680.7" r="0.6" fill="#6e2c70"/><circle cx="424.8" cy="671.8" r="0.8" fill="#6e2c70"/><circle cx="439.2" cy="692.4" r="0.7" fill="#6e2c70"/><circle cx="428.9" cy="680.5" r="0.6" fill="#6e2c70"/><circle cx="428.8" cy="688.9" r="0.8" fill="#6e2c70"/><circle cx="423.8" cy="684.3" r="0.6" fill="#6e2c70"/><circle cx="412.8" cy="677.4" r="0.6" fill="#6e2c70"/><circle cx="412.3" cy="665.6" r="0.7" fill="#6e2c70"/><circle cx="447.9" cy="694.7" r="0.5" fill="#6e2c70"/><circle cx="423.4" cy="676.7" r="0.6" fill="#6e2c70"/><circle cx="416.4" cy="685.2" r="0.8" fill="#6e2c70"/><circle cx="426.0" cy="669.3" r="0.5" fill="#6e2c70"/><circle cx="411.6" cy="692.0" r="0.6" fill="#6e2c70"/><circle cx="439.4" cy="692.9" r="0.5" fill="#6e2c70"/><circle cx="418.4" cy="674.6" r="0.8" fill="#6e2c70"/><circle cx="439.9" cy="674.2" r="0.7" fill="#6e2c70"/><circle cx="424.9" cy="680.7" r="0.8" fill="#6e2c70"/><circle cx="421.3" cy="693.7" r="0.9" fill="#6e2c70"/><circle cx="434.6" cy="699.4" r="0.9" fill="#6e2c70"/><circle cx="417.7" cy="700.7" r="0.6" fill="#6e2c70"/><circle cx="442.5" cy="667.2" r="0.6" fill="#6e2c70"/><circle cx="428.3" cy="694.8" r="0.8" fill="#6e2c70"/><circle cx="419.0" cy="697.1" r="0.8" fill="#6e2c70"/><circle cx="431.0" cy="664.4" r="0.6" fill="#6e2c70"/><circle cx="422.5" cy="678.6" r="0.9" fill="#6e2c70"/><circle cx="434.3" cy="694.1" r="0.5" fill="#6e2c70"/><circle cx="420.6" cy="690.7" r="0.6" fill="#6e2c70"/><circle cx="419.9" cy="664.9" r="0.5" fill="#6e2c70"/><circle cx="427.2" cy="683.5" r="0.7" fill="#6e2c70"/><circle cx="433.1" cy="673.7" r="0.5" fill="#6e2c70"/><circle cx="437.4" cy="675.4" r="0.7" fill="#6e2c70"/><circle cx="425.8" cy="672.9" r="0.5" fill="#6e2c70"/><circle cx="422.6" cy="674.0" r="0.5" fill="#6e2c70"/><circle cx="412.2" cy="681.0" r="0.5" fill="#6e2c70"/><circle cx="445.5" cy="676.4" r="0.7" fill="#6e2c70"/><circle cx="431.6" cy="663.4" r="0.5" fill="#6e2c70"/><circle cx="441.8" cy="683.9" r="0.7" fill="#6e2c70"/><circle cx="424.5" cy="691.4" r="0.7" fill="#6e2c70"/><circle cx="442.1" cy="694.7" r="0.9" fill="#6e2c70"/><circle cx="439.5" cy="688.4" r="0.7" fill="#6e2c70"/><circle cx="431.9" cy="684.8" r="0.7" fill="#6e2c70"/><circle cx="443.1" cy="695.5" r="0.5" fill="#6e2c70"/><circle cx="440.5" cy="686.2" r="0.7" fill="#4a2050"/><circle cx="446.6" cy="664.4" r="0.6" fill="#4a2050"/><circle cx="425.7" cy="699.0" r="0.5" fill="#4a2050"/><circle cx="433.1" cy="668.1" r="0.7" fill="#4a2050"/><circle cx="430.2" cy="690.8" r="0.6" fill="#4a2050"/><circle cx="445.6" cy="662.8" r="0.6" fill="#4a2050"/><circle cx="439.7" cy="696.3" r="0.7" fill="#4a2050"/><circle cx="421.8" cy="665.6" r="0.7" fill="#4a2050"/><circle cx="439.7" cy="664.8" r="0.8" fill="#4a2050"/><circle cx="431.7" cy="663.8" r="0.6" fill="#4a2050"/><circle cx="424.3" cy="666.5" r="0.8" fill="#4a2050"/><circle cx="447.6" cy="667.3" r="0.6" fill="#4a2050"/>
<rect x="453.80" y="662.00" width="40.20" height="39.50" fill="#e39bcf"/>
<rect x="464.4" y="687.5" width="1.2" height="1.7" fill="#f6cde9"/><rect x="469.7" y="680.0" width="1.9" height="2.2" fill="#f6cde9"/><rect x="490.2" y="697.4" width="2.8" height="2.7" fill="#f6cde9"/><rect x="462.6" y="671.3" width="1.9" height="2.3" fill="#f6cde9"/><rect x="477.3" y="675.3" width="3.0" height="1.6" fill="#f6cde9"/><rect x="454.6" y="665.4" width="1.4" height="2.5" fill="#f6cde9"/><rect x="486.3" y="663.6" width="1.5" height="1.5" fill="#f6cde9"/><rect x="484.2" y="696.1" width="1.5" height="1.2" fill="#f6cde9"/><rect x="491.2" y="698.9" width="2.4" height="1.9" fill="#f6cde9"/><rect x="482.7" y="691.2" width="2.0" height="1.5" fill="#f6cde9"/><rect x="474.1" y="687.2" width="1.6" height="2.3" fill="#f6cde9"/><rect x="459.5" y="698.9" width="1.4" height="1.5" fill="#f6cde9"/><rect x="491.0" y="698.1" width="2.9" height="2.7" fill="#f6cde9"/><rect x="486.6" y="693.2" width="2.1" height="1.1" fill="#f6cde9"/><rect x="482.1" y="693.8" width="2.7" height="1.1" fill="#f6cde9"/><rect x="456.2" y="689.8" width="2.0" height="2.8" fill="#f6cde9"/><rect x="492.1" y="679.0" width="2.4" height="2.3" fill="#f6cde9"/><rect x="480.6" y="676.0" width="2.3" height="1.1" fill="#f6cde9"/><rect x="488.6" y="689.5" width="2.6" height="1.9" fill="#f6cde9"/><rect x="461.7" y="679.1" width="2.4" height="2.1" fill="#f6cde9"/><rect x="458.0" y="662.1" width="1.8" height="1.5" fill="#f6cde9"/><rect x="462.6" y="670.4" width="1.8" height="2.4" fill="#f6cde9"/><rect x="489.1" y="687.7" width="1.0" height="2.7" fill="#f6cde9"/><rect x="477.4" y="689.8" width="2.2" height="1.7" fill="#f6cde9"/><rect x="466.9" y="664.7" width="2.3" height="1.1" fill="#f6cde9"/><rect x="480.2" y="696.6" width="2.3" height="2.2" fill="#f6cde9"/><rect x="485.1" y="698.5" width="2.6" height="3.0" fill="#f6cde9"/><rect x="471.6" y="662.6" width="2.2" height="2.3" fill="#f6cde9"/><rect x="487.2" y="685.3" width="1.7" height="1.0" fill="#f6cde9"/><rect x="485.9" y="685.7" width="3.0" height="2.2" fill="#f6cde9"/><rect x="486.8" y="691.3" width="3.0" height="1.9" fill="#f6cde9"/><rect x="488.5" y="677.1" width="1.0" height="1.7" fill="#f6cde9"/><rect x="467.4" y="699.7" width="1.8" height="1.5" fill="#f6cde9"/><rect x="480.5" y="665.7" width="1.6" height="1.8" fill="#f6cde9"/><rect x="458.6" y="684.7" width="1.8" height="2.6" fill="#f6cde9"/><rect x="466.9" y="699.1" width="1.4" height="2.1" fill="#f6cde9"/><rect x="462.6" y="662.5" width="1.6" height="2.8" fill="#f6cde9"/><rect x="465.1" y="680.6" width="2.0" height="1.5" fill="#f6cde9"/><rect x="474.5" y="664.5" width="1.7" height="1.6" fill="#f6cde9"/><rect x="485.4" y="691.3" width="2.4" height="2.2" fill="#f6cde9"/><rect x="487.3" y="690.2" width="1.1" height="1.3" fill="#f6cde9"/><rect x="482.7" y="693.9" width="3.0" height="2.6" fill="#f6cde9"/><rect x="459.9" y="683.6" width="2.2" height="2.2" fill="#f6cde9"/><rect x="459.0" y="698.8" width="2.0" height="1.5" fill="#f6cde9"/><rect x="491.8" y="676.6" width="1.1" height="2.3" fill="#f6cde9"/><rect x="463.9" y="670.3" width="1.6" height="2.2" fill="#f6cde9"/><rect x="466.2" y="687.3" width="2.8" height="3.0" fill="#f6cde9"/><rect x="488.2" y="697.0" width="1.5" height="2.6" fill="#f6cde9"/><rect x="457.3" y="684.1" width="1.2" height="1.2" fill="#f6cde9"/><rect x="490.5" y="666.8" width="2.4" height="2.1" fill="#f6cde9"/><rect x="453.8" y="692.1" width="1.1" height="2.8" fill="#f6cde9"/><rect x="485.5" y="680.9" width="1.9" height="1.1" fill="#f6cde9"/><rect x="480.9" y="663.5" width="2.1" height="2.9" fill="#f6cde9"/><rect x="480.0" y="666.4" width="2.4" height="2.4" fill="#f6cde9"/><rect x="466.5" y="691.3" width="2.2" height="1.8" fill="#f6cde9"/><rect x="474.1" y="672.5" width="1.6" height="2.8" fill="#f6cde9"/><rect x="467.3" y="691.3" width="1.7" height="1.4" fill="#f6cde9"/><rect x="453.9" y="698.6" width="2.5" height="3.0" fill="#f6cde9"/><rect x="476.6" y="664.4" width="1.3" height="1.1" fill="#f6cde9"/><rect x="477.5" y="685.6" width="2.9" height="1.6" fill="#f6cde9"/><rect x="462.8" y="670.4" width="1.3" height="1.1" fill="#f6cde9"/><rect x="472.9" y="678.0" width="1.7" height="2.9" fill="#f6cde9"/><rect x="465.9" y="693.4" width="2.1" height="1.2" fill="#f6cde9"/><rect x="454.9" y="685.2" width="2.7" height="1.1" fill="#f6cde9"/><rect x="481.0" y="670.8" width="2.4" height="2.7" fill="#f6cde9"/><rect x="481.9" y="671.3" width="1.3" height="2.9" fill="#f6cde9"/><rect x="489.2" y="697.1" width="2.1" height="1.1" fill="#f6cde9"/><rect x="468.1" y="696.6" width="1.1" height="1.6" fill="#f6cde9"/><rect x="455.4" y="695.5" width="1.7" height="1.2" fill="#f6cde9"/><rect x="467.6" y="669.7" width="1.9" height="2.2" fill="#f6cde9"/><rect x="479.3" y="665.7" width="2.1" height="1.1" fill="#f6cde9"/><rect x="470.9" y="692.7" width="1.5" height="2.6" fill="#f6cde9"/><rect x="463.2" y="676.9" width="2.6" height="1.0" fill="#f6cde9"/><rect x="475.2" y="682.4" width="2.4" height="2.9" fill="#f6cde9"/><rect x="480.7" y="670.5" width="1.4" height="2.0" fill="#f6cde9"/><rect x="464.7" y="683.0" width="1.2" height="2.4" fill="#f6cde9"/><rect x="469.9" y="663.9" width="1.2" height="2.9" fill="#f6cde9"/><rect x="486.7" y="695.5" width="1.8" height="3.0" fill="#f6cde9"/><rect x="460.4" y="689.6" width="2.9" height="1.4" fill="#f6cde9"/><rect x="454.0" y="666.8" width="1.2" height="2.6" fill="#f6cde9"/><rect x="477.3" y="680.1" width="1.2" height="2.3" fill="#f6cde9"/><rect x="459.1" y="667.1" width="2.2" height="2.3" fill="#f6cde9"/><rect x="484.8" y="693.4" width="1.3" height="1.6" fill="#f6cde9"/><rect x="459.4" y="680.7" width="1.1" height="2.7" fill="#f6cde9"/><rect x="480.2" y="692.7" width="2.0" height="2.8" fill="#f6cde9"/><rect x="486.1" y="693.5" width="2.6" height="1.4" fill="#f6cde9"/><rect x="467.2" y="664.1" width="2.5" height="1.9" fill="#f6cde9"/><rect x="492.0" y="673.0" width="1.9" height="2.7" fill="#f6cde9"/><rect x="491.3" y="690.8" width="2.8" height="2.8" fill="#f6cde9"/><rect x="464.3" y="685.4" width="1.1" height="2.4" fill="#f6cde9"/><rect x="490.7" y="681.2" width="1.3" height="2.1" fill="#f6cde9"/><rect x="456.3" y="679.5" width="1.2" height="1.8" fill="#f6cde9"/><rect x="485.5" y="690.1" width="2.7" height="1.9" fill="#f6cde9"/><rect x="470.9" y="664.1" width="2.6" height="2.1" fill="#f6cde9"/><rect x="469.6" y="667.5" width="1.9" height="1.1" fill="#f6cde9"/><rect x="458.4" y="665.0" width="1.8" height="1.3" fill="#f6cde9"/><rect x="485.8" y="685.2" width="2.7" height="2.1" fill="#f6cde9"/><rect x="460.0" y="672.5" width="2.7" height="2.2" fill="#f6cde9"/><rect x="478.8" y="686.0" width="1.1" height="1.4" fill="#f6cde9"/><rect x="470.5" y="694.1" width="2.9" height="2.2" fill="#f6cde9"/><rect x="463.8" y="663.8" width="2.1" height="1.8" fill="#f6cde9"/><rect x="489.8" y="669.8" width="1.4" height="1.0" fill="#f6cde9"/><rect x="454.9" y="692.7" width="2.7" height="1.3" fill="#f6cde9"/><rect x="454.4" y="683.9" width="1.5" height="2.2" fill="#f6cde9"/><rect x="489.1" y="690.4" width="1.6" height="2.2" fill="#f6cde9"/><rect x="465.0" y="690.9" width="1.5" height="2.7" fill="#f6cde9"/><rect x="480.1" y="695.9" width="1.7" height="2.9" fill="#f6cde9"/><rect x="476.3" y="671.8" width="2.3" height="1.6" fill="#f6cde9"/><rect x="458.2" y="663.5" width="2.2" height="1.5" fill="#f6cde9"/><rect x="457.7" y="691.5" width="1.3" height="2.5" fill="#f6cde9"/><rect x="464.4" y="675.8" width="2.9" height="2.7" fill="#f6cde9"/><rect x="486.1" y="699.3" width="2.2" height="2.9" fill="#f6cde9"/><rect x="477.9" y="684.1" width="1.6" height="1.8" fill="#f6cde9"/><rect x="475.9" y="671.4" width="2.3" height="2.7" fill="#f6cde9"/><rect x="481.7" y="670.6" width="1.1" height="1.7" fill="#f6cde9"/><rect x="470.6" y="694.2" width="2.1" height="2.0" fill="#f6cde9"/><rect x="477.2" y="683.0" width="2.4" height="2.1" fill="#f6cde9"/><rect x="475.2" y="671.0" width="1.2" height="1.9" fill="#f6cde9"/><rect x="488.1" y="698.0" width="1.6" height="2.1" fill="#f6cde9"/><rect x="473.9" y="679.3" width="1.4" height="2.6" fill="#f6cde9"/><rect x="457.1" y="670.7" width="1.6" height="1.4" fill="#f6cde9"/><rect x="461.3" y="665.0" width="2.0" height="1.3" fill="#f6cde9"/><rect x="478.7" y="684.8" width="2.2" height="2.0" fill="#f6cde9"/><rect x="477.5" y="673.2" width="1.9" height="2.4" fill="#f6cde9"/><rect x="462.1" y="689.9" width="2.2" height="2.9" fill="#f6cde9"/><rect x="477.7" y="682.9" width="2.5" height="1.6" fill="#f6cde9"/><rect x="468.2" y="678.4" width="2.5" height="2.4" fill="#f6cde9"/><rect x="461.0" y="698.3" width="3.0" height="2.0" fill="#f6cde9"/><rect x="492.3" y="685.6" width="1.8" height="1.2" fill="#f6cde9"/><rect x="454.5" y="684.5" width="2.4" height="2.2" fill="#f6cde9"/><rect x="484.1" y="678.6" width="2.5" height="2.2" fill="#f6cde9"/><rect x="478.3" y="682.8" width="2.3" height="2.1" fill="#f6cde9"/><rect x="457.3" y="687.6" width="2.4" height="1.9" fill="#f6cde9"/><rect x="491.3" y="680.3" width="1.3" height="2.0" fill="#f6cde9"/><rect x="467.7" y="668.3" width="2.8" height="1.4" fill="#f6cde9"/><rect x="481.4" y="668.5" width="2.0" height="3.0" fill="#f6cde9"/><rect x="457.2" y="694.6" width="1.0" height="3.0" fill="#f6cde9"/><rect x="489.0" y="679.0" width="2.3" height="1.9" fill="#f6cde9"/><rect x="460.1" y="675.5" width="1.9" height="2.7" fill="#f6cde9"/><rect x="458.2" y="682.5" width="1.9" height="2.1" fill="#f6cde9"/><rect x="484.5" y="684.8" width="1.6" height="2.9" fill="#f6cde9"/><rect x="477.0" y="672.3" width="2.1" height="2.7" fill="#f6cde9"/><rect x="455.6" y="686.6" width="2.0" height="1.6" fill="#f6cde9"/><rect x="460.0" y="670.8" width="1.9" height="1.8" fill="#f6cde9"/><rect x="477.1" y="672.3" width="2.2" height="1.9" fill="#f6cde9"/><rect x="484.6" y="692.6" width="1.5" height="3.0" fill="#f6cde9"/><rect x="474.9" y="674.7" width="1.5" height="2.4" fill="#f6cde9"/><rect x="470.7" y="688.0" width="1.5" height="2.7" fill="#f6cde9"/><rect x="464.0" y="695.1" width="1.9" height="1.8" fill="#f6cde9"/><rect x="476.2" y="681.9" width="2.1" height="2.1" fill="#f6cde9"/><rect x="490.6" y="690.2" width="1.2" height="3.0" fill="#f6cde9"/><rect x="454.4" y="664.0" width="2.6" height="1.6" fill="#f6cde9"/><rect x="454.9" y="668.7" width="2.0" height="2.7" fill="#f6cde9"/><rect x="454.6" y="668.3" width="1.0" height="1.1" fill="#f6cde9"/><rect x="466.0" y="680.7" width="2.9" height="2.3" fill="#f6cde9"/><rect x="486.9" y="684.4" width="2.8" height="2.3" fill="#f6cde9"/><rect x="463.1" y="676.1" width="2.0" height="1.2" fill="#f6cde9"/><rect x="489.6" y="680.3" width="1.4" height="2.0" fill="#f6cde9"/><rect x="485.0" y="672.4" width="2.2" height="1.2" fill="#f6cde9"/><rect x="463.1" y="669.1" width="2.0" height="2.4" fill="#f6cde9"/><rect x="462.6" y="688.2" width="2.2" height="2.5" fill="#f6cde9"/><rect x="492.3" y="674.7" width="3.0" height="1.9" fill="#f6cde9"/><rect x="473.5" y="668.7" width="1.2" height="2.3" fill="#f6cde9"/><rect x="457.8" y="663.3" width="1.2" height="2.1" fill="#f6cde9"/><rect x="461.4" y="672.0" width="2.5" height="1.9" fill="#f6cde9"/><rect x="459.5" y="687.8" width="3.0" height="2.2" fill="#f6cde9"/><rect x="471.0" y="682.5" width="2.4" height="2.7" fill="#f6cde9"/><rect x="484.2" y="671.4" width="2.6" height="1.2" fill="#f6cde9"/><rect x="458.8" y="681.3" width="1.4" height="2.1" fill="#f6cde9"/><rect x="464.8" y="697.8" width="1.9" height="2.6" fill="#f6cde9"/><rect x="490.4" y="679.2" width="2.5" height="2.0" fill="#f6cde9"/><rect x="469.3" y="666.7" width="2.3" height="2.8" fill="#f6cde9"/><rect x="480.4" y="674.0" width="2.1" height="1.7" fill="#f6cde9"/><rect x="468.9" y="691.4" width="1.0" height="2.0" fill="#f6cde9"/><rect x="473.6" y="667.6" width="2.5" height="1.5" fill="#f6cde9"/><circle cx="470.1" cy="672.0" r="1.0" fill="#b25aa6"/><circle cx="471.2" cy="688.8" r="0.9" fill="#b25aa6"/><circle cx="485.0" cy="683.7" r="0.7" fill="#b25aa6"/><circle cx="473.6" cy="672.2" r="0.8" fill="#b25aa6"/><circle cx="491.5" cy="681.0" r="1.1" fill="#b25aa6"/><circle cx="460.4" cy="686.7" r="0.7" fill="#b25aa6"/><circle cx="463.0" cy="667.4" r="0.6" fill="#b25aa6"/><circle cx="489.9" cy="699.6" r="0.9" fill="#b25aa6"/><circle cx="454.8" cy="690.8" r="1.1" fill="#b25aa6"/><circle cx="456.1" cy="692.0" r="0.6" fill="#b25aa6"/><circle cx="463.4" cy="692.5" r="1.1" fill="#b25aa6"/><circle cx="463.5" cy="682.1" r="1.2" fill="#b25aa6"/><circle cx="478.0" cy="682.7" r="0.7" fill="#b25aa6"/><circle cx="457.0" cy="669.7" r="1.0" fill="#b25aa6"/><circle cx="477.7" cy="680.2" r="1.0" fill="#b25aa6"/><circle cx="476.4" cy="687.4" r="0.9" fill="#b25aa6"/><circle cx="487.3" cy="683.0" r="1.2" fill="#b25aa6"/><circle cx="492.9" cy="694.4" r="1.1" fill="#b25aa6"/><circle cx="481.3" cy="683.8" r="0.8" fill="#b25aa6"/><circle cx="458.3" cy="687.9" r="0.8" fill="#b25aa6"/><circle cx="478.3" cy="683.6" r="1.0" fill="#b25aa6"/><circle cx="471.1" cy="671.7" r="0.8" fill="#b25aa6"/><circle cx="481.6" cy="696.6" r="0.8" fill="#b25aa6"/><circle cx="466.6" cy="679.7" r="0.9" fill="#b25aa6"/><circle cx="479.1" cy="691.6" r="1.1" fill="#b25aa6"/><circle cx="486.0" cy="690.4" r="1.3" fill="#b25aa6"/><circle cx="471.9" cy="679.7" r="1.1" fill="#b25aa6"/><circle cx="466.6" cy="694.4" r="0.9" fill="#b25aa6"/><circle cx="476.1" cy="682.5" r="0.9" fill="#b25aa6"/><circle cx="454.7" cy="673.2" r="0.9" fill="#b25aa6"/><circle cx="491.6" cy="667.8" r="1.2" fill="#b25aa6"/><circle cx="492.4" cy="693.0" r="0.8" fill="#b25aa6"/><circle cx="455.1" cy="696.4" r="0.6" fill="#b25aa6"/><circle cx="466.0" cy="698.6" r="1.1" fill="#b25aa6"/><circle cx="486.6" cy="694.6" r="0.7" fill="#b25aa6"/><circle cx="474.1" cy="666.1" r="0.9" fill="#b25aa6"/><circle cx="473.7" cy="694.0" r="0.8" fill="#b25aa6"/><circle cx="480.4" cy="667.9" r="0.8" fill="#b25aa6"/><circle cx="456.6" cy="684.9" r="1.0" fill="#b25aa6"/><circle cx="482.2" cy="678.7" r="1.3" fill="#b25aa6"/><circle cx="482.6" cy="684.4" r="1.2" fill="#b25aa6"/><circle cx="461.3" cy="673.7" r="1.0" fill="#b25aa6"/><circle cx="477.8" cy="699.3" r="1.1" fill="#b25aa6"/><circle cx="456.1" cy="698.9" r="0.9" fill="#b25aa6"/><circle cx="462.4" cy="691.8" r="1.0" fill="#b25aa6"/><circle cx="487.8" cy="683.7" r="0.8" fill="#b25aa6"/><circle cx="472.7" cy="680.4" r="0.8" fill="#b25aa6"/><circle cx="477.1" cy="668.2" r="0.8" fill="#b25aa6"/><circle cx="458.9" cy="663.5" r="1.0" fill="#b25aa6"/><circle cx="483.2" cy="678.0" r="1.2" fill="#b25aa6"/><circle cx="478.1" cy="687.8" r="0.8" fill="#b25aa6"/><circle cx="489.5" cy="675.9" r="1.2" fill="#b25aa6"/><circle cx="463.9" cy="699.2" r="1.1" fill="#b25aa6"/><circle cx="461.3" cy="690.7" r="0.7" fill="#b25aa6"/><circle cx="469.4" cy="677.1" r="0.8" fill="#b25aa6"/><circle cx="468.5" cy="668.7" r="0.9" fill="#b25aa6"/><circle cx="458.0" cy="693.1" r="0.8" fill="#b25aa6"/><circle cx="482.2" cy="679.0" r="1.3" fill="#b25aa6"/><circle cx="488.8" cy="689.7" r="1.2" fill="#b25aa6"/><circle cx="490.1" cy="698.3" r="0.9" fill="#b25aa6"/><circle cx="477.5" cy="665.2" r="0.9" fill="#b25aa6"/><circle cx="467.2" cy="686.5" r="0.6" fill="#b25aa6"/><circle cx="483.9" cy="665.4" r="0.9" fill="#b25aa6"/><circle cx="473.3" cy="694.9" r="1.0" fill="#b25aa6"/><circle cx="460.1" cy="688.2" r="0.8" fill="#b25aa6"/><circle cx="478.5" cy="678.4" r="1.3" fill="#b25aa6"/><circle cx="471.9" cy="673.0" r="0.8" fill="#b25aa6"/><circle cx="491.8" cy="675.9" r="0.8" fill="#b25aa6"/><circle cx="475.3" cy="688.3" r="1.3" fill="#b25aa6"/><circle cx="457.4" cy="675.2" r="1.1" fill="#b25aa6"/><circle cx="473.7" cy="689.1" r="1.1" fill="#b25aa6"/><circle cx="457.9" cy="664.4" r="0.7" fill="#b25aa6"/><circle cx="466.2" cy="669.5" r="0.8" fill="#b25aa6"/><circle cx="458.8" cy="663.5" r="1.0" fill="#b25aa6"/><circle cx="484.0" cy="668.6" r="0.7" fill="#b25aa6"/><circle cx="482.8" cy="665.6" r="0.7" fill="#b25aa6"/><circle cx="473.5" cy="673.9" r="1.1" fill="#b25aa6"/><circle cx="474.1" cy="682.6" r="0.9" fill="#b25aa6"/><circle cx="455.4" cy="694.1" r="0.9" fill="#b25aa6"/><circle cx="486.7" cy="666.6" r="0.9" fill="#b25aa6"/><circle cx="475.5" cy="668.5" r="0.7" fill="#b25aa6"/><circle cx="491.0" cy="698.6" r="1.3" fill="#b25aa6"/><circle cx="475.6" cy="690.7" r="1.0" fill="#b25aa6"/><circle cx="473.0" cy="669.1" r="1.0" fill="#b25aa6"/><circle cx="471.7" cy="688.6" r="0.6" fill="#b25aa6"/><circle cx="465.8" cy="666.8" r="1.1" fill="#b25aa6"/><circle cx="473.1" cy="673.5" r="1.1" fill="#b25aa6"/><circle cx="474.7" cy="673.7" r="0.9" fill="#b25aa6"/><circle cx="454.4" cy="664.8" r="0.6" fill="#b25aa6"/><circle cx="492.0" cy="696.3" r="1.0" fill="#b25aa6"/><circle cx="491.2" cy="683.3" r="0.8" fill="#6e2c70"/><circle cx="458.4" cy="679.3" r="0.7" fill="#6e2c70"/><circle cx="470.3" cy="687.6" r="0.6" fill="#6e2c70"/><circle cx="480.0" cy="670.5" r="0.7" fill="#6e2c70"/><circle cx="471.1" cy="682.8" r="0.5" fill="#6e2c70"/><circle cx="463.8" cy="690.1" r="0.6" fill="#6e2c70"/><circle cx="473.0" cy="700.8" r="0.7" fill="#6e2c70"/><circle cx="483.1" cy="692.2" r="0.9" fill="#6e2c70"/><circle cx="469.5" cy="677.7" r="0.8" fill="#6e2c70"/><circle cx="455.3" cy="680.5" r="0.6" fill="#6e2c70"/><circle cx="476.1" cy="690.7" r="0.8" fill="#6e2c70"/><circle cx="474.2" cy="689.1" r="0.5" fill="#6e2c70"/><circle cx="480.2" cy="698.3" r="0.7" fill="#6e2c70"/><circle cx="473.5" cy="682.2" r="0.7" fill="#6e2c70"/><circle cx="461.3" cy="670.1" r="0.8" fill="#6e2c70"/><circle cx="474.5" cy="664.0" r="0.7" fill="#6e2c70"/><circle cx="486.9" cy="687.6" r="0.6" fill="#6e2c70"/><circle cx="491.6" cy="669.5" r="0.7" fill="#6e2c70"/><circle cx="472.3" cy="668.9" r="0.6" fill="#6e2c70"/><circle cx="461.6" cy="669.0" r="0.5" fill="#6e2c70"/><circle cx="479.6" cy="688.2" r="0.6" fill="#6e2c70"/><circle cx="491.6" cy="678.8" r="0.7" fill="#6e2c70"/><circle cx="490.7" cy="687.5" r="0.7" fill="#6e2c70"/><circle cx="483.6" cy="691.0" r="0.6" fill="#6e2c70"/><circle cx="457.0" cy="690.7" r="0.8" fill="#6e2c70"/><circle cx="477.8" cy="667.0" r="0.8" fill="#6e2c70"/><circle cx="461.2" cy="693.2" r="0.7" fill="#6e2c70"/><circle cx="479.3" cy="665.4" r="0.6" fill="#6e2c70"/><circle cx="483.0" cy="666.8" r="0.5" fill="#6e2c70"/><circle cx="470.5" cy="695.3" r="0.8" fill="#6e2c70"/><circle cx="463.3" cy="665.6" r="0.8" fill="#6e2c70"/><circle cx="487.3" cy="689.5" r="0.6" fill="#6e2c70"/><circle cx="483.7" cy="662.9" r="0.6" fill="#6e2c70"/><circle cx="466.8" cy="699.3" r="0.5" fill="#6e2c70"/><circle cx="460.6" cy="690.8" r="0.8" fill="#6e2c70"/><circle cx="464.8" cy="665.4" r="0.8" fill="#6e2c70"/><circle cx="492.3" cy="697.5" r="0.7" fill="#6e2c70"/><circle cx="457.6" cy="691.0" r="0.8" fill="#6e2c70"/><circle cx="486.9" cy="691.7" r="0.7" fill="#6e2c70"/><circle cx="492.6" cy="680.3" r="0.7" fill="#6e2c70"/><circle cx="479.3" cy="692.8" r="0.7" fill="#6e2c70"/><circle cx="491.2" cy="673.0" r="0.9" fill="#6e2c70"/><circle cx="488.7" cy="675.8" r="0.5" fill="#6e2c70"/><circle cx="477.9" cy="686.4" r="0.9" fill="#6e2c70"/><circle cx="476.2" cy="690.4" r="0.8" fill="#6e2c70"/><circle cx="460.9" cy="688.2" r="0.7" fill="#6e2c70"/><circle cx="462.8" cy="673.1" r="0.6" fill="#6e2c70"/><circle cx="483.1" cy="683.8" r="0.6" fill="#6e2c70"/><circle cx="456.5" cy="692.8" r="0.7" fill="#4a2050"/><circle cx="487.1" cy="692.8" r="0.5" fill="#4a2050"/><circle cx="465.3" cy="680.3" r="0.6" fill="#4a2050"/><circle cx="486.6" cy="670.4" r="0.5" fill="#4a2050"/><circle cx="472.0" cy="664.4" r="0.5" fill="#4a2050"/><circle cx="478.1" cy="685.8" r="0.7" fill="#4a2050"/><circle cx="457.1" cy="684.1" r="0.7" fill="#4a2050"/><circle cx="466.2" cy="671.1" r="0.5" fill="#4a2050"/><circle cx="473.2" cy="676.6" r="0.7" fill="#4a2050"/><circle cx="480.7" cy="673.1" r="0.7" fill="#4a2050"/><circle cx="464.4" cy="691.2" r="0.6" fill="#4a2050"/><circle cx="477.6" cy="690.8" r="0.7" fill="#4a2050"/>
<rect x="0.5" y="0.5" width="519" height="719" fill="none" stroke="#5c5c5c" stroke-width="1"/>
</svg>
</body></html>
